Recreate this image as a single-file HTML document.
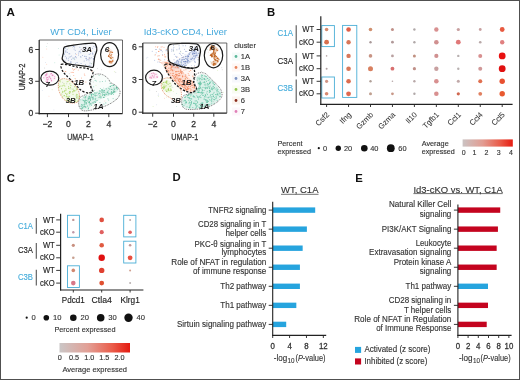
<!DOCTYPE html>
<html><head><meta charset="utf-8"><style>
html,body{margin:0;padding:0;background:#fff;}
svg{display:block;font-family:"Liberation Sans", sans-serif;will-change:transform;}
</style></head><body>
<svg width="520" height="380" viewBox="0 0 520 380">
<rect width="520" height="380" fill="#fff"/>
<text x="6.6" y="16" font-size="11.3" fill="#111" font-weight="bold" textLength="8.4" lengthAdjust="spacingAndGlyphs">A</text>
<text x="266.9" y="16.3" font-size="11.3" fill="#111" font-weight="bold">B</text>
<text x="6.8" y="181.8" font-size="11.3" fill="#111" font-weight="bold">C</text>
<text x="172.4" y="181.3" font-size="11.3" fill="#111" font-weight="bold">D</text>
<text x="355.3" y="181.9" font-size="11.3" fill="#111" font-weight="bold">E</text>
<text x="50.2" y="34.5" font-size="9.3" fill="#45a9dc" stroke="#45a9dc" stroke-width="0" textLength="61.5" lengthAdjust="spacingAndGlyphs">WT CD4, Liver</text>
<text x="143.7" y="34.7" font-size="9.3" fill="#45a9dc" stroke="#45a9dc" stroke-width="0" textLength="83.3" lengthAdjust="spacingAndGlyphs">Id3-cKO CD4, Liver</text>
<path d="M92.3,77.0 C93.2,75.5 94.4,74.6 96.1,74.2 C97.8,73.8 100.4,73.9 102.4,74.6 C104.4,75.3 106.8,77.3 108.1,78.6 C109.4,79.9 109.3,81.3 110.5,82.4 C111.7,83.5 113.6,84.0 115.0,85.0 C116.4,86.0 118.0,87.5 118.8,88.7 C119.6,90.0 120.2,91.0 120.1,92.5 C120.0,94.0 119.2,96.1 118.2,97.6 C117.2,99.1 115.6,100.2 113.8,101.4 C112.0,102.7 109.6,104.1 107.5,105.1 C105.4,106.1 103.6,106.7 101.0,107.5 C98.4,108.3 95.0,109.5 92.0,110.0 C89.0,110.5 85.2,111.3 83.0,110.6 C80.8,109.9 79.6,108.1 79.0,106.0 C78.4,103.9 78.5,99.9 79.6,98.0 C80.7,96.1 83.7,95.8 85.7,94.5 C87.7,93.2 91.0,92.4 91.8,90.5 C92.6,88.6 90.4,85.2 90.5,83.0 C90.6,80.8 91.4,78.5 92.3,77.0 Z" fill="#66c2a5" fill-opacity="0.04"/>
<circle cx="84.52" cy="105.05" r="0.55" fill="#66c2a5" fill-opacity="0.7"/>
<circle cx="110.39" cy="83.48" r="0.55" fill="#66c2a5" fill-opacity="0.7"/>
<circle cx="99.36" cy="90.56" r="0.55" fill="#66c2a5" fill-opacity="0.7"/>
<circle cx="105.78" cy="102.91" r="0.55" fill="#66c2a5" fill-opacity="0.7"/>
<circle cx="113.35" cy="89.95" r="0.55" fill="#66c2a5" fill-opacity="0.7"/>
<circle cx="97.31" cy="100.46" r="0.55" fill="#66c2a5" fill-opacity="0.7"/>
<circle cx="88.40" cy="108.61" r="0.55" fill="#66c2a5" fill-opacity="0.7"/>
<circle cx="117.60" cy="88.08" r="0.55" fill="#66c2a5" fill-opacity="0.7"/>
<circle cx="97.00" cy="92.25" r="0.55" fill="#66c2a5" fill-opacity="0.7"/>
<circle cx="113.42" cy="94.45" r="0.55" fill="#66c2a5" fill-opacity="0.7"/>
<circle cx="105.40" cy="80.97" r="0.55" fill="#66c2a5" fill-opacity="0.7"/>
<circle cx="108.65" cy="100.09" r="0.55" fill="#66c2a5" fill-opacity="0.7"/>
<circle cx="117.49" cy="89.56" r="0.55" fill="#66c2a5" fill-opacity="0.7"/>
<circle cx="113.11" cy="98.60" r="0.55" fill="#66c2a5" fill-opacity="0.7"/>
<circle cx="91.47" cy="95.59" r="0.55" fill="#66c2a5" fill-opacity="0.7"/>
<circle cx="99.77" cy="95.64" r="0.55" fill="#66c2a5" fill-opacity="0.7"/>
<circle cx="111.77" cy="89.28" r="0.55" fill="#66c2a5" fill-opacity="0.7"/>
<circle cx="107.89" cy="98.75" r="0.55" fill="#66c2a5" fill-opacity="0.7"/>
<circle cx="94.40" cy="90.18" r="0.55" fill="#66c2a5" fill-opacity="0.7"/>
<circle cx="99.90" cy="102.54" r="0.55" fill="#66c2a5" fill-opacity="0.7"/>
<circle cx="100.41" cy="88.51" r="0.55" fill="#66c2a5" fill-opacity="0.7"/>
<circle cx="99.13" cy="75.28" r="0.55" fill="#66c2a5" fill-opacity="0.7"/>
<circle cx="80.79" cy="99.80" r="0.55" fill="#66c2a5" fill-opacity="0.7"/>
<circle cx="95.18" cy="80.40" r="0.55" fill="#66c2a5" fill-opacity="0.7"/>
<circle cx="110.67" cy="93.84" r="0.55" fill="#66c2a5" fill-opacity="0.7"/>
<circle cx="102.75" cy="90.91" r="0.55" fill="#66c2a5" fill-opacity="0.7"/>
<circle cx="90.07" cy="94.15" r="0.55" fill="#66c2a5" fill-opacity="0.7"/>
<circle cx="112.26" cy="93.08" r="0.55" fill="#66c2a5" fill-opacity="0.7"/>
<circle cx="102.07" cy="89.71" r="0.55" fill="#66c2a5" fill-opacity="0.7"/>
<circle cx="81.31" cy="105.87" r="0.55" fill="#66c2a5" fill-opacity="0.7"/>
<circle cx="102.43" cy="81.47" r="0.55" fill="#66c2a5" fill-opacity="0.7"/>
<circle cx="99.74" cy="91.85" r="0.55" fill="#66c2a5" fill-opacity="0.7"/>
<circle cx="93.66" cy="86.80" r="0.55" fill="#66c2a5" fill-opacity="0.7"/>
<circle cx="101.13" cy="96.90" r="0.55" fill="#66c2a5" fill-opacity="0.7"/>
<circle cx="104.17" cy="90.88" r="0.55" fill="#66c2a5" fill-opacity="0.7"/>
<circle cx="86.28" cy="95.47" r="0.55" fill="#66c2a5" fill-opacity="0.7"/>
<circle cx="89.49" cy="104.84" r="0.55" fill="#66c2a5" fill-opacity="0.7"/>
<circle cx="110.05" cy="83.28" r="0.55" fill="#66c2a5" fill-opacity="0.7"/>
<circle cx="83.50" cy="96.94" r="0.55" fill="#66c2a5" fill-opacity="0.7"/>
<circle cx="93.16" cy="76.73" r="0.55" fill="#66c2a5" fill-opacity="0.7"/>
<circle cx="108.25" cy="90.75" r="0.55" fill="#66c2a5" fill-opacity="0.7"/>
<circle cx="92.23" cy="91.45" r="0.55" fill="#66c2a5" fill-opacity="0.7"/>
<circle cx="96.30" cy="81.04" r="0.55" fill="#66c2a5" fill-opacity="0.7"/>
<circle cx="83.47" cy="106.95" r="0.55" fill="#66c2a5" fill-opacity="0.7"/>
<circle cx="99.97" cy="81.81" r="0.55" fill="#66c2a5" fill-opacity="0.7"/>
<circle cx="103.89" cy="103.94" r="0.55" fill="#66c2a5" fill-opacity="0.7"/>
<circle cx="85.02" cy="100.37" r="0.55" fill="#66c2a5" fill-opacity="0.7"/>
<circle cx="85.59" cy="99.85" r="0.55" fill="#66c2a5" fill-opacity="0.7"/>
<circle cx="106.87" cy="94.03" r="0.55" fill="#66c2a5" fill-opacity="0.7"/>
<circle cx="88.07" cy="109.71" r="0.55" fill="#66c2a5" fill-opacity="0.7"/>
<circle cx="111.79" cy="93.00" r="0.55" fill="#66c2a5" fill-opacity="0.7"/>
<circle cx="88.17" cy="97.81" r="0.55" fill="#66c2a5" fill-opacity="0.7"/>
<circle cx="95.23" cy="95.16" r="0.55" fill="#66c2a5" fill-opacity="0.7"/>
<circle cx="92.20" cy="97.17" r="0.55" fill="#66c2a5" fill-opacity="0.7"/>
<circle cx="91.59" cy="105.45" r="0.55" fill="#66c2a5" fill-opacity="0.7"/>
<path d="M80.0,109.0 C78.7,107.5 79.0,102.2 80.0,100.0 C81.0,97.8 83.3,97.3 86.0,96.0 C88.7,94.7 92.7,93.3 96.0,92.0 C99.3,90.7 103.2,89.2 106.0,88.0 C108.8,86.8 111.0,84.7 113.0,84.5 C115.0,84.3 117.3,85.8 118.0,87.0 C118.7,88.2 118.7,90.5 117.0,92.0 C115.3,93.5 111.0,94.7 108.0,96.0 C105.0,97.3 101.7,98.5 99.0,100.0 C96.3,101.5 93.8,103.5 92.0,105.0 C90.2,106.5 90.0,108.3 88.0,109.0 C86.0,109.7 81.3,110.5 80.0,109.0 Z" fill="#66c2a5" fill-opacity="0.16"/>
<circle cx="108.27" cy="94.70" r="0.55" fill="#4fb894" fill-opacity="0.78"/>
<circle cx="113.39" cy="85.43" r="0.55" fill="#4fb894" fill-opacity="0.78"/>
<circle cx="94.36" cy="93.00" r="0.55" fill="#4fb894" fill-opacity="0.78"/>
<circle cx="87.82" cy="101.02" r="0.55" fill="#4fb894" fill-opacity="0.78"/>
<circle cx="83.97" cy="100.82" r="0.55" fill="#4fb894" fill-opacity="0.78"/>
<circle cx="91.25" cy="96.75" r="0.55" fill="#4fb894" fill-opacity="0.78"/>
<circle cx="88.92" cy="102.27" r="0.55" fill="#4fb894" fill-opacity="0.78"/>
<circle cx="114.62" cy="89.72" r="0.55" fill="#4fb894" fill-opacity="0.78"/>
<circle cx="111.96" cy="93.52" r="0.55" fill="#4fb894" fill-opacity="0.78"/>
<circle cx="85.14" cy="98.00" r="0.55" fill="#4fb894" fill-opacity="0.78"/>
<circle cx="82.78" cy="105.72" r="0.55" fill="#4fb894" fill-opacity="0.78"/>
<circle cx="92.95" cy="99.57" r="0.55" fill="#4fb894" fill-opacity="0.78"/>
<circle cx="109.71" cy="93.76" r="0.55" fill="#4fb894" fill-opacity="0.78"/>
<circle cx="101.69" cy="89.98" r="0.55" fill="#4fb894" fill-opacity="0.78"/>
<circle cx="90.53" cy="103.78" r="0.55" fill="#4fb894" fill-opacity="0.78"/>
<circle cx="84.37" cy="106.18" r="0.55" fill="#4fb894" fill-opacity="0.78"/>
<circle cx="89.17" cy="102.73" r="0.55" fill="#4fb894" fill-opacity="0.78"/>
<circle cx="83.91" cy="106.81" r="0.55" fill="#4fb894" fill-opacity="0.78"/>
<circle cx="114.55" cy="91.70" r="0.55" fill="#4fb894" fill-opacity="0.78"/>
<circle cx="89.63" cy="96.19" r="0.55" fill="#4fb894" fill-opacity="0.78"/>
<circle cx="83.80" cy="100.48" r="0.55" fill="#4fb894" fill-opacity="0.78"/>
<circle cx="102.67" cy="95.52" r="0.55" fill="#4fb894" fill-opacity="0.78"/>
<circle cx="116.85" cy="87.23" r="0.55" fill="#4fb894" fill-opacity="0.78"/>
<circle cx="88.18" cy="99.64" r="0.55" fill="#4fb894" fill-opacity="0.78"/>
<circle cx="89.85" cy="97.77" r="0.55" fill="#4fb894" fill-opacity="0.78"/>
<circle cx="113.95" cy="91.92" r="0.55" fill="#4fb894" fill-opacity="0.78"/>
<circle cx="92.70" cy="97.83" r="0.55" fill="#4fb894" fill-opacity="0.78"/>
<circle cx="82.85" cy="100.07" r="0.55" fill="#4fb894" fill-opacity="0.78"/>
<circle cx="91.05" cy="103.91" r="0.55" fill="#4fb894" fill-opacity="0.78"/>
<circle cx="85.86" cy="96.79" r="0.55" fill="#4fb894" fill-opacity="0.78"/>
<circle cx="110.21" cy="86.39" r="0.55" fill="#4fb894" fill-opacity="0.78"/>
<circle cx="116.07" cy="88.74" r="0.55" fill="#4fb894" fill-opacity="0.78"/>
<circle cx="111.22" cy="92.33" r="0.55" fill="#4fb894" fill-opacity="0.78"/>
<circle cx="114.94" cy="91.69" r="0.55" fill="#4fb894" fill-opacity="0.78"/>
<circle cx="113.96" cy="87.97" r="0.55" fill="#4fb894" fill-opacity="0.78"/>
<circle cx="106.20" cy="88.86" r="0.55" fill="#4fb894" fill-opacity="0.78"/>
<circle cx="100.87" cy="97.76" r="0.55" fill="#4fb894" fill-opacity="0.78"/>
<circle cx="95.04" cy="92.80" r="0.55" fill="#4fb894" fill-opacity="0.78"/>
<circle cx="104.56" cy="94.71" r="0.55" fill="#4fb894" fill-opacity="0.78"/>
<circle cx="111.50" cy="94.25" r="0.55" fill="#4fb894" fill-opacity="0.78"/>
<circle cx="95.24" cy="99.50" r="0.55" fill="#4fb894" fill-opacity="0.78"/>
<circle cx="100.09" cy="96.77" r="0.55" fill="#4fb894" fill-opacity="0.78"/>
<circle cx="104.66" cy="95.24" r="0.55" fill="#4fb894" fill-opacity="0.78"/>
<circle cx="89.06" cy="96.63" r="0.55" fill="#4fb894" fill-opacity="0.78"/>
<circle cx="95.67" cy="98.23" r="0.55" fill="#4fb894" fill-opacity="0.78"/>
<circle cx="90.46" cy="100.34" r="0.55" fill="#4fb894" fill-opacity="0.78"/>
<circle cx="86.06" cy="103.27" r="0.55" fill="#4fb894" fill-opacity="0.78"/>
<circle cx="113.55" cy="92.14" r="0.55" fill="#4fb894" fill-opacity="0.78"/>
<circle cx="94.12" cy="101.68" r="0.55" fill="#4fb894" fill-opacity="0.78"/>
<circle cx="88.27" cy="98.45" r="0.55" fill="#4fb894" fill-opacity="0.78"/>
<circle cx="93.22" cy="97.12" r="0.55" fill="#4fb894" fill-opacity="0.78"/>
<circle cx="86.26" cy="102.38" r="0.55" fill="#4fb894" fill-opacity="0.78"/>
<circle cx="81.55" cy="108.54" r="0.55" fill="#4fb894" fill-opacity="0.78"/>
<circle cx="116.46" cy="87.91" r="0.55" fill="#4fb894" fill-opacity="0.78"/>
<circle cx="84.80" cy="106.77" r="0.55" fill="#4fb894" fill-opacity="0.78"/>
<circle cx="116.46" cy="87.42" r="0.55" fill="#4fb894" fill-opacity="0.78"/>
<circle cx="102.83" cy="94.50" r="0.55" fill="#4fb894" fill-opacity="0.78"/>
<circle cx="89.43" cy="102.86" r="0.55" fill="#4fb894" fill-opacity="0.78"/>
<circle cx="111.74" cy="89.56" r="0.55" fill="#4fb894" fill-opacity="0.78"/>
<circle cx="90.82" cy="97.79" r="0.55" fill="#4fb894" fill-opacity="0.78"/>
<circle cx="90.38" cy="98.85" r="0.55" fill="#4fb894" fill-opacity="0.78"/>
<circle cx="89.53" cy="101.25" r="0.55" fill="#4fb894" fill-opacity="0.78"/>
<circle cx="84.11" cy="104.28" r="0.55" fill="#4fb894" fill-opacity="0.78"/>
<circle cx="84.49" cy="102.81" r="0.55" fill="#4fb894" fill-opacity="0.78"/>
<circle cx="85.19" cy="96.76" r="0.55" fill="#4fb894" fill-opacity="0.78"/>
<circle cx="101.76" cy="92.13" r="0.55" fill="#4fb894" fill-opacity="0.78"/>
<circle cx="99.12" cy="93.24" r="0.55" fill="#4fb894" fill-opacity="0.78"/>
<circle cx="96.81" cy="95.51" r="0.55" fill="#4fb894" fill-opacity="0.78"/>
<circle cx="91.58" cy="94.29" r="0.55" fill="#4fb894" fill-opacity="0.78"/>
<circle cx="103.56" cy="97.51" r="0.55" fill="#4fb894" fill-opacity="0.78"/>
<circle cx="94.79" cy="94.93" r="0.55" fill="#4fb894" fill-opacity="0.78"/>
<circle cx="103.93" cy="94.47" r="0.55" fill="#4fb894" fill-opacity="0.78"/>
<circle cx="96.06" cy="93.20" r="0.55" fill="#4fb894" fill-opacity="0.78"/>
<circle cx="106.24" cy="94.35" r="0.55" fill="#4fb894" fill-opacity="0.78"/>
<circle cx="113.67" cy="91.09" r="0.55" fill="#4fb894" fill-opacity="0.78"/>
<circle cx="82.85" cy="104.85" r="0.55" fill="#4fb894" fill-opacity="0.78"/>
<circle cx="99.88" cy="93.52" r="0.55" fill="#4fb894" fill-opacity="0.78"/>
<circle cx="86.41" cy="100.50" r="0.55" fill="#4fb894" fill-opacity="0.78"/>
<circle cx="90.25" cy="99.44" r="0.55" fill="#4fb894" fill-opacity="0.78"/>
<circle cx="88.82" cy="98.25" r="0.55" fill="#4fb894" fill-opacity="0.78"/>
<circle cx="86.55" cy="103.85" r="0.55" fill="#4fb894" fill-opacity="0.78"/>
<circle cx="112.94" cy="92.58" r="0.55" fill="#4fb894" fill-opacity="0.78"/>
<circle cx="88.45" cy="108.11" r="0.55" fill="#4fb894" fill-opacity="0.78"/>
<circle cx="81.16" cy="106.54" r="0.55" fill="#4fb894" fill-opacity="0.78"/>
<circle cx="103.65" cy="92.25" r="0.55" fill="#4fb894" fill-opacity="0.78"/>
<circle cx="109.85" cy="89.15" r="0.55" fill="#4fb894" fill-opacity="0.78"/>
<circle cx="103.04" cy="90.92" r="0.55" fill="#4fb894" fill-opacity="0.78"/>
<circle cx="85.25" cy="102.04" r="0.55" fill="#4fb894" fill-opacity="0.78"/>
<circle cx="93.72" cy="102.91" r="0.55" fill="#4fb894" fill-opacity="0.78"/>
<circle cx="89.14" cy="102.09" r="0.55" fill="#4fb894" fill-opacity="0.78"/>
<circle cx="107.30" cy="91.98" r="0.55" fill="#4fb894" fill-opacity="0.78"/>
<circle cx="84.49" cy="101.47" r="0.55" fill="#4fb894" fill-opacity="0.78"/>
<circle cx="98.81" cy="93.76" r="0.55" fill="#4fb894" fill-opacity="0.78"/>
<circle cx="102.04" cy="89.69" r="0.55" fill="#4fb894" fill-opacity="0.78"/>
<circle cx="107.17" cy="92.59" r="0.55" fill="#4fb894" fill-opacity="0.78"/>
<circle cx="92.14" cy="93.89" r="0.55" fill="#4fb894" fill-opacity="0.78"/>
<circle cx="108.83" cy="88.23" r="0.55" fill="#4fb894" fill-opacity="0.78"/>
<circle cx="85.52" cy="100.79" r="0.55" fill="#4fb894" fill-opacity="0.78"/>
<circle cx="111.94" cy="85.55" r="0.55" fill="#4fb894" fill-opacity="0.78"/>
<circle cx="105.19" cy="94.05" r="0.55" fill="#4fb894" fill-opacity="0.78"/>
<circle cx="104.38" cy="90.46" r="0.55" fill="#4fb894" fill-opacity="0.78"/>
<circle cx="82.29" cy="107.41" r="0.55" fill="#4fb894" fill-opacity="0.78"/>
<circle cx="102.44" cy="93.07" r="0.55" fill="#4fb894" fill-opacity="0.78"/>
<circle cx="93.42" cy="94.61" r="0.55" fill="#4fb894" fill-opacity="0.78"/>
<circle cx="87.58" cy="106.06" r="0.55" fill="#4fb894" fill-opacity="0.78"/>
<circle cx="96.12" cy="100.73" r="0.55" fill="#4fb894" fill-opacity="0.78"/>
<circle cx="85.74" cy="107.01" r="0.55" fill="#4fb894" fill-opacity="0.78"/>
<circle cx="95.02" cy="101.84" r="0.55" fill="#4fb894" fill-opacity="0.78"/>
<circle cx="113.53" cy="85.10" r="0.55" fill="#4fb894" fill-opacity="0.78"/>
<circle cx="110.41" cy="86.60" r="0.55" fill="#4fb894" fill-opacity="0.78"/>
<circle cx="107.84" cy="92.17" r="0.55" fill="#4fb894" fill-opacity="0.78"/>
<circle cx="84.94" cy="103.97" r="0.55" fill="#4fb894" fill-opacity="0.78"/>
<circle cx="91.54" cy="94.91" r="0.55" fill="#4fb894" fill-opacity="0.78"/>
<circle cx="89.32" cy="98.15" r="0.55" fill="#4fb894" fill-opacity="0.78"/>
<circle cx="104.80" cy="95.49" r="0.55" fill="#4fb894" fill-opacity="0.78"/>
<circle cx="111.60" cy="91.64" r="0.55" fill="#4fb894" fill-opacity="0.78"/>
<circle cx="93.12" cy="98.59" r="0.55" fill="#4fb894" fill-opacity="0.78"/>
<circle cx="81.66" cy="104.47" r="0.55" fill="#4fb894" fill-opacity="0.78"/>
<circle cx="104.74" cy="92.18" r="0.55" fill="#4fb894" fill-opacity="0.78"/>
<circle cx="92.36" cy="102.84" r="0.55" fill="#4fb894" fill-opacity="0.78"/>
<circle cx="99.04" cy="97.39" r="0.55" fill="#4fb894" fill-opacity="0.78"/>
<circle cx="85.65" cy="106.90" r="0.55" fill="#4fb894" fill-opacity="0.78"/>
<circle cx="82.62" cy="108.50" r="0.55" fill="#4fb894" fill-opacity="0.78"/>
<circle cx="85.11" cy="97.33" r="0.55" fill="#4fb894" fill-opacity="0.78"/>
<circle cx="108.37" cy="93.36" r="0.55" fill="#4fb894" fill-opacity="0.78"/>
<circle cx="95.30" cy="95.88" r="0.55" fill="#4fb894" fill-opacity="0.78"/>
<circle cx="114.46" cy="89.02" r="0.55" fill="#4fb894" fill-opacity="0.78"/>
<circle cx="95.62" cy="102.34" r="0.55" fill="#4fb894" fill-opacity="0.78"/>
<circle cx="100.74" cy="91.01" r="0.55" fill="#4fb894" fill-opacity="0.78"/>
<circle cx="104.02" cy="97.40" r="0.55" fill="#4fb894" fill-opacity="0.78"/>
<path d="M59.3,80.6 C60.3,79.4 62.4,78.4 64.4,78.6 C66.4,78.8 69.3,79.9 71.5,81.6 C73.7,83.3 76.2,86.2 77.6,88.7 C78.9,91.2 79.6,94.6 79.6,96.8 C79.6,99.0 79.1,100.9 77.6,101.9 C76.1,102.9 72.9,103.4 70.5,102.9 C68.1,102.4 65.3,100.8 63.4,98.9 C61.5,97.1 60.1,94.0 59.3,91.8 C58.4,89.6 58.3,87.6 58.3,85.7 C58.3,83.8 58.3,81.8 59.3,80.6 Z" fill="#a6d854" fill-opacity="0.12"/>
<circle cx="59.97" cy="80.37" r="0.55" fill="#98cc44" fill-opacity="0.75"/>
<circle cx="76.42" cy="94.23" r="0.55" fill="#98cc44" fill-opacity="0.75"/>
<circle cx="58.77" cy="87.54" r="0.55" fill="#98cc44" fill-opacity="0.75"/>
<circle cx="76.35" cy="95.86" r="0.55" fill="#98cc44" fill-opacity="0.75"/>
<circle cx="71.04" cy="99.63" r="0.55" fill="#98cc44" fill-opacity="0.75"/>
<circle cx="77.32" cy="88.94" r="0.55" fill="#98cc44" fill-opacity="0.75"/>
<circle cx="72.69" cy="91.83" r="0.55" fill="#98cc44" fill-opacity="0.75"/>
<circle cx="78.42" cy="98.00" r="0.55" fill="#98cc44" fill-opacity="0.75"/>
<circle cx="73.76" cy="98.38" r="0.55" fill="#98cc44" fill-opacity="0.75"/>
<circle cx="62.59" cy="96.75" r="0.55" fill="#98cc44" fill-opacity="0.75"/>
<circle cx="74.71" cy="91.10" r="0.55" fill="#98cc44" fill-opacity="0.75"/>
<circle cx="68.67" cy="88.41" r="0.55" fill="#98cc44" fill-opacity="0.75"/>
<circle cx="77.10" cy="97.95" r="0.55" fill="#98cc44" fill-opacity="0.75"/>
<circle cx="76.43" cy="89.74" r="0.55" fill="#98cc44" fill-opacity="0.75"/>
<circle cx="62.34" cy="85.87" r="0.55" fill="#98cc44" fill-opacity="0.75"/>
<circle cx="60.86" cy="85.95" r="0.55" fill="#98cc44" fill-opacity="0.75"/>
<circle cx="77.20" cy="96.75" r="0.55" fill="#98cc44" fill-opacity="0.75"/>
<circle cx="70.48" cy="92.00" r="0.55" fill="#98cc44" fill-opacity="0.75"/>
<circle cx="69.50" cy="91.77" r="0.55" fill="#98cc44" fill-opacity="0.75"/>
<circle cx="75.74" cy="101.77" r="0.55" fill="#98cc44" fill-opacity="0.75"/>
<circle cx="67.00" cy="93.91" r="0.55" fill="#98cc44" fill-opacity="0.75"/>
<circle cx="64.86" cy="85.94" r="0.55" fill="#98cc44" fill-opacity="0.75"/>
<circle cx="69.08" cy="92.85" r="0.55" fill="#98cc44" fill-opacity="0.75"/>
<circle cx="70.01" cy="102.33" r="0.55" fill="#98cc44" fill-opacity="0.75"/>
<circle cx="61.77" cy="94.07" r="0.55" fill="#98cc44" fill-opacity="0.75"/>
<circle cx="79.48" cy="96.49" r="0.55" fill="#98cc44" fill-opacity="0.75"/>
<circle cx="70.35" cy="87.55" r="0.55" fill="#98cc44" fill-opacity="0.75"/>
<circle cx="77.37" cy="94.87" r="0.55" fill="#98cc44" fill-opacity="0.75"/>
<circle cx="77.44" cy="101.08" r="0.55" fill="#98cc44" fill-opacity="0.75"/>
<circle cx="76.33" cy="87.92" r="0.55" fill="#98cc44" fill-opacity="0.75"/>
<circle cx="68.19" cy="97.94" r="0.55" fill="#98cc44" fill-opacity="0.75"/>
<circle cx="66.24" cy="96.81" r="0.55" fill="#98cc44" fill-opacity="0.75"/>
<circle cx="68.55" cy="86.78" r="0.55" fill="#98cc44" fill-opacity="0.75"/>
<circle cx="68.02" cy="81.43" r="0.55" fill="#98cc44" fill-opacity="0.75"/>
<circle cx="65.85" cy="88.69" r="0.55" fill="#98cc44" fill-opacity="0.75"/>
<circle cx="70.86" cy="85.58" r="0.55" fill="#98cc44" fill-opacity="0.75"/>
<circle cx="69.24" cy="96.57" r="0.55" fill="#98cc44" fill-opacity="0.75"/>
<circle cx="73.03" cy="89.13" r="0.55" fill="#98cc44" fill-opacity="0.75"/>
<circle cx="74.85" cy="90.40" r="0.55" fill="#98cc44" fill-opacity="0.75"/>
<circle cx="73.54" cy="90.54" r="0.55" fill="#98cc44" fill-opacity="0.75"/>
<circle cx="78.99" cy="96.00" r="0.55" fill="#98cc44" fill-opacity="0.75"/>
<circle cx="60.25" cy="81.75" r="0.55" fill="#98cc44" fill-opacity="0.75"/>
<circle cx="58.86" cy="84.75" r="0.55" fill="#98cc44" fill-opacity="0.75"/>
<circle cx="68.52" cy="101.74" r="0.55" fill="#98cc44" fill-opacity="0.75"/>
<circle cx="66.80" cy="96.18" r="0.55" fill="#98cc44" fill-opacity="0.75"/>
<circle cx="70.01" cy="91.59" r="0.55" fill="#98cc44" fill-opacity="0.75"/>
<circle cx="70.08" cy="88.80" r="0.55" fill="#98cc44" fill-opacity="0.75"/>
<circle cx="63.95" cy="85.37" r="0.55" fill="#98cc44" fill-opacity="0.75"/>
<circle cx="68.52" cy="97.88" r="0.55" fill="#98cc44" fill-opacity="0.75"/>
<circle cx="76.57" cy="97.71" r="0.55" fill="#98cc44" fill-opacity="0.75"/>
<circle cx="66.60" cy="94.85" r="0.55" fill="#98cc44" fill-opacity="0.75"/>
<circle cx="64.57" cy="90.94" r="0.55" fill="#98cc44" fill-opacity="0.75"/>
<circle cx="66.53" cy="100.60" r="0.55" fill="#98cc44" fill-opacity="0.75"/>
<circle cx="62.59" cy="91.25" r="0.55" fill="#98cc44" fill-opacity="0.75"/>
<circle cx="67.17" cy="100.18" r="0.55" fill="#98cc44" fill-opacity="0.75"/>
<circle cx="68.79" cy="100.35" r="0.55" fill="#98cc44" fill-opacity="0.75"/>
<circle cx="69.90" cy="83.82" r="0.55" fill="#98cc44" fill-opacity="0.75"/>
<circle cx="74.48" cy="86.79" r="0.55" fill="#98cc44" fill-opacity="0.75"/>
<circle cx="64.00" cy="91.74" r="0.55" fill="#98cc44" fill-opacity="0.75"/>
<circle cx="67.68" cy="97.06" r="0.55" fill="#98cc44" fill-opacity="0.75"/>
<circle cx="64.15" cy="95.76" r="0.55" fill="#98cc44" fill-opacity="0.75"/>
<circle cx="67.07" cy="81.76" r="0.55" fill="#98cc44" fill-opacity="0.75"/>
<circle cx="62.46" cy="92.23" r="0.55" fill="#98cc44" fill-opacity="0.75"/>
<circle cx="71.05" cy="101.93" r="0.55" fill="#98cc44" fill-opacity="0.75"/>
<circle cx="69.65" cy="93.40" r="0.55" fill="#98cc44" fill-opacity="0.75"/>
<circle cx="61.47" cy="88.66" r="0.55" fill="#98cc44" fill-opacity="0.75"/>
<circle cx="64.26" cy="95.50" r="0.55" fill="#98cc44" fill-opacity="0.75"/>
<circle cx="63.99" cy="83.81" r="0.55" fill="#98cc44" fill-opacity="0.75"/>
<circle cx="66.13" cy="90.03" r="0.55" fill="#98cc44" fill-opacity="0.75"/>
<circle cx="65.51" cy="93.32" r="0.55" fill="#98cc44" fill-opacity="0.75"/>
<circle cx="73.09" cy="91.59" r="0.55" fill="#98cc44" fill-opacity="0.75"/>
<circle cx="59.54" cy="86.52" r="0.55" fill="#98cc44" fill-opacity="0.75"/>
<circle cx="73.00" cy="94.28" r="0.55" fill="#98cc44" fill-opacity="0.75"/>
<circle cx="75.59" cy="100.26" r="0.55" fill="#98cc44" fill-opacity="0.75"/>
<circle cx="65.02" cy="90.60" r="0.55" fill="#98cc44" fill-opacity="0.75"/>
<path d="M64.4,47.1 C66.1,45.8 68.8,45.8 73.5,45.1 C78.2,44.4 89.1,43.1 92.8,43.1 C96.5,43.1 95.1,43.9 95.8,45.1 C96.5,46.3 97.0,48.3 96.8,50.2 C96.6,52.1 95.3,54.1 94.8,56.3 C94.3,58.5 94.1,61.5 93.8,63.4 C93.5,65.2 94.0,66.9 92.8,67.4 C91.6,67.9 89.1,66.7 86.7,66.4 C84.3,66.1 81.1,65.7 78.6,65.4 C76.1,65.1 73.5,64.7 71.5,64.4 C69.5,64.1 67.9,64.2 66.4,63.4 C64.9,62.5 62.8,61.0 62.3,59.3 C61.8,57.6 63.0,55.2 63.4,53.2 C63.8,51.2 62.7,48.5 64.4,47.1 Z" fill="#8da0cb" fill-opacity="0.07"/>
<circle cx="73.69" cy="46.21" r="0.5" fill="#7d92c4" fill-opacity="0.7"/>
<circle cx="67.13" cy="49.33" r="0.5" fill="#7d92c4" fill-opacity="0.7"/>
<circle cx="65.34" cy="56.19" r="0.5" fill="#7d92c4" fill-opacity="0.7"/>
<circle cx="86.55" cy="56.78" r="0.5" fill="#7d92c4" fill-opacity="0.7"/>
<circle cx="85.92" cy="48.60" r="0.5" fill="#7d92c4" fill-opacity="0.7"/>
<circle cx="69.18" cy="56.89" r="0.5" fill="#7d92c4" fill-opacity="0.7"/>
<circle cx="92.81" cy="53.36" r="0.5" fill="#7d92c4" fill-opacity="0.7"/>
<circle cx="72.83" cy="58.05" r="0.5" fill="#7d92c4" fill-opacity="0.7"/>
<circle cx="65.22" cy="48.56" r="0.5" fill="#7d92c4" fill-opacity="0.7"/>
<circle cx="74.07" cy="57.71" r="0.5" fill="#7d92c4" fill-opacity="0.7"/>
<circle cx="73.68" cy="46.49" r="0.5" fill="#7d92c4" fill-opacity="0.7"/>
<circle cx="70.95" cy="61.81" r="0.5" fill="#7d92c4" fill-opacity="0.7"/>
<circle cx="85.80" cy="44.10" r="0.5" fill="#7d92c4" fill-opacity="0.7"/>
<circle cx="64.97" cy="60.72" r="0.5" fill="#7d92c4" fill-opacity="0.7"/>
<circle cx="65.86" cy="50.80" r="0.5" fill="#7d92c4" fill-opacity="0.7"/>
<circle cx="84.32" cy="48.98" r="0.5" fill="#7d92c4" fill-opacity="0.7"/>
<circle cx="85.75" cy="49.75" r="0.5" fill="#7d92c4" fill-opacity="0.7"/>
<circle cx="80.08" cy="50.92" r="0.5" fill="#7d92c4" fill-opacity="0.7"/>
<circle cx="95.03" cy="51.66" r="0.5" fill="#7d92c4" fill-opacity="0.7"/>
<circle cx="90.02" cy="58.68" r="0.5" fill="#7d92c4" fill-opacity="0.7"/>
<circle cx="91.39" cy="57.83" r="0.5" fill="#7d92c4" fill-opacity="0.7"/>
<circle cx="92.33" cy="52.95" r="0.5" fill="#7d92c4" fill-opacity="0.7"/>
<circle cx="85.73" cy="58.18" r="0.5" fill="#7d92c4" fill-opacity="0.7"/>
<circle cx="80.51" cy="56.82" r="0.5" fill="#7d92c4" fill-opacity="0.7"/>
<circle cx="80.78" cy="52.67" r="0.5" fill="#7d92c4" fill-opacity="0.7"/>
<circle cx="93.29" cy="58.48" r="0.5" fill="#7d92c4" fill-opacity="0.7"/>
<circle cx="81.24" cy="44.41" r="0.5" fill="#7d92c4" fill-opacity="0.7"/>
<circle cx="79.84" cy="47.36" r="0.5" fill="#7d92c4" fill-opacity="0.7"/>
<circle cx="69.72" cy="53.66" r="0.5" fill="#7d92c4" fill-opacity="0.7"/>
<circle cx="81.14" cy="49.19" r="0.5" fill="#7d92c4" fill-opacity="0.7"/>
<circle cx="71.65" cy="55.98" r="0.5" fill="#7d92c4" fill-opacity="0.7"/>
<circle cx="78.63" cy="52.90" r="0.5" fill="#7d92c4" fill-opacity="0.7"/>
<circle cx="65.88" cy="52.18" r="0.5" fill="#7d92c4" fill-opacity="0.7"/>
<circle cx="84.88" cy="56.32" r="0.5" fill="#7d92c4" fill-opacity="0.7"/>
<circle cx="81.09" cy="63.60" r="0.5" fill="#7d92c4" fill-opacity="0.7"/>
<circle cx="87.25" cy="59.74" r="0.5" fill="#7d92c4" fill-opacity="0.7"/>
<circle cx="85.84" cy="46.89" r="0.5" fill="#7d92c4" fill-opacity="0.7"/>
<circle cx="93.81" cy="46.55" r="0.5" fill="#7d92c4" fill-opacity="0.7"/>
<circle cx="92.63" cy="48.36" r="0.5" fill="#7d92c4" fill-opacity="0.7"/>
<circle cx="91.33" cy="63.71" r="0.5" fill="#7d92c4" fill-opacity="0.7"/>
<circle cx="73.87" cy="64.69" r="0.5" fill="#7d92c4" fill-opacity="0.7"/>
<circle cx="75.47" cy="53.79" r="0.5" fill="#7d92c4" fill-opacity="0.7"/>
<circle cx="66.37" cy="57.70" r="0.5" fill="#7d92c4" fill-opacity="0.7"/>
<circle cx="71.61" cy="59.31" r="0.5" fill="#7d92c4" fill-opacity="0.7"/>
<circle cx="89.88" cy="57.77" r="0.5" fill="#7d92c4" fill-opacity="0.7"/>
<circle cx="94.03" cy="58.72" r="0.5" fill="#7d92c4" fill-opacity="0.7"/>
<circle cx="75.39" cy="56.75" r="0.5" fill="#7d92c4" fill-opacity="0.7"/>
<circle cx="92.76" cy="54.27" r="0.5" fill="#7d92c4" fill-opacity="0.7"/>
<circle cx="89.18" cy="57.64" r="0.5" fill="#7d92c4" fill-opacity="0.7"/>
<circle cx="76.39" cy="57.82" r="0.5" fill="#7d92c4" fill-opacity="0.7"/>
<circle cx="64.14" cy="54.54" r="0.5" fill="#7d92c4" fill-opacity="0.7"/>
<circle cx="63.59" cy="60.21" r="0.5" fill="#7d92c4" fill-opacity="0.7"/>
<circle cx="79.83" cy="51.76" r="0.5" fill="#7d92c4" fill-opacity="0.7"/>
<circle cx="93.66" cy="59.01" r="0.5" fill="#7d92c4" fill-opacity="0.7"/>
<circle cx="89.97" cy="63.02" r="0.5" fill="#7d92c4" fill-opacity="0.7"/>
<circle cx="70.76" cy="62.74" r="0.5" fill="#7d92c4" fill-opacity="0.7"/>
<circle cx="70.57" cy="56.77" r="0.5" fill="#7d92c4" fill-opacity="0.7"/>
<circle cx="74.64" cy="46.96" r="0.5" fill="#7d92c4" fill-opacity="0.7"/>
<circle cx="89.10" cy="65.37" r="0.5" fill="#7d92c4" fill-opacity="0.7"/>
<circle cx="73.12" cy="64.48" r="0.5" fill="#7d92c4" fill-opacity="0.7"/>
<circle cx="74.25" cy="59.08" r="0.5" fill="#7d92c4" fill-opacity="0.7"/>
<circle cx="64.22" cy="53.67" r="0.5" fill="#7d92c4" fill-opacity="0.7"/>
<circle cx="75.28" cy="50.24" r="0.5" fill="#7d92c4" fill-opacity="0.7"/>
<circle cx="90.46" cy="53.82" r="0.5" fill="#7d92c4" fill-opacity="0.7"/>
<circle cx="86.42" cy="58.53" r="0.5" fill="#7d92c4" fill-opacity="0.7"/>
<circle cx="80.21" cy="44.46" r="0.5" fill="#7d92c4" fill-opacity="0.7"/>
<circle cx="85.52" cy="64.76" r="0.5" fill="#7d92c4" fill-opacity="0.7"/>
<circle cx="68.24" cy="58.72" r="0.5" fill="#7d92c4" fill-opacity="0.7"/>
<circle cx="79.12" cy="51.39" r="0.5" fill="#7d92c4" fill-opacity="0.7"/>
<circle cx="75.52" cy="63.36" r="0.5" fill="#7d92c4" fill-opacity="0.7"/>
<circle cx="68.33" cy="60.51" r="0.5" fill="#7d92c4" fill-opacity="0.7"/>
<circle cx="65.74" cy="51.26" r="0.5" fill="#7d92c4" fill-opacity="0.7"/>
<circle cx="89.37" cy="54.31" r="0.5" fill="#7d92c4" fill-opacity="0.7"/>
<circle cx="78.56" cy="55.07" r="0.5" fill="#7d92c4" fill-opacity="0.7"/>
<circle cx="88.97" cy="60.67" r="0.5" fill="#7d92c4" fill-opacity="0.7"/>
<circle cx="68.98" cy="53.81" r="0.5" fill="#7d92c4" fill-opacity="0.7"/>
<circle cx="81.00" cy="56.99" r="0.5" fill="#7d92c4" fill-opacity="0.7"/>
<circle cx="67.47" cy="52.24" r="0.5" fill="#7d92c4" fill-opacity="0.7"/>
<circle cx="64.87" cy="47.55" r="0.5" fill="#7d92c4" fill-opacity="0.7"/>
<circle cx="88.73" cy="59.31" r="0.5" fill="#7d92c4" fill-opacity="0.7"/>
<circle cx="89.83" cy="50.11" r="0.5" fill="#7d92c4" fill-opacity="0.7"/>
<circle cx="90.80" cy="66.11" r="0.5" fill="#7d92c4" fill-opacity="0.7"/>
<circle cx="84.17" cy="60.99" r="0.5" fill="#7d92c4" fill-opacity="0.7"/>
<circle cx="93.79" cy="56.17" r="0.5" fill="#7d92c4" fill-opacity="0.7"/>
<circle cx="93.60" cy="59.19" r="0.5" fill="#7d92c4" fill-opacity="0.7"/>
<circle cx="74.12" cy="48.91" r="0.5" fill="#7d92c4" fill-opacity="0.7"/>
<circle cx="89.04" cy="65.83" r="0.5" fill="#7d92c4" fill-opacity="0.7"/>
<circle cx="95.43" cy="47.37" r="0.5" fill="#7d92c4" fill-opacity="0.7"/>
<circle cx="82.49" cy="55.57" r="0.5" fill="#7d92c4" fill-opacity="0.7"/>
<circle cx="77.05" cy="62.40" r="0.5" fill="#7d92c4" fill-opacity="0.7"/>
<circle cx="86.46" cy="59.88" r="0.5" fill="#7d92c4" fill-opacity="0.7"/>
<circle cx="84.85" cy="56.14" r="0.5" fill="#7d92c4" fill-opacity="0.7"/>
<circle cx="70.85" cy="62.04" r="0.5" fill="#7d92c4" fill-opacity="0.7"/>
<circle cx="66.41" cy="58.75" r="0.5" fill="#7d92c4" fill-opacity="0.7"/>
<circle cx="75.65" cy="56.71" r="0.5" fill="#7d92c4" fill-opacity="0.7"/>
<circle cx="81.51" cy="78.00" r="0.5" fill="#fc8d62" fill-opacity="0.7"/>
<circle cx="92.11" cy="71.19" r="0.5" fill="#fc8d62" fill-opacity="0.7"/>
<circle cx="71.13" cy="72.30" r="0.5" fill="#fc8d62" fill-opacity="0.7"/>
<circle cx="74.39" cy="81.30" r="0.5" fill="#fc8d62" fill-opacity="0.7"/>
<circle cx="71.33" cy="79.59" r="0.5" fill="#fc8d62" fill-opacity="0.7"/>
<circle cx="75.43" cy="78.65" r="0.5" fill="#fc8d62" fill-opacity="0.7"/>
<circle cx="74.45" cy="69.16" r="0.5" fill="#fc8d62" fill-opacity="0.7"/>
<circle cx="73.76" cy="75.45" r="0.5" fill="#fc8d62" fill-opacity="0.7"/>
<circle cx="72.64" cy="68.70" r="0.5" fill="#fc8d62" fill-opacity="0.7"/>
<circle cx="85.89" cy="82.07" r="0.5" fill="#fc8d62" fill-opacity="0.7"/>
<circle cx="84.33" cy="73.95" r="0.5" fill="#fc8d62" fill-opacity="0.7"/>
<circle cx="65.80" cy="71.64" r="0.5" fill="#fc8d62" fill-opacity="0.7"/>
<circle cx="72.30" cy="72.33" r="0.5" fill="#fc8d62" fill-opacity="0.7"/>
<circle cx="76.03" cy="68.63" r="0.5" fill="#fc8d62" fill-opacity="0.7"/>
<circle cx="65.40" cy="71.58" r="0.5" fill="#fc8d62" fill-opacity="0.7"/>
<circle cx="78.23" cy="70.03" r="0.5" fill="#fc8d62" fill-opacity="0.7"/>
<circle cx="79.49" cy="80.13" r="0.5" fill="#fc8d62" fill-opacity="0.7"/>
<circle cx="73.63" cy="69.96" r="0.5" fill="#fc8d62" fill-opacity="0.7"/>
<circle cx="84.81" cy="75.27" r="0.5" fill="#fc8d62" fill-opacity="0.7"/>
<circle cx="82.80" cy="81.18" r="0.5" fill="#fc8d62" fill-opacity="0.7"/>
<circle cx="63.64" cy="71.25" r="0.5" fill="#fc8d62" fill-opacity="0.7"/>
<circle cx="73.32" cy="72.51" r="0.5" fill="#fc8d62" fill-opacity="0.7"/>
<path d="M107.1,51.6 C107.3,52.2 109.7,51.7 109.8,52.4 C109.9,53.2 107.6,55.1 107.7,56.3 C107.9,57.4 110.6,58.2 110.7,59.1 C110.8,60.1 108.3,61.2 108.5,62.0 C108.6,62.9 110.6,64.5 111.5,64.0 C112.5,63.4 114.3,60.2 114.3,58.9 C114.3,57.5 111.5,57.0 111.3,55.7 C111.1,54.5 113.6,52.8 113.2,51.6 C112.8,50.3 109.9,48.4 108.9,48.4 C107.9,48.4 107.0,50.9 107.1,51.6 Z" fill="#c8661e" fill-opacity="0.12"/>
<circle cx="109.67" cy="61.45" r="0.6" fill="#cc6a28" fill-opacity="0.85"/>
<circle cx="109.61" cy="56.74" r="0.6" fill="#cc6a28" fill-opacity="0.85"/>
<circle cx="108.61" cy="55.63" r="0.6" fill="#cc6a28" fill-opacity="0.85"/>
<circle cx="111.37" cy="57.98" r="0.6" fill="#cc6a28" fill-opacity="0.85"/>
<circle cx="112.53" cy="52.39" r="0.6" fill="#cc6a28" fill-opacity="0.85"/>
<circle cx="109.38" cy="61.04" r="0.6" fill="#cc6a28" fill-opacity="0.85"/>
<circle cx="111.66" cy="52.25" r="0.6" fill="#cc6a28" fill-opacity="0.85"/>
<circle cx="108.60" cy="56.32" r="0.6" fill="#cc6a28" fill-opacity="0.85"/>
<circle cx="112.20" cy="61.15" r="0.6" fill="#cc6a28" fill-opacity="0.85"/>
<circle cx="109.87" cy="62.76" r="0.6" fill="#cc6a28" fill-opacity="0.85"/>
<circle cx="108.94" cy="48.49" r="0.6" fill="#cc6a28" fill-opacity="0.85"/>
<circle cx="107.98" cy="51.56" r="0.6" fill="#cc6a28" fill-opacity="0.85"/>
<circle cx="110.57" cy="57.96" r="0.6" fill="#cc6a28" fill-opacity="0.85"/>
<circle cx="111.93" cy="62.73" r="0.6" fill="#cc6a28" fill-opacity="0.85"/>
<circle cx="110.72" cy="61.71" r="0.6" fill="#cc6a28" fill-opacity="0.85"/>
<circle cx="110.13" cy="52.66" r="0.6" fill="#cc6a28" fill-opacity="0.85"/>
<circle cx="110.98" cy="62.78" r="0.6" fill="#cc6a28" fill-opacity="0.85"/>
<circle cx="110.15" cy="55.29" r="0.6" fill="#cc6a28" fill-opacity="0.85"/>
<circle cx="108.47" cy="56.35" r="0.6" fill="#cc6a28" fill-opacity="0.85"/>
<circle cx="110.86" cy="51.50" r="0.6" fill="#cc6a28" fill-opacity="0.85"/>
<circle cx="109.69" cy="62.05" r="0.6" fill="#cc6a28" fill-opacity="0.85"/>
<circle cx="110.40" cy="61.38" r="0.6" fill="#cc6a28" fill-opacity="0.85"/>
<circle cx="108.38" cy="50.73" r="0.6" fill="#cc6a28" fill-opacity="0.85"/>
<circle cx="112.83" cy="61.50" r="0.6" fill="#cc6a28" fill-opacity="0.85"/>
<circle cx="111.75" cy="54.56" r="0.6" fill="#cc6a28" fill-opacity="0.85"/>
<circle cx="110.18" cy="57.57" r="0.6" fill="#cc6a28" fill-opacity="0.85"/>
<circle cx="109.39" cy="50.76" r="0.6" fill="#cc6a28" fill-opacity="0.85"/>
<circle cx="111.34" cy="61.64" r="0.6" fill="#cc6a28" fill-opacity="0.85"/>
<circle cx="109.10" cy="61.86" r="0.6" fill="#cc6a28" fill-opacity="0.85"/>
<circle cx="112.77" cy="60.47" r="0.6" fill="#cc6a28" fill-opacity="0.85"/>
<circle cx="112.79" cy="57.37" r="0.6" fill="#cc6a28" fill-opacity="0.85"/>
<circle cx="109.53" cy="54.15" r="0.6" fill="#cc6a28" fill-opacity="0.85"/>
<circle cx="111.07" cy="58.33" r="0.6" fill="#cc6a28" fill-opacity="0.85"/>
<circle cx="111.30" cy="55.96" r="0.6" fill="#cc6a28" fill-opacity="0.85"/>
<path d="M56.3,77.5 C56.3,77.8 56.3,78.0 56.2,78.3 C56.2,78.5 56.1,78.7 56.0,79.0 C55.9,79.2 55.7,79.5 55.6,79.7 C55.4,79.9 55.3,80.1 55.1,80.3 C54.9,80.5 54.6,80.7 54.4,80.9 C54.2,81.1 53.9,81.2 53.6,81.4 C53.3,81.5 53.1,81.7 52.8,81.8 C52.4,81.9 52.1,82.0 51.8,82.1 C51.5,82.1 51.2,82.2 50.8,82.2 C50.5,82.3 50.1,82.3 49.8,82.3 C49.5,82.3 49.1,82.3 48.8,82.2 C48.4,82.2 48.1,82.1 47.8,82.1 C47.5,82.0 47.2,81.9 46.8,81.8 C46.5,81.7 46.3,81.5 46.0,81.4 C45.7,81.2 45.4,81.1 45.2,80.9 C45.0,80.7 44.7,80.5 44.5,80.3 C44.3,80.1 44.2,79.9 44.0,79.7 C43.9,79.5 43.7,79.2 43.6,79.0 C43.5,78.7 43.4,78.5 43.4,78.3 C43.3,78.0 43.3,77.8 43.3,77.5 C43.3,77.2 43.3,77.0 43.4,76.7 C43.4,76.5 43.5,76.3 43.6,76.0 C43.7,75.8 43.9,75.5 44.0,75.3 C44.2,75.1 44.3,74.9 44.5,74.7 C44.7,74.5 45.0,74.3 45.2,74.1 C45.4,73.9 45.7,73.8 46.0,73.6 C46.3,73.5 46.5,73.3 46.8,73.2 C47.2,73.1 47.5,73.0 47.8,72.9 C48.1,72.9 48.4,72.8 48.8,72.8 C49.1,72.7 49.5,72.7 49.8,72.7 C50.1,72.7 50.5,72.7 50.8,72.8 C51.2,72.8 51.5,72.9 51.8,72.9 C52.1,73.0 52.4,73.1 52.8,73.2 C53.1,73.3 53.3,73.5 53.6,73.6 C53.9,73.8 54.2,73.9 54.4,74.1 C54.6,74.3 54.9,74.5 55.1,74.7 C55.3,74.9 55.4,75.1 55.6,75.3 C55.7,75.5 55.9,75.8 56.0,76.0 C56.1,76.3 56.2,76.5 56.2,76.7 C56.3,77.0 56.3,77.2 56.3,77.5 Z" fill="#e78ac3" fill-opacity="0.12"/>
<circle cx="51.55" cy="80.83" r="0.55" fill="#e478b8" fill-opacity="0.8"/>
<circle cx="49.10" cy="77.50" r="0.55" fill="#e478b8" fill-opacity="0.8"/>
<circle cx="45.39" cy="75.82" r="0.55" fill="#e478b8" fill-opacity="0.8"/>
<circle cx="46.08" cy="81.30" r="0.55" fill="#e478b8" fill-opacity="0.8"/>
<circle cx="47.42" cy="77.58" r="0.55" fill="#e478b8" fill-opacity="0.8"/>
<circle cx="54.37" cy="78.54" r="0.55" fill="#e478b8" fill-opacity="0.8"/>
<circle cx="51.50" cy="80.57" r="0.55" fill="#e478b8" fill-opacity="0.8"/>
<circle cx="50.46" cy="78.21" r="0.55" fill="#e478b8" fill-opacity="0.8"/>
<circle cx="51.34" cy="73.42" r="0.55" fill="#e478b8" fill-opacity="0.8"/>
<circle cx="46.77" cy="73.50" r="0.55" fill="#e478b8" fill-opacity="0.8"/>
<circle cx="46.97" cy="79.67" r="0.55" fill="#e478b8" fill-opacity="0.8"/>
<circle cx="46.72" cy="74.72" r="0.55" fill="#e478b8" fill-opacity="0.8"/>
<circle cx="46.90" cy="77.31" r="0.55" fill="#e478b8" fill-opacity="0.8"/>
<circle cx="52.89" cy="75.59" r="0.55" fill="#e478b8" fill-opacity="0.8"/>
<circle cx="47.40" cy="81.59" r="0.55" fill="#e478b8" fill-opacity="0.8"/>
<circle cx="49.05" cy="76.19" r="0.55" fill="#e478b8" fill-opacity="0.8"/>
<circle cx="47.40" cy="79.90" r="0.55" fill="#e478b8" fill-opacity="0.8"/>
<circle cx="50.95" cy="79.07" r="0.55" fill="#e478b8" fill-opacity="0.8"/>
<circle cx="54.65" cy="76.78" r="0.55" fill="#e478b8" fill-opacity="0.8"/>
<circle cx="50.93" cy="73.88" r="0.55" fill="#e478b8" fill-opacity="0.8"/>
<circle cx="46.77" cy="74.58" r="0.55" fill="#e478b8" fill-opacity="0.8"/>
<circle cx="47.65" cy="81.95" r="0.55" fill="#e478b8" fill-opacity="0.8"/>
<circle cx="52.70" cy="74.81" r="0.55" fill="#e478b8" fill-opacity="0.8"/>
<circle cx="46.59" cy="78.00" r="0.55" fill="#e478b8" fill-opacity="0.8"/>
<circle cx="43.76" cy="77.77" r="0.55" fill="#e478b8" fill-opacity="0.8"/>
<circle cx="46.02" cy="75.47" r="0.55" fill="#e478b8" fill-opacity="0.8"/>
<circle cx="49.68" cy="76.27" r="0.55" fill="#e478b8" fill-opacity="0.8"/>
<circle cx="48.40" cy="78.97" r="0.55" fill="#e478b8" fill-opacity="0.8"/>
<circle cx="45.84" cy="74.44" r="0.55" fill="#e478b8" fill-opacity="0.8"/>
<circle cx="52.20" cy="75.55" r="0.55" fill="#e478b8" fill-opacity="0.8"/>
<circle cx="114.32" cy="71.81" r="0.45" fill="#a6d854" fill-opacity="0.55"/>
<circle cx="70.30" cy="75.94" r="0.45" fill="#66c2a5" fill-opacity="0.55"/>
<circle cx="93.15" cy="82.07" r="0.45" fill="#888" fill-opacity="0.55"/>
<circle cx="115.80" cy="72.23" r="0.45" fill="#888" fill-opacity="0.55"/>
<circle cx="68.76" cy="48.01" r="0.45" fill="#a6d854" fill-opacity="0.55"/>
<circle cx="57.30" cy="77.76" r="0.45" fill="#a6d854" fill-opacity="0.55"/>
<circle cx="115.79" cy="99.25" r="0.45" fill="#888" fill-opacity="0.55"/>
<circle cx="93.25" cy="106.53" r="0.45" fill="#a6d854" fill-opacity="0.55"/>
<circle cx="88.58" cy="92.91" r="0.45" fill="#a6d854" fill-opacity="0.55"/>
<circle cx="88.87" cy="54.18" r="0.45" fill="#8da0cb" fill-opacity="0.55"/>
<circle cx="94.43" cy="78.45" r="0.45" fill="#888" fill-opacity="0.55"/>
<circle cx="101.33" cy="69.80" r="0.45" fill="#888" fill-opacity="0.55"/>
<circle cx="62.23" cy="63.97" r="0.45" fill="#888" fill-opacity="0.55"/>
<circle cx="100.74" cy="95.86" r="0.45" fill="#a6d854" fill-opacity="0.55"/>
<circle cx="111.14" cy="58.69" r="0.45" fill="#a6d854" fill-opacity="0.55"/>
<circle cx="58.37" cy="75.18" r="0.45" fill="#8da0cb" fill-opacity="0.55"/>
<circle cx="96.02" cy="85.31" r="0.45" fill="#a6d854" fill-opacity="0.55"/>
<circle cx="108.86" cy="46.67" r="0.45" fill="#66c2a5" fill-opacity="0.55"/>
<circle cx="69.74" cy="96.06" r="0.45" fill="#66c2a5" fill-opacity="0.55"/>
<circle cx="61.97" cy="79.58" r="0.45" fill="#66c2a5" fill-opacity="0.55"/>
<circle cx="65.89" cy="44.01" r="0.45" fill="#8da0cb" fill-opacity="0.55"/>
<circle cx="66.07" cy="102.35" r="0.45" fill="#66c2a5" fill-opacity="0.55"/>
<circle cx="58.32" cy="48.53" r="0.45" fill="#66c2a5" fill-opacity="0.55"/>
<circle cx="94.11" cy="98.50" r="0.45" fill="#66c2a5" fill-opacity="0.55"/>
<circle cx="52.12" cy="89.70" r="0.45" fill="#a6d854" fill-opacity="0.55"/>
<circle cx="89.15" cy="58.72" r="0.45" fill="#fc8d62" fill-opacity="0.55"/>
<circle cx="100.60" cy="94.16" r="0.45" fill="#888" fill-opacity="0.55"/>
<circle cx="91.73" cy="63.45" r="0.45" fill="#a6d854" fill-opacity="0.55"/>
<circle cx="74.70" cy="78.58" r="0.45" fill="#a6d854" fill-opacity="0.55"/>
<circle cx="104.87" cy="101.00" r="0.45" fill="#fc8d62" fill-opacity="0.55"/>
<circle cx="73.72" cy="58.66" r="0.45" fill="#66c2a5" fill-opacity="0.55"/>
<circle cx="89.94" cy="85.57" r="0.45" fill="#fc8d62" fill-opacity="0.55"/>
<circle cx="97.33" cy="68.64" r="0.45" fill="#888" fill-opacity="0.55"/>
<circle cx="53.95" cy="109.89" r="0.45" fill="#8da0cb" fill-opacity="0.55"/>
<circle cx="42.31" cy="90.62" r="0.45" fill="#8da0cb" fill-opacity="0.55"/>
<circle cx="76.54" cy="54.55" r="0.45" fill="#fc8d62" fill-opacity="0.55"/>
<circle cx="44.61" cy="68.06" r="0.45" fill="#888" fill-opacity="0.55"/>
<circle cx="68.63" cy="97.16" r="0.45" fill="#a6d854" fill-opacity="0.55"/>
<circle cx="66.75" cy="83.81" r="0.45" fill="#888" fill-opacity="0.55"/>
<circle cx="92.12" cy="97.78" r="0.45" fill="#8da0cb" fill-opacity="0.55"/>
<circle cx="75.40" cy="99.92" r="0.45" fill="#66c2a5" fill-opacity="0.55"/>
<circle cx="91.57" cy="50.77" r="0.45" fill="#fc8d62" fill-opacity="0.55"/>
<circle cx="109.47" cy="93.56" r="0.45" fill="#8da0cb" fill-opacity="0.55"/>
<circle cx="75.96" cy="96.03" r="0.45" fill="#66c2a5" fill-opacity="0.55"/>
<circle cx="50.12" cy="77.83" r="0.45" fill="#888" fill-opacity="0.55"/>
<circle cx="54.80" cy="62.74" r="0.45" fill="#66c2a5" fill-opacity="0.55"/>
<circle cx="117.84" cy="47.62" r="0.45" fill="#66c2a5" fill-opacity="0.55"/>
<circle cx="94.18" cy="71.59" r="0.45" fill="#66c2a5" fill-opacity="0.55"/>
<circle cx="47.31" cy="43.61" r="0.45" fill="#888" fill-opacity="0.55"/>
<circle cx="68.41" cy="96.08" r="0.45" fill="#888" fill-opacity="0.55"/>
<circle cx="42.88" cy="57.29" r="0.45" fill="#fc8d62" fill-opacity="0.55"/>
<circle cx="62.78" cy="82.32" r="0.45" fill="#888" fill-opacity="0.55"/>
<circle cx="61.63" cy="58.79" r="0.45" fill="#fc8d62" fill-opacity="0.55"/>
<circle cx="72.46" cy="47.04" r="0.45" fill="#888" fill-opacity="0.55"/>
<circle cx="96.35" cy="45.39" r="0.45" fill="#8da0cb" fill-opacity="0.55"/>
<circle cx="73.64" cy="44.08" r="0.45" fill="#fc8d62" fill-opacity="0.55"/>
<circle cx="81.28" cy="49.33" r="0.45" fill="#fc8d62" fill-opacity="0.55"/>
<circle cx="59.08" cy="54.93" r="0.45" fill="#66c2a5" fill-opacity="0.55"/>
<circle cx="46.74" cy="64.22" r="0.45" fill="#fc8d62" fill-opacity="0.55"/>
<circle cx="47.06" cy="72.96" r="0.45" fill="#fc8d62" fill-opacity="0.55"/>
<circle cx="45.53" cy="62.35" r="0.45" fill="#8da0cb" fill-opacity="0.55"/>
<circle cx="46.71" cy="49.03" r="0.45" fill="#fc8d62" fill-opacity="0.55"/>
<circle cx="103.53" cy="87.94" r="0.45" fill="#66c2a5" fill-opacity="0.55"/>
<circle cx="46.64" cy="46.65" r="0.45" fill="#66c2a5" fill-opacity="0.55"/>
<circle cx="48.96" cy="96.15" r="0.45" fill="#fc8d62" fill-opacity="0.55"/>
<circle cx="114.74" cy="91.27" r="0.45" fill="#888" fill-opacity="0.55"/>
<circle cx="74.89" cy="59.81" r="0.45" fill="#66c2a5" fill-opacity="0.55"/>
<circle cx="98.16" cy="94.71" r="0.45" fill="#8da0cb" fill-opacity="0.55"/>
<circle cx="69.25" cy="73.71" r="0.45" fill="#888" fill-opacity="0.55"/>
<circle cx="71.76" cy="88.89" r="0.45" fill="#66c2a5" fill-opacity="0.55"/>
<path d="M64.4,47.1 C66.1,45.8 68.8,45.8 73.5,45.1 C78.2,44.4 89.1,43.1 92.8,43.1 C96.5,43.1 95.1,43.9 95.8,45.1 C96.5,46.3 97.0,48.3 96.8,50.2 C96.6,52.1 95.3,54.1 94.8,56.3 C94.3,58.5 94.1,61.5 93.8,63.4 C93.5,65.2 94.0,66.9 92.8,67.4 C91.6,67.9 89.1,66.7 86.7,66.4 C84.3,66.1 81.1,65.7 78.6,65.4 C76.1,65.1 73.5,64.7 71.5,64.4 C69.5,64.1 67.9,64.2 66.4,63.4 C64.9,62.5 62.8,61.0 62.3,59.3 C61.8,57.6 63.0,55.2 63.4,53.2 C63.8,51.2 62.7,48.5 64.4,47.1 Z" fill="none" stroke="#1a1a1a" stroke-width="1.25"/>
<path d="M61.3,64.4 C62.7,63.6 67.6,64.9 70.5,65.4 C73.4,65.9 75.9,66.9 78.6,67.4 C81.3,67.9 84.3,67.7 86.7,68.4 C89.1,69.1 92.0,70.2 92.8,71.5 C93.6,72.8 92.3,74.8 91.8,76.5 C91.3,78.2 89.9,79.9 89.7,81.6 C89.5,83.3 90.2,85.0 90.7,86.7 C91.2,88.4 93.3,90.8 92.8,91.8 C92.3,92.8 89.6,93.0 87.7,92.8 C85.8,92.6 83.5,91.9 81.6,90.7 C79.7,89.5 78.3,87.6 76.5,85.7 C74.7,83.8 72.3,81.5 70.5,79.6 C68.7,77.7 66.8,76.0 65.4,74.5 C64.0,73.0 63.0,72.2 62.3,70.5 C61.6,68.8 59.9,65.2 61.3,64.4 Z" fill="none" stroke="#1a1a1a" stroke-width="1.25" stroke-dasharray="2.2,1.5"/>
<path d="M59.3,80.6 C60.3,79.4 62.4,78.4 64.4,78.6 C66.4,78.8 69.3,79.9 71.5,81.6 C73.7,83.3 76.2,86.2 77.6,88.7 C78.9,91.2 79.6,94.6 79.6,96.8 C79.6,99.0 79.1,100.9 77.6,101.9 C76.1,102.9 72.9,103.4 70.5,102.9 C68.1,102.4 65.3,100.8 63.4,98.9 C61.5,97.1 60.1,94.0 59.3,91.8 C58.4,89.6 58.3,87.6 58.3,85.7 C58.3,83.8 58.3,81.8 59.3,80.6 Z" fill="none" stroke="#e07a4c" stroke-width="0.8" stroke-dasharray="0.9,0.9"/>
<path d="M92.3,77.0 C93.2,75.5 94.4,74.6 96.1,74.2 C97.8,73.8 100.4,73.9 102.4,74.6 C104.4,75.3 106.8,77.3 108.1,78.6 C109.4,79.9 109.3,81.3 110.5,82.4 C111.7,83.5 113.6,84.0 115.0,85.0 C116.4,86.0 118.0,87.5 118.8,88.7 C119.6,90.0 120.2,91.0 120.1,92.5 C120.0,94.0 119.2,96.1 118.2,97.6 C117.2,99.1 115.6,100.2 113.8,101.4 C112.0,102.7 109.6,104.1 107.5,105.1 C105.4,106.1 103.6,106.7 101.0,107.5 C98.4,108.3 95.0,109.5 92.0,110.0 C89.0,110.5 85.2,111.3 83.0,110.6 C80.8,109.9 79.6,108.1 79.0,106.0 C78.4,103.9 78.5,99.9 79.6,98.0 C80.7,96.1 83.7,95.8 85.7,94.5 C87.7,93.2 91.0,92.4 91.8,90.5 C92.6,88.6 90.4,85.2 90.5,83.0 C90.6,80.8 91.4,78.5 92.3,77.0 Z" fill="none" stroke="#333" stroke-width="0.7" stroke-dasharray="0.9,0.9"/>
<ellipse cx="109.6" cy="54.6" rx="9.0" ry="12.0" fill="none" stroke="#1a1a1a" stroke-width="1.2"/>
<ellipse cx="49.8" cy="78.2" rx="9.0" ry="7.0" fill="none" stroke="#1a1a1a" stroke-width="1.2"/>
<text x="87.0" y="51.6" font-size="7.8" fill="#1a1a1a" text-anchor="middle" font-weight="bold" font-style="italic">3A</text>
<text x="106.8" y="51.6" font-size="7.8" fill="#1a1a1a" text-anchor="middle" font-weight="bold" font-style="italic">6</text>
<text x="47.6" y="87.2" font-size="7.8" fill="#1a1a1a" text-anchor="middle" font-weight="bold" font-style="italic">7</text>
<text x="79.2" y="85.4" font-size="7.8" fill="#1a1a1a" text-anchor="middle" font-weight="bold" font-style="italic">1B</text>
<text x="70.7" y="103.2" font-size="7.8" fill="#1a1a1a" text-anchor="middle" font-weight="bold" font-style="italic">3B</text>
<text x="98.6" y="109.0" font-size="7.8" fill="#1a1a1a" text-anchor="middle" font-weight="bold" font-style="italic">1A</text>
<line x1="39.2" y1="40.0" x2="122.5" y2="40.0" stroke="#444" stroke-width="0.8"/>
<line x1="122.5" y1="40.0" x2="122.5" y2="113.6" stroke="#444" stroke-width="0.8"/>
<line x1="39.2" y1="40.0" x2="39.2" y2="114.19999999999999" stroke="#222" stroke-width="1.2"/>
<line x1="38.6" y1="113.6" x2="122.5" y2="113.6" stroke="#222" stroke-width="1.2"/>
<line x1="35.2" y1="49.5" x2="39.2" y2="49.5" stroke="#222" stroke-width="0.9"/>
<text x="33.300000000000004" y="52.5" font-size="8.6" fill="#333" stroke="#333" stroke-width="0.28" text-anchor="end">6</text>
<line x1="35.2" y1="81.3" x2="39.2" y2="81.3" stroke="#222" stroke-width="0.9"/>
<text x="33.300000000000004" y="84.3" font-size="8.6" fill="#333" stroke="#333" stroke-width="0.28" text-anchor="end">3</text>
<line x1="35.2" y1="113.2" x2="39.2" y2="113.2" stroke="#222" stroke-width="0.9"/>
<text x="33.300000000000004" y="116.2" font-size="8.6" fill="#333" stroke="#333" stroke-width="0.28" text-anchor="end">0</text>
<line x1="47.4" y1="113.6" x2="47.4" y2="117.1" stroke="#222" stroke-width="0.9"/>
<text x="47.4" y="127.1" font-size="8.6" fill="#333" stroke="#333" stroke-width="0.28" text-anchor="middle">−2</text>
<line x1="68.5" y1="113.6" x2="68.5" y2="117.1" stroke="#222" stroke-width="0.9"/>
<text x="68.5" y="127.1" font-size="8.6" fill="#333" stroke="#333" stroke-width="0.28" text-anchor="middle">0</text>
<line x1="88.3" y1="113.6" x2="88.3" y2="117.1" stroke="#222" stroke-width="0.9"/>
<text x="88.3" y="127.1" font-size="8.6" fill="#333" stroke="#333" stroke-width="0.28" text-anchor="middle">2</text>
<line x1="108.8" y1="113.6" x2="108.8" y2="117.1" stroke="#222" stroke-width="0.9"/>
<text x="108.8" y="127.1" font-size="8.6" fill="#333" stroke="#333" stroke-width="0.28" text-anchor="middle">4</text>
<path d="M182.0,106.0 C180.5,104.0 182.3,99.3 184.0,97.0 C185.7,94.7 189.7,93.5 192.0,92.0 C194.3,90.5 197.3,90.3 198.0,88.0 C198.7,85.7 195.2,80.3 196.0,78.0 C196.8,75.7 200.3,73.7 203.0,74.0 C205.7,74.3 209.2,77.3 212.0,80.0 C214.8,82.7 218.5,87.3 220.0,90.0 C221.5,92.7 221.8,93.8 221.0,96.0 C220.2,98.2 217.7,101.2 215.0,103.0 C212.3,104.8 208.7,106.0 205.0,107.0 C201.3,108.0 196.8,109.2 193.0,109.0 C189.2,108.8 183.5,108.0 182.0,106.0 Z" fill="#66c2a5" fill-opacity="0.22"/>
<circle cx="214.58" cy="99.76" r="0.55" fill="#58bf9e" fill-opacity="0.78"/>
<circle cx="208.12" cy="84.78" r="0.55" fill="#58bf9e" fill-opacity="0.78"/>
<circle cx="205.63" cy="95.24" r="0.55" fill="#58bf9e" fill-opacity="0.78"/>
<circle cx="204.67" cy="79.54" r="0.55" fill="#58bf9e" fill-opacity="0.78"/>
<circle cx="198.80" cy="87.77" r="0.55" fill="#58bf9e" fill-opacity="0.78"/>
<circle cx="219.03" cy="93.05" r="0.55" fill="#58bf9e" fill-opacity="0.78"/>
<circle cx="199.35" cy="83.39" r="0.55" fill="#58bf9e" fill-opacity="0.78"/>
<circle cx="200.13" cy="85.15" r="0.55" fill="#58bf9e" fill-opacity="0.78"/>
<circle cx="196.82" cy="105.21" r="0.55" fill="#58bf9e" fill-opacity="0.78"/>
<circle cx="202.50" cy="93.62" r="0.55" fill="#58bf9e" fill-opacity="0.78"/>
<circle cx="208.30" cy="80.36" r="0.55" fill="#58bf9e" fill-opacity="0.78"/>
<circle cx="211.75" cy="101.64" r="0.55" fill="#58bf9e" fill-opacity="0.78"/>
<circle cx="195.80" cy="108.33" r="0.55" fill="#58bf9e" fill-opacity="0.78"/>
<circle cx="211.41" cy="99.03" r="0.55" fill="#58bf9e" fill-opacity="0.78"/>
<circle cx="199.99" cy="92.56" r="0.55" fill="#58bf9e" fill-opacity="0.78"/>
<circle cx="201.11" cy="106.37" r="0.55" fill="#58bf9e" fill-opacity="0.78"/>
<circle cx="201.53" cy="103.10" r="0.55" fill="#58bf9e" fill-opacity="0.78"/>
<circle cx="195.80" cy="104.90" r="0.55" fill="#58bf9e" fill-opacity="0.78"/>
<circle cx="217.09" cy="90.14" r="0.55" fill="#58bf9e" fill-opacity="0.78"/>
<circle cx="204.14" cy="106.21" r="0.55" fill="#58bf9e" fill-opacity="0.78"/>
<circle cx="210.23" cy="91.03" r="0.55" fill="#58bf9e" fill-opacity="0.78"/>
<circle cx="209.28" cy="79.81" r="0.55" fill="#58bf9e" fill-opacity="0.78"/>
<circle cx="201.67" cy="92.12" r="0.55" fill="#58bf9e" fill-opacity="0.78"/>
<circle cx="207.41" cy="94.58" r="0.55" fill="#58bf9e" fill-opacity="0.78"/>
<circle cx="201.96" cy="106.70" r="0.55" fill="#58bf9e" fill-opacity="0.78"/>
<circle cx="206.31" cy="76.64" r="0.55" fill="#58bf9e" fill-opacity="0.78"/>
<circle cx="214.00" cy="99.41" r="0.55" fill="#58bf9e" fill-opacity="0.78"/>
<circle cx="207.46" cy="83.56" r="0.55" fill="#58bf9e" fill-opacity="0.78"/>
<circle cx="190.84" cy="104.64" r="0.55" fill="#58bf9e" fill-opacity="0.78"/>
<circle cx="190.21" cy="104.82" r="0.55" fill="#58bf9e" fill-opacity="0.78"/>
<circle cx="198.49" cy="99.09" r="0.55" fill="#58bf9e" fill-opacity="0.78"/>
<circle cx="188.70" cy="97.55" r="0.55" fill="#58bf9e" fill-opacity="0.78"/>
<circle cx="189.17" cy="98.20" r="0.55" fill="#58bf9e" fill-opacity="0.78"/>
<circle cx="205.99" cy="99.99" r="0.55" fill="#58bf9e" fill-opacity="0.78"/>
<circle cx="211.87" cy="99.90" r="0.55" fill="#58bf9e" fill-opacity="0.78"/>
<circle cx="217.18" cy="100.45" r="0.55" fill="#58bf9e" fill-opacity="0.78"/>
<circle cx="215.64" cy="98.69" r="0.55" fill="#58bf9e" fill-opacity="0.78"/>
<circle cx="200.44" cy="81.89" r="0.55" fill="#58bf9e" fill-opacity="0.78"/>
<circle cx="207.77" cy="85.07" r="0.55" fill="#58bf9e" fill-opacity="0.78"/>
<circle cx="204.81" cy="87.75" r="0.55" fill="#58bf9e" fill-opacity="0.78"/>
<circle cx="202.08" cy="79.03" r="0.55" fill="#58bf9e" fill-opacity="0.78"/>
<circle cx="205.64" cy="88.69" r="0.55" fill="#58bf9e" fill-opacity="0.78"/>
<circle cx="185.74" cy="96.23" r="0.55" fill="#58bf9e" fill-opacity="0.78"/>
<circle cx="191.78" cy="94.69" r="0.55" fill="#58bf9e" fill-opacity="0.78"/>
<circle cx="206.34" cy="102.01" r="0.55" fill="#58bf9e" fill-opacity="0.78"/>
<circle cx="209.67" cy="82.98" r="0.55" fill="#58bf9e" fill-opacity="0.78"/>
<circle cx="198.50" cy="92.42" r="0.55" fill="#58bf9e" fill-opacity="0.78"/>
<circle cx="197.94" cy="77.89" r="0.55" fill="#58bf9e" fill-opacity="0.78"/>
<circle cx="210.23" cy="82.43" r="0.55" fill="#58bf9e" fill-opacity="0.78"/>
<circle cx="202.31" cy="90.25" r="0.55" fill="#58bf9e" fill-opacity="0.78"/>
<circle cx="194.08" cy="96.46" r="0.55" fill="#58bf9e" fill-opacity="0.78"/>
<circle cx="190.29" cy="105.73" r="0.55" fill="#58bf9e" fill-opacity="0.78"/>
<circle cx="198.92" cy="91.90" r="0.55" fill="#58bf9e" fill-opacity="0.78"/>
<circle cx="204.66" cy="75.79" r="0.55" fill="#58bf9e" fill-opacity="0.78"/>
<circle cx="198.30" cy="92.38" r="0.55" fill="#58bf9e" fill-opacity="0.78"/>
<circle cx="213.30" cy="86.82" r="0.55" fill="#58bf9e" fill-opacity="0.78"/>
<circle cx="202.25" cy="106.25" r="0.55" fill="#58bf9e" fill-opacity="0.78"/>
<circle cx="205.81" cy="84.14" r="0.55" fill="#58bf9e" fill-opacity="0.78"/>
<circle cx="214.78" cy="97.54" r="0.55" fill="#58bf9e" fill-opacity="0.78"/>
<circle cx="198.02" cy="91.01" r="0.55" fill="#58bf9e" fill-opacity="0.78"/>
<circle cx="190.12" cy="94.61" r="0.55" fill="#58bf9e" fill-opacity="0.78"/>
<circle cx="196.54" cy="106.73" r="0.55" fill="#58bf9e" fill-opacity="0.78"/>
<circle cx="184.99" cy="100.42" r="0.55" fill="#58bf9e" fill-opacity="0.78"/>
<circle cx="189.50" cy="94.00" r="0.55" fill="#58bf9e" fill-opacity="0.78"/>
<circle cx="197.28" cy="90.21" r="0.55" fill="#58bf9e" fill-opacity="0.78"/>
<circle cx="211.39" cy="87.83" r="0.55" fill="#58bf9e" fill-opacity="0.78"/>
<circle cx="185.14" cy="103.75" r="0.55" fill="#58bf9e" fill-opacity="0.78"/>
<circle cx="207.71" cy="101.20" r="0.55" fill="#58bf9e" fill-opacity="0.78"/>
<circle cx="210.22" cy="91.43" r="0.55" fill="#58bf9e" fill-opacity="0.78"/>
<circle cx="195.95" cy="90.00" r="0.55" fill="#58bf9e" fill-opacity="0.78"/>
<circle cx="213.15" cy="83.41" r="0.55" fill="#58bf9e" fill-opacity="0.78"/>
<circle cx="202.53" cy="90.71" r="0.55" fill="#58bf9e" fill-opacity="0.78"/>
<circle cx="201.06" cy="83.08" r="0.55" fill="#58bf9e" fill-opacity="0.78"/>
<circle cx="198.68" cy="97.77" r="0.55" fill="#58bf9e" fill-opacity="0.78"/>
<circle cx="217.82" cy="94.51" r="0.55" fill="#58bf9e" fill-opacity="0.78"/>
<circle cx="207.28" cy="78.50" r="0.55" fill="#58bf9e" fill-opacity="0.78"/>
<circle cx="208.16" cy="97.84" r="0.55" fill="#58bf9e" fill-opacity="0.78"/>
<circle cx="199.11" cy="92.34" r="0.55" fill="#58bf9e" fill-opacity="0.78"/>
<circle cx="209.90" cy="83.00" r="0.55" fill="#58bf9e" fill-opacity="0.78"/>
<circle cx="216.90" cy="90.13" r="0.55" fill="#58bf9e" fill-opacity="0.78"/>
<circle cx="209.43" cy="88.15" r="0.55" fill="#58bf9e" fill-opacity="0.78"/>
<circle cx="204.36" cy="79.07" r="0.55" fill="#58bf9e" fill-opacity="0.78"/>
<circle cx="205.21" cy="104.86" r="0.55" fill="#58bf9e" fill-opacity="0.78"/>
<circle cx="200.82" cy="88.17" r="0.55" fill="#58bf9e" fill-opacity="0.78"/>
<circle cx="209.51" cy="90.54" r="0.55" fill="#58bf9e" fill-opacity="0.78"/>
<circle cx="211.08" cy="97.05" r="0.55" fill="#58bf9e" fill-opacity="0.78"/>
<circle cx="211.70" cy="103.82" r="0.55" fill="#58bf9e" fill-opacity="0.78"/>
<circle cx="190.77" cy="95.74" r="0.55" fill="#58bf9e" fill-opacity="0.78"/>
<circle cx="197.71" cy="97.34" r="0.55" fill="#58bf9e" fill-opacity="0.78"/>
<circle cx="220.11" cy="96.22" r="0.55" fill="#58bf9e" fill-opacity="0.78"/>
<circle cx="209.75" cy="104.91" r="0.55" fill="#58bf9e" fill-opacity="0.78"/>
<circle cx="207.35" cy="102.56" r="0.55" fill="#58bf9e" fill-opacity="0.78"/>
<circle cx="210.45" cy="95.23" r="0.55" fill="#58bf9e" fill-opacity="0.78"/>
<circle cx="185.92" cy="102.55" r="0.55" fill="#58bf9e" fill-opacity="0.78"/>
<circle cx="211.91" cy="80.98" r="0.55" fill="#58bf9e" fill-opacity="0.78"/>
<circle cx="211.03" cy="94.52" r="0.55" fill="#58bf9e" fill-opacity="0.78"/>
<circle cx="189.47" cy="102.15" r="0.55" fill="#58bf9e" fill-opacity="0.78"/>
<circle cx="187.38" cy="95.43" r="0.55" fill="#58bf9e" fill-opacity="0.78"/>
<circle cx="198.94" cy="82.88" r="0.55" fill="#58bf9e" fill-opacity="0.78"/>
<circle cx="204.08" cy="90.35" r="0.55" fill="#58bf9e" fill-opacity="0.78"/>
<circle cx="189.99" cy="107.84" r="0.55" fill="#58bf9e" fill-opacity="0.78"/>
<circle cx="200.93" cy="103.30" r="0.55" fill="#58bf9e" fill-opacity="0.78"/>
<circle cx="207.68" cy="100.41" r="0.55" fill="#58bf9e" fill-opacity="0.78"/>
<circle cx="200.92" cy="97.62" r="0.55" fill="#58bf9e" fill-opacity="0.78"/>
<circle cx="201.61" cy="74.96" r="0.55" fill="#58bf9e" fill-opacity="0.78"/>
<circle cx="185.11" cy="100.39" r="0.55" fill="#58bf9e" fill-opacity="0.78"/>
<circle cx="188.77" cy="100.26" r="0.55" fill="#58bf9e" fill-opacity="0.78"/>
<circle cx="212.59" cy="88.16" r="0.55" fill="#58bf9e" fill-opacity="0.78"/>
<circle cx="208.32" cy="101.56" r="0.55" fill="#58bf9e" fill-opacity="0.78"/>
<circle cx="200.12" cy="84.32" r="0.55" fill="#58bf9e" fill-opacity="0.78"/>
<circle cx="202.98" cy="87.38" r="0.55" fill="#58bf9e" fill-opacity="0.78"/>
<circle cx="199.27" cy="104.47" r="0.55" fill="#58bf9e" fill-opacity="0.78"/>
<circle cx="194.03" cy="96.72" r="0.55" fill="#58bf9e" fill-opacity="0.78"/>
<circle cx="200.87" cy="92.85" r="0.55" fill="#58bf9e" fill-opacity="0.78"/>
<circle cx="214.15" cy="84.65" r="0.55" fill="#58bf9e" fill-opacity="0.78"/>
<circle cx="207.21" cy="101.85" r="0.55" fill="#58bf9e" fill-opacity="0.78"/>
<circle cx="207.48" cy="87.75" r="0.55" fill="#58bf9e" fill-opacity="0.78"/>
<circle cx="206.70" cy="87.69" r="0.55" fill="#58bf9e" fill-opacity="0.78"/>
<circle cx="202.69" cy="103.78" r="0.55" fill="#58bf9e" fill-opacity="0.78"/>
<circle cx="213.12" cy="96.01" r="0.55" fill="#58bf9e" fill-opacity="0.78"/>
<circle cx="199.84" cy="82.12" r="0.55" fill="#58bf9e" fill-opacity="0.78"/>
<circle cx="192.82" cy="107.52" r="0.55" fill="#58bf9e" fill-opacity="0.78"/>
<circle cx="186.37" cy="102.65" r="0.55" fill="#58bf9e" fill-opacity="0.78"/>
<circle cx="199.84" cy="79.83" r="0.55" fill="#58bf9e" fill-opacity="0.78"/>
<circle cx="199.24" cy="84.22" r="0.55" fill="#58bf9e" fill-opacity="0.78"/>
<circle cx="199.24" cy="96.39" r="0.55" fill="#58bf9e" fill-opacity="0.78"/>
<circle cx="189.39" cy="97.75" r="0.55" fill="#58bf9e" fill-opacity="0.78"/>
<circle cx="213.01" cy="82.16" r="0.55" fill="#58bf9e" fill-opacity="0.78"/>
<circle cx="213.53" cy="96.15" r="0.55" fill="#58bf9e" fill-opacity="0.78"/>
<circle cx="197.61" cy="102.82" r="0.55" fill="#58bf9e" fill-opacity="0.78"/>
<circle cx="195.35" cy="104.75" r="0.55" fill="#58bf9e" fill-opacity="0.78"/>
<circle cx="218.11" cy="91.59" r="0.55" fill="#58bf9e" fill-opacity="0.78"/>
<circle cx="210.96" cy="100.29" r="0.55" fill="#58bf9e" fill-opacity="0.78"/>
<circle cx="193.37" cy="95.79" r="0.55" fill="#58bf9e" fill-opacity="0.78"/>
<circle cx="208.16" cy="86.86" r="0.55" fill="#58bf9e" fill-opacity="0.78"/>
<circle cx="197.41" cy="80.12" r="0.55" fill="#58bf9e" fill-opacity="0.78"/>
<circle cx="200.59" cy="105.27" r="0.55" fill="#58bf9e" fill-opacity="0.78"/>
<circle cx="189.27" cy="107.62" r="0.55" fill="#58bf9e" fill-opacity="0.78"/>
<circle cx="211.70" cy="89.27" r="0.55" fill="#58bf9e" fill-opacity="0.78"/>
<circle cx="203.16" cy="82.29" r="0.55" fill="#58bf9e" fill-opacity="0.78"/>
<circle cx="214.51" cy="87.65" r="0.55" fill="#58bf9e" fill-opacity="0.78"/>
<circle cx="193.10" cy="96.32" r="0.55" fill="#58bf9e" fill-opacity="0.78"/>
<circle cx="205.81" cy="85.78" r="0.55" fill="#58bf9e" fill-opacity="0.78"/>
<circle cx="196.54" cy="100.87" r="0.55" fill="#58bf9e" fill-opacity="0.78"/>
<circle cx="215.18" cy="89.04" r="0.55" fill="#58bf9e" fill-opacity="0.78"/>
<circle cx="202.40" cy="103.59" r="0.55" fill="#58bf9e" fill-opacity="0.78"/>
<circle cx="195.18" cy="100.89" r="0.55" fill="#58bf9e" fill-opacity="0.78"/>
<circle cx="205.80" cy="87.81" r="0.55" fill="#58bf9e" fill-opacity="0.78"/>
<circle cx="200.48" cy="95.68" r="0.55" fill="#58bf9e" fill-opacity="0.78"/>
<circle cx="194.36" cy="103.32" r="0.55" fill="#58bf9e" fill-opacity="0.78"/>
<circle cx="205.30" cy="94.58" r="0.55" fill="#58bf9e" fill-opacity="0.78"/>
<circle cx="199.73" cy="88.41" r="0.55" fill="#58bf9e" fill-opacity="0.78"/>
<circle cx="202.47" cy="75.62" r="0.55" fill="#58bf9e" fill-opacity="0.78"/>
<circle cx="187.00" cy="106.81" r="0.55" fill="#58bf9e" fill-opacity="0.78"/>
<circle cx="219.89" cy="96.73" r="0.55" fill="#58bf9e" fill-opacity="0.78"/>
<circle cx="183.94" cy="105.46" r="0.55" fill="#58bf9e" fill-opacity="0.78"/>
<circle cx="203.79" cy="78.85" r="0.55" fill="#58bf9e" fill-opacity="0.78"/>
<circle cx="201.58" cy="76.11" r="0.55" fill="#58bf9e" fill-opacity="0.78"/>
<circle cx="189.78" cy="106.15" r="0.55" fill="#58bf9e" fill-opacity="0.78"/>
<circle cx="214.06" cy="92.30" r="0.55" fill="#58bf9e" fill-opacity="0.78"/>
<circle cx="208.59" cy="104.64" r="0.55" fill="#58bf9e" fill-opacity="0.78"/>
<circle cx="196.79" cy="95.79" r="0.55" fill="#58bf9e" fill-opacity="0.78"/>
<circle cx="209.99" cy="91.75" r="0.55" fill="#58bf9e" fill-opacity="0.78"/>
<circle cx="186.11" cy="102.62" r="0.55" fill="#58bf9e" fill-opacity="0.78"/>
<circle cx="206.46" cy="81.36" r="0.55" fill="#58bf9e" fill-opacity="0.78"/>
<circle cx="198.80" cy="88.97" r="0.55" fill="#58bf9e" fill-opacity="0.78"/>
<circle cx="197.53" cy="101.92" r="0.55" fill="#58bf9e" fill-opacity="0.78"/>
<circle cx="213.65" cy="93.69" r="0.55" fill="#58bf9e" fill-opacity="0.78"/>
<circle cx="200.44" cy="83.96" r="0.55" fill="#58bf9e" fill-opacity="0.78"/>
<circle cx="190.94" cy="98.61" r="0.55" fill="#58bf9e" fill-opacity="0.78"/>
<circle cx="209.26" cy="97.04" r="0.55" fill="#58bf9e" fill-opacity="0.78"/>
<circle cx="204.61" cy="96.58" r="0.55" fill="#58bf9e" fill-opacity="0.78"/>
<circle cx="206.39" cy="99.98" r="0.55" fill="#58bf9e" fill-opacity="0.78"/>
<circle cx="209.40" cy="90.63" r="0.55" fill="#58bf9e" fill-opacity="0.78"/>
<circle cx="183.86" cy="101.03" r="0.55" fill="#58bf9e" fill-opacity="0.78"/>
<circle cx="214.10" cy="103.24" r="0.55" fill="#58bf9e" fill-opacity="0.78"/>
<circle cx="206.80" cy="93.05" r="0.55" fill="#58bf9e" fill-opacity="0.78"/>
<circle cx="189.27" cy="107.45" r="0.55" fill="#58bf9e" fill-opacity="0.78"/>
<circle cx="200.09" cy="84.21" r="0.55" fill="#58bf9e" fill-opacity="0.78"/>
<circle cx="190.15" cy="102.84" r="0.55" fill="#58bf9e" fill-opacity="0.78"/>
<circle cx="209.34" cy="83.71" r="0.55" fill="#58bf9e" fill-opacity="0.78"/>
<circle cx="217.20" cy="93.91" r="0.55" fill="#58bf9e" fill-opacity="0.78"/>
<circle cx="198.09" cy="88.54" r="0.55" fill="#58bf9e" fill-opacity="0.78"/>
<circle cx="210.10" cy="89.94" r="0.55" fill="#58bf9e" fill-opacity="0.78"/>
<circle cx="207.71" cy="78.27" r="0.55" fill="#58bf9e" fill-opacity="0.78"/>
<circle cx="209.39" cy="83.53" r="0.55" fill="#58bf9e" fill-opacity="0.78"/>
<circle cx="195.00" cy="92.83" r="0.55" fill="#58bf9e" fill-opacity="0.78"/>
<circle cx="197.30" cy="92.39" r="0.55" fill="#58bf9e" fill-opacity="0.78"/>
<circle cx="212.12" cy="98.27" r="0.55" fill="#58bf9e" fill-opacity="0.78"/>
<circle cx="212.66" cy="89.67" r="0.55" fill="#58bf9e" fill-opacity="0.78"/>
<circle cx="199.73" cy="86.10" r="0.55" fill="#58bf9e" fill-opacity="0.78"/>
<circle cx="200.46" cy="82.91" r="0.55" fill="#58bf9e" fill-opacity="0.78"/>
<circle cx="204.36" cy="84.83" r="0.55" fill="#58bf9e" fill-opacity="0.78"/>
<circle cx="188.65" cy="95.18" r="0.55" fill="#58bf9e" fill-opacity="0.78"/>
<circle cx="206.01" cy="97.05" r="0.55" fill="#58bf9e" fill-opacity="0.78"/>
<circle cx="216.51" cy="97.88" r="0.55" fill="#58bf9e" fill-opacity="0.78"/>
<circle cx="214.64" cy="84.47" r="0.55" fill="#58bf9e" fill-opacity="0.78"/>
<circle cx="182.49" cy="104.47" r="0.55" fill="#58bf9e" fill-opacity="0.78"/>
<circle cx="210.24" cy="86.00" r="0.55" fill="#58bf9e" fill-opacity="0.78"/>
<circle cx="199.18" cy="88.68" r="0.55" fill="#58bf9e" fill-opacity="0.78"/>
<circle cx="204.61" cy="78.61" r="0.55" fill="#58bf9e" fill-opacity="0.78"/>
<circle cx="187.87" cy="95.24" r="0.55" fill="#58bf9e" fill-opacity="0.78"/>
<circle cx="204.94" cy="106.00" r="0.55" fill="#58bf9e" fill-opacity="0.78"/>
<circle cx="207.16" cy="91.34" r="0.55" fill="#58bf9e" fill-opacity="0.78"/>
<circle cx="189.91" cy="98.63" r="0.55" fill="#58bf9e" fill-opacity="0.78"/>
<circle cx="216.10" cy="94.70" r="0.55" fill="#58bf9e" fill-opacity="0.78"/>
<circle cx="209.39" cy="92.34" r="0.55" fill="#58bf9e" fill-opacity="0.78"/>
<circle cx="184.41" cy="97.30" r="0.55" fill="#58bf9e" fill-opacity="0.78"/>
<circle cx="187.40" cy="95.75" r="0.55" fill="#58bf9e" fill-opacity="0.78"/>
<circle cx="197.26" cy="89.26" r="0.55" fill="#58bf9e" fill-opacity="0.78"/>
<circle cx="200.52" cy="87.30" r="0.55" fill="#58bf9e" fill-opacity="0.78"/>
<circle cx="202.77" cy="102.61" r="0.55" fill="#58bf9e" fill-opacity="0.78"/>
<circle cx="209.58" cy="88.05" r="0.55" fill="#58bf9e" fill-opacity="0.78"/>
<circle cx="202.07" cy="77.53" r="0.55" fill="#58bf9e" fill-opacity="0.78"/>
<circle cx="201.90" cy="92.20" r="0.55" fill="#58bf9e" fill-opacity="0.78"/>
<circle cx="212.52" cy="94.33" r="0.55" fill="#58bf9e" fill-opacity="0.78"/>
<circle cx="209.49" cy="99.71" r="0.55" fill="#58bf9e" fill-opacity="0.78"/>
<circle cx="200.66" cy="78.53" r="0.55" fill="#58bf9e" fill-opacity="0.78"/>
<circle cx="202.97" cy="95.55" r="0.55" fill="#58bf9e" fill-opacity="0.78"/>
<circle cx="185.38" cy="97.45" r="0.55" fill="#58bf9e" fill-opacity="0.78"/>
<circle cx="199.06" cy="78.91" r="0.55" fill="#58bf9e" fill-opacity="0.78"/>
<circle cx="194.11" cy="97.12" r="0.55" fill="#58bf9e" fill-opacity="0.78"/>
<circle cx="200.46" cy="107.05" r="0.55" fill="#58bf9e" fill-opacity="0.78"/>
<circle cx="217.98" cy="95.21" r="0.55" fill="#58bf9e" fill-opacity="0.78"/>
<circle cx="186.17" cy="101.45" r="0.55" fill="#58bf9e" fill-opacity="0.78"/>
<circle cx="196.17" cy="107.16" r="0.55" fill="#58bf9e" fill-opacity="0.78"/>
<circle cx="206.80" cy="102.17" r="0.55" fill="#58bf9e" fill-opacity="0.78"/>
<circle cx="216.94" cy="91.83" r="0.55" fill="#58bf9e" fill-opacity="0.78"/>
<circle cx="195.28" cy="103.32" r="0.55" fill="#58bf9e" fill-opacity="0.78"/>
<circle cx="203.07" cy="95.34" r="0.55" fill="#58bf9e" fill-opacity="0.78"/>
<circle cx="198.99" cy="88.68" r="0.55" fill="#58bf9e" fill-opacity="0.78"/>
<circle cx="208.25" cy="84.32" r="0.55" fill="#58bf9e" fill-opacity="0.78"/>
<circle cx="191.62" cy="101.58" r="0.55" fill="#58bf9e" fill-opacity="0.78"/>
<circle cx="216.89" cy="88.10" r="0.55" fill="#58bf9e" fill-opacity="0.78"/>
<circle cx="205.28" cy="76.37" r="0.55" fill="#58bf9e" fill-opacity="0.78"/>
<circle cx="201.51" cy="83.84" r="0.55" fill="#58bf9e" fill-opacity="0.78"/>
<circle cx="202.18" cy="92.47" r="0.55" fill="#58bf9e" fill-opacity="0.78"/>
<circle cx="197.72" cy="106.02" r="0.55" fill="#58bf9e" fill-opacity="0.78"/>
<circle cx="199.93" cy="87.05" r="0.55" fill="#58bf9e" fill-opacity="0.78"/>
<circle cx="219.97" cy="94.01" r="0.55" fill="#58bf9e" fill-opacity="0.78"/>
<circle cx="202.14" cy="89.40" r="0.55" fill="#58bf9e" fill-opacity="0.78"/>
<circle cx="199.06" cy="107.28" r="0.55" fill="#58bf9e" fill-opacity="0.78"/>
<circle cx="213.17" cy="96.66" r="0.55" fill="#58bf9e" fill-opacity="0.78"/>
<circle cx="188.33" cy="94.81" r="0.55" fill="#58bf9e" fill-opacity="0.78"/>
<circle cx="220.12" cy="96.32" r="0.55" fill="#58bf9e" fill-opacity="0.78"/>
<circle cx="204.22" cy="82.76" r="0.55" fill="#58bf9e" fill-opacity="0.78"/>
<circle cx="199.25" cy="90.25" r="0.55" fill="#58bf9e" fill-opacity="0.78"/>
<circle cx="198.50" cy="83.43" r="0.55" fill="#58bf9e" fill-opacity="0.78"/>
<circle cx="190.56" cy="100.27" r="0.55" fill="#58bf9e" fill-opacity="0.78"/>
<circle cx="193.79" cy="103.40" r="0.55" fill="#58bf9e" fill-opacity="0.78"/>
<circle cx="219.94" cy="93.17" r="0.55" fill="#58bf9e" fill-opacity="0.78"/>
<circle cx="204.19" cy="98.02" r="0.55" fill="#58bf9e" fill-opacity="0.78"/>
<circle cx="191.64" cy="98.92" r="0.55" fill="#58bf9e" fill-opacity="0.78"/>
<circle cx="196.24" cy="103.65" r="0.55" fill="#58bf9e" fill-opacity="0.78"/>
<circle cx="200.01" cy="97.22" r="0.55" fill="#58bf9e" fill-opacity="0.78"/>
<circle cx="203.69" cy="92.71" r="0.55" fill="#58bf9e" fill-opacity="0.78"/>
<circle cx="199.97" cy="107.33" r="0.55" fill="#58bf9e" fill-opacity="0.78"/>
<circle cx="211.44" cy="88.69" r="0.55" fill="#58bf9e" fill-opacity="0.78"/>
<circle cx="201.71" cy="105.42" r="0.55" fill="#58bf9e" fill-opacity="0.78"/>
<circle cx="211.13" cy="96.86" r="0.55" fill="#58bf9e" fill-opacity="0.78"/>
<circle cx="205.32" cy="95.85" r="0.55" fill="#58bf9e" fill-opacity="0.78"/>
<circle cx="199.73" cy="107.71" r="0.55" fill="#58bf9e" fill-opacity="0.78"/>
<circle cx="206.04" cy="100.80" r="0.55" fill="#58bf9e" fill-opacity="0.78"/>
<circle cx="209.15" cy="86.70" r="0.55" fill="#58bf9e" fill-opacity="0.78"/>
<circle cx="213.13" cy="86.21" r="0.55" fill="#58bf9e" fill-opacity="0.78"/>
<circle cx="187.73" cy="97.26" r="0.55" fill="#58bf9e" fill-opacity="0.78"/>
<circle cx="207.32" cy="88.30" r="0.55" fill="#58bf9e" fill-opacity="0.78"/>
<circle cx="213.51" cy="88.24" r="0.55" fill="#58bf9e" fill-opacity="0.78"/>
<circle cx="217.56" cy="93.96" r="0.55" fill="#58bf9e" fill-opacity="0.78"/>
<circle cx="197.79" cy="96.64" r="0.55" fill="#58bf9e" fill-opacity="0.78"/>
<circle cx="208.14" cy="97.36" r="0.55" fill="#58bf9e" fill-opacity="0.78"/>
<circle cx="199.73" cy="78.00" r="0.55" fill="#58bf9e" fill-opacity="0.78"/>
<circle cx="205.60" cy="99.66" r="0.55" fill="#58bf9e" fill-opacity="0.78"/>
<circle cx="188.97" cy="103.17" r="0.55" fill="#58bf9e" fill-opacity="0.78"/>
<circle cx="205.39" cy="88.08" r="0.55" fill="#58bf9e" fill-opacity="0.78"/>
<circle cx="217.85" cy="89.56" r="0.55" fill="#58bf9e" fill-opacity="0.78"/>
<circle cx="194.86" cy="90.74" r="0.55" fill="#58bf9e" fill-opacity="0.78"/>
<circle cx="216.13" cy="96.36" r="0.55" fill="#58bf9e" fill-opacity="0.78"/>
<circle cx="204.43" cy="81.80" r="0.55" fill="#58bf9e" fill-opacity="0.78"/>
<circle cx="205.88" cy="79.81" r="0.55" fill="#58bf9e" fill-opacity="0.78"/>
<circle cx="193.82" cy="103.06" r="0.55" fill="#58bf9e" fill-opacity="0.78"/>
<circle cx="204.16" cy="99.42" r="0.55" fill="#58bf9e" fill-opacity="0.78"/>
<circle cx="200.15" cy="83.78" r="0.55" fill="#58bf9e" fill-opacity="0.78"/>
<circle cx="201.64" cy="94.06" r="0.55" fill="#58bf9e" fill-opacity="0.78"/>
<circle cx="191.43" cy="103.59" r="0.55" fill="#58bf9e" fill-opacity="0.78"/>
<circle cx="191.44" cy="102.40" r="0.55" fill="#58bf9e" fill-opacity="0.78"/>
<circle cx="210.15" cy="81.87" r="0.55" fill="#58bf9e" fill-opacity="0.78"/>
<circle cx="204.85" cy="82.34" r="0.55" fill="#58bf9e" fill-opacity="0.78"/>
<circle cx="215.65" cy="94.56" r="0.55" fill="#58bf9e" fill-opacity="0.78"/>
<circle cx="201.92" cy="79.66" r="0.55" fill="#58bf9e" fill-opacity="0.78"/>
<path d="M162.4,79.9 C163.7,78.3 166.9,77.6 169.2,77.9 C171.5,78.2 174.1,79.7 176.0,81.8 C177.9,83.9 180.1,87.8 180.9,90.6 C181.7,93.4 181.6,96.5 180.9,98.4 C180.2,100.4 178.6,102.3 177.0,102.3 C175.4,102.3 173.1,99.7 171.2,98.4 C169.2,97.1 166.9,96.3 165.3,94.5 C163.7,92.7 162.0,90.1 161.5,87.7 C161.0,85.3 161.1,81.5 162.4,79.9 Z" fill="#a6d854" fill-opacity="0.04"/>
<path d="M162.0,83.0 C163.0,81.7 166.3,79.7 168.0,80.0 C169.7,80.3 171.5,83.0 172.0,85.0 C172.5,87.0 172.0,90.8 171.0,92.0 C170.0,93.2 167.5,92.7 166.0,92.0 C164.5,91.3 162.7,89.5 162.0,88.0 C161.3,86.5 161.0,84.3 162.0,83.0 Z" fill="#a6d854" fill-opacity="0.15"/>
<circle cx="166.06" cy="85.68" r="0.55" fill="#98cc44" fill-opacity="0.8"/>
<circle cx="165.62" cy="82.16" r="0.55" fill="#98cc44" fill-opacity="0.8"/>
<circle cx="163.98" cy="88.40" r="0.55" fill="#98cc44" fill-opacity="0.8"/>
<circle cx="171.25" cy="90.13" r="0.55" fill="#98cc44" fill-opacity="0.8"/>
<circle cx="168.15" cy="89.49" r="0.55" fill="#98cc44" fill-opacity="0.8"/>
<circle cx="163.34" cy="82.52" r="0.55" fill="#98cc44" fill-opacity="0.8"/>
<circle cx="163.97" cy="82.22" r="0.55" fill="#98cc44" fill-opacity="0.8"/>
<circle cx="165.95" cy="90.04" r="0.55" fill="#98cc44" fill-opacity="0.8"/>
<circle cx="165.05" cy="86.85" r="0.55" fill="#98cc44" fill-opacity="0.8"/>
<circle cx="166.73" cy="81.46" r="0.55" fill="#98cc44" fill-opacity="0.8"/>
<circle cx="170.05" cy="90.55" r="0.55" fill="#98cc44" fill-opacity="0.8"/>
<circle cx="166.54" cy="91.52" r="0.55" fill="#98cc44" fill-opacity="0.8"/>
<circle cx="166.84" cy="80.90" r="0.55" fill="#98cc44" fill-opacity="0.8"/>
<circle cx="170.08" cy="86.32" r="0.55" fill="#98cc44" fill-opacity="0.8"/>
<circle cx="169.99" cy="83.44" r="0.55" fill="#98cc44" fill-opacity="0.8"/>
<circle cx="164.08" cy="85.00" r="0.55" fill="#98cc44" fill-opacity="0.8"/>
<circle cx="163.26" cy="87.04" r="0.55" fill="#98cc44" fill-opacity="0.8"/>
<circle cx="166.64" cy="82.38" r="0.55" fill="#98cc44" fill-opacity="0.8"/>
<circle cx="162.39" cy="84.05" r="0.55" fill="#98cc44" fill-opacity="0.8"/>
<circle cx="164.28" cy="87.42" r="0.55" fill="#98cc44" fill-opacity="0.8"/>
<circle cx="168.35" cy="89.65" r="0.55" fill="#98cc44" fill-opacity="0.8"/>
<circle cx="168.45" cy="90.20" r="0.55" fill="#98cc44" fill-opacity="0.8"/>
<circle cx="167.05" cy="91.06" r="0.55" fill="#98cc44" fill-opacity="0.8"/>
<circle cx="168.14" cy="84.22" r="0.55" fill="#98cc44" fill-opacity="0.8"/>
<circle cx="163.96" cy="86.64" r="0.55" fill="#98cc44" fill-opacity="0.8"/>
<circle cx="168.39" cy="88.63" r="0.55" fill="#98cc44" fill-opacity="0.8"/>
<circle cx="170.61" cy="89.04" r="0.55" fill="#98cc44" fill-opacity="0.8"/>
<circle cx="163.37" cy="88.86" r="0.55" fill="#98cc44" fill-opacity="0.8"/>
<circle cx="166.81" cy="83.54" r="0.55" fill="#98cc44" fill-opacity="0.8"/>
<circle cx="162.64" cy="87.50" r="0.55" fill="#98cc44" fill-opacity="0.8"/>
<circle cx="194.65" cy="65.67" r="0.5" fill="#7d92c4" fill-opacity="0.7"/>
<circle cx="179.61" cy="64.39" r="0.5" fill="#7d92c4" fill-opacity="0.7"/>
<circle cx="173.30" cy="50.93" r="0.5" fill="#7d92c4" fill-opacity="0.7"/>
<circle cx="186.48" cy="65.22" r="0.5" fill="#7d92c4" fill-opacity="0.7"/>
<circle cx="185.50" cy="45.71" r="0.5" fill="#7d92c4" fill-opacity="0.7"/>
<circle cx="198.15" cy="57.62" r="0.5" fill="#7d92c4" fill-opacity="0.7"/>
<circle cx="193.30" cy="49.18" r="0.5" fill="#7d92c4" fill-opacity="0.7"/>
<circle cx="179.05" cy="45.73" r="0.5" fill="#7d92c4" fill-opacity="0.7"/>
<circle cx="174.29" cy="54.30" r="0.5" fill="#7d92c4" fill-opacity="0.7"/>
<circle cx="181.49" cy="59.72" r="0.5" fill="#7d92c4" fill-opacity="0.7"/>
<circle cx="195.06" cy="51.75" r="0.5" fill="#7d92c4" fill-opacity="0.7"/>
<circle cx="198.01" cy="59.63" r="0.5" fill="#7d92c4" fill-opacity="0.7"/>
<circle cx="179.37" cy="48.06" r="0.5" fill="#7d92c4" fill-opacity="0.7"/>
<circle cx="198.99" cy="59.72" r="0.5" fill="#7d92c4" fill-opacity="0.7"/>
<circle cx="169.68" cy="60.41" r="0.5" fill="#7d92c4" fill-opacity="0.7"/>
<circle cx="180.43" cy="53.90" r="0.5" fill="#7d92c4" fill-opacity="0.7"/>
<circle cx="192.87" cy="49.01" r="0.5" fill="#7d92c4" fill-opacity="0.7"/>
<circle cx="176.91" cy="56.84" r="0.5" fill="#7d92c4" fill-opacity="0.7"/>
<circle cx="197.34" cy="45.63" r="0.5" fill="#7d92c4" fill-opacity="0.7"/>
<circle cx="195.07" cy="61.30" r="0.5" fill="#7d92c4" fill-opacity="0.7"/>
<circle cx="173.99" cy="59.84" r="0.5" fill="#7d92c4" fill-opacity="0.7"/>
<circle cx="188.24" cy="61.03" r="0.5" fill="#7d92c4" fill-opacity="0.7"/>
<circle cx="185.54" cy="51.25" r="0.5" fill="#7d92c4" fill-opacity="0.7"/>
<circle cx="184.43" cy="49.37" r="0.5" fill="#7d92c4" fill-opacity="0.7"/>
<circle cx="182.92" cy="53.53" r="0.5" fill="#7d92c4" fill-opacity="0.7"/>
<circle cx="171.72" cy="49.23" r="0.5" fill="#7d92c4" fill-opacity="0.7"/>
<circle cx="179.35" cy="53.22" r="0.5" fill="#7d92c4" fill-opacity="0.7"/>
<circle cx="186.38" cy="61.94" r="0.5" fill="#7d92c4" fill-opacity="0.7"/>
<circle cx="176.62" cy="57.20" r="0.5" fill="#7d92c4" fill-opacity="0.7"/>
<circle cx="179.14" cy="49.10" r="0.5" fill="#7d92c4" fill-opacity="0.7"/>
<circle cx="198.23" cy="64.02" r="0.5" fill="#7d92c4" fill-opacity="0.7"/>
<circle cx="173.81" cy="47.23" r="0.5" fill="#7d92c4" fill-opacity="0.7"/>
<circle cx="171.65" cy="50.92" r="0.5" fill="#7d92c4" fill-opacity="0.7"/>
<circle cx="181.98" cy="43.68" r="0.5" fill="#7d92c4" fill-opacity="0.7"/>
<circle cx="181.85" cy="60.52" r="0.5" fill="#7d92c4" fill-opacity="0.7"/>
<circle cx="195.07" cy="48.19" r="0.5" fill="#7d92c4" fill-opacity="0.7"/>
<circle cx="180.50" cy="51.25" r="0.5" fill="#7d92c4" fill-opacity="0.7"/>
<circle cx="173.26" cy="50.13" r="0.5" fill="#7d92c4" fill-opacity="0.7"/>
<circle cx="176.85" cy="49.85" r="0.5" fill="#7d92c4" fill-opacity="0.7"/>
<circle cx="175.77" cy="56.28" r="0.5" fill="#7d92c4" fill-opacity="0.7"/>
<circle cx="194.40" cy="51.13" r="0.5" fill="#7d92c4" fill-opacity="0.7"/>
<circle cx="181.66" cy="55.44" r="0.5" fill="#7d92c4" fill-opacity="0.7"/>
<circle cx="195.34" cy="62.43" r="0.5" fill="#7d92c4" fill-opacity="0.7"/>
<circle cx="194.16" cy="50.78" r="0.5" fill="#7d92c4" fill-opacity="0.7"/>
<circle cx="186.81" cy="56.52" r="0.5" fill="#7d92c4" fill-opacity="0.7"/>
<circle cx="186.75" cy="51.45" r="0.5" fill="#7d92c4" fill-opacity="0.7"/>
<circle cx="198.07" cy="65.40" r="0.5" fill="#7d92c4" fill-opacity="0.7"/>
<circle cx="183.07" cy="45.72" r="0.5" fill="#7d92c4" fill-opacity="0.7"/>
<circle cx="195.20" cy="55.89" r="0.5" fill="#7d92c4" fill-opacity="0.7"/>
<circle cx="183.40" cy="59.28" r="0.5" fill="#7d92c4" fill-opacity="0.7"/>
<circle cx="173.36" cy="48.90" r="0.5" fill="#7d92c4" fill-opacity="0.7"/>
<circle cx="194.45" cy="61.64" r="0.5" fill="#7d92c4" fill-opacity="0.7"/>
<circle cx="184.59" cy="65.54" r="0.5" fill="#7d92c4" fill-opacity="0.7"/>
<circle cx="173.52" cy="45.24" r="0.5" fill="#7d92c4" fill-opacity="0.7"/>
<circle cx="194.43" cy="46.99" r="0.5" fill="#7d92c4" fill-opacity="0.7"/>
<path d="M170.0,66.0 C170.3,64.5 173.8,62.2 177.0,60.0 C180.2,57.8 185.5,55.0 189.0,53.0 C192.5,51.0 196.2,47.7 198.0,48.0 C199.8,48.3 200.3,52.8 199.5,55.0 C198.7,57.2 195.8,59.0 193.0,61.0 C190.2,63.0 186.0,65.7 183.0,67.0 C180.0,68.3 177.2,69.2 175.0,69.0 C172.8,68.8 169.7,67.5 170.0,66.0 Z" fill="#8da0cb" fill-opacity="0.2"/>
<circle cx="185.20" cy="63.48" r="0.55" fill="#6d84c0" fill-opacity="0.8"/>
<circle cx="190.04" cy="52.62" r="0.55" fill="#6d84c0" fill-opacity="0.8"/>
<circle cx="194.32" cy="58.54" r="0.55" fill="#6d84c0" fill-opacity="0.8"/>
<circle cx="188.29" cy="56.41" r="0.55" fill="#6d84c0" fill-opacity="0.8"/>
<circle cx="196.85" cy="49.07" r="0.55" fill="#6d84c0" fill-opacity="0.8"/>
<circle cx="193.10" cy="52.09" r="0.55" fill="#6d84c0" fill-opacity="0.8"/>
<circle cx="181.30" cy="62.31" r="0.55" fill="#6d84c0" fill-opacity="0.8"/>
<circle cx="178.75" cy="61.80" r="0.55" fill="#6d84c0" fill-opacity="0.8"/>
<circle cx="175.12" cy="64.58" r="0.55" fill="#6d84c0" fill-opacity="0.8"/>
<circle cx="182.37" cy="65.48" r="0.55" fill="#6d84c0" fill-opacity="0.8"/>
<circle cx="192.38" cy="58.00" r="0.55" fill="#6d84c0" fill-opacity="0.8"/>
<circle cx="188.07" cy="60.38" r="0.55" fill="#6d84c0" fill-opacity="0.8"/>
<circle cx="176.06" cy="63.14" r="0.55" fill="#6d84c0" fill-opacity="0.8"/>
<circle cx="189.80" cy="61.81" r="0.55" fill="#6d84c0" fill-opacity="0.8"/>
<circle cx="191.14" cy="59.42" r="0.55" fill="#6d84c0" fill-opacity="0.8"/>
<circle cx="176.37" cy="62.03" r="0.55" fill="#6d84c0" fill-opacity="0.8"/>
<circle cx="189.04" cy="53.91" r="0.55" fill="#6d84c0" fill-opacity="0.8"/>
<circle cx="193.24" cy="53.23" r="0.55" fill="#6d84c0" fill-opacity="0.8"/>
<circle cx="194.16" cy="59.87" r="0.55" fill="#6d84c0" fill-opacity="0.8"/>
<circle cx="189.27" cy="54.13" r="0.55" fill="#6d84c0" fill-opacity="0.8"/>
<circle cx="184.01" cy="61.81" r="0.55" fill="#6d84c0" fill-opacity="0.8"/>
<circle cx="187.94" cy="55.44" r="0.55" fill="#6d84c0" fill-opacity="0.8"/>
<circle cx="185.81" cy="61.58" r="0.55" fill="#6d84c0" fill-opacity="0.8"/>
<circle cx="176.87" cy="61.11" r="0.55" fill="#6d84c0" fill-opacity="0.8"/>
<circle cx="187.91" cy="58.08" r="0.55" fill="#6d84c0" fill-opacity="0.8"/>
<circle cx="181.06" cy="61.69" r="0.55" fill="#6d84c0" fill-opacity="0.8"/>
<circle cx="178.67" cy="64.58" r="0.55" fill="#6d84c0" fill-opacity="0.8"/>
<circle cx="176.09" cy="65.62" r="0.55" fill="#6d84c0" fill-opacity="0.8"/>
<circle cx="187.51" cy="61.16" r="0.55" fill="#6d84c0" fill-opacity="0.8"/>
<circle cx="191.94" cy="51.63" r="0.55" fill="#6d84c0" fill-opacity="0.8"/>
<circle cx="191.06" cy="58.91" r="0.55" fill="#6d84c0" fill-opacity="0.8"/>
<circle cx="192.71" cy="54.34" r="0.55" fill="#6d84c0" fill-opacity="0.8"/>
<circle cx="183.79" cy="61.53" r="0.55" fill="#6d84c0" fill-opacity="0.8"/>
<circle cx="196.35" cy="53.86" r="0.55" fill="#6d84c0" fill-opacity="0.8"/>
<circle cx="182.47" cy="65.73" r="0.55" fill="#6d84c0" fill-opacity="0.8"/>
<circle cx="178.06" cy="61.08" r="0.55" fill="#6d84c0" fill-opacity="0.8"/>
<circle cx="195.75" cy="55.91" r="0.55" fill="#6d84c0" fill-opacity="0.8"/>
<circle cx="195.27" cy="57.30" r="0.55" fill="#6d84c0" fill-opacity="0.8"/>
<circle cx="184.34" cy="61.77" r="0.55" fill="#6d84c0" fill-opacity="0.8"/>
<circle cx="179.41" cy="65.07" r="0.55" fill="#6d84c0" fill-opacity="0.8"/>
<circle cx="183.55" cy="57.02" r="0.55" fill="#6d84c0" fill-opacity="0.8"/>
<circle cx="193.87" cy="56.56" r="0.55" fill="#6d84c0" fill-opacity="0.8"/>
<circle cx="185.56" cy="56.47" r="0.55" fill="#6d84c0" fill-opacity="0.8"/>
<circle cx="174.86" cy="62.50" r="0.55" fill="#6d84c0" fill-opacity="0.8"/>
<circle cx="178.16" cy="62.70" r="0.55" fill="#6d84c0" fill-opacity="0.8"/>
<circle cx="177.50" cy="64.05" r="0.55" fill="#6d84c0" fill-opacity="0.8"/>
<circle cx="182.78" cy="59.59" r="0.55" fill="#6d84c0" fill-opacity="0.8"/>
<circle cx="195.11" cy="50.16" r="0.55" fill="#6d84c0" fill-opacity="0.8"/>
<circle cx="185.45" cy="58.31" r="0.55" fill="#6d84c0" fill-opacity="0.8"/>
<circle cx="185.58" cy="61.65" r="0.55" fill="#6d84c0" fill-opacity="0.8"/>
<circle cx="185.64" cy="65.22" r="0.55" fill="#6d84c0" fill-opacity="0.8"/>
<circle cx="194.50" cy="51.58" r="0.55" fill="#6d84c0" fill-opacity="0.8"/>
<circle cx="179.86" cy="64.45" r="0.55" fill="#6d84c0" fill-opacity="0.8"/>
<circle cx="188.03" cy="60.77" r="0.55" fill="#6d84c0" fill-opacity="0.8"/>
<circle cx="188.52" cy="56.33" r="0.55" fill="#6d84c0" fill-opacity="0.8"/>
<circle cx="177.37" cy="60.30" r="0.55" fill="#6d84c0" fill-opacity="0.8"/>
<circle cx="171.60" cy="64.96" r="0.55" fill="#6d84c0" fill-opacity="0.8"/>
<circle cx="192.79" cy="58.20" r="0.55" fill="#6d84c0" fill-opacity="0.8"/>
<circle cx="187.84" cy="62.80" r="0.55" fill="#6d84c0" fill-opacity="0.8"/>
<circle cx="187.52" cy="56.75" r="0.55" fill="#6d84c0" fill-opacity="0.8"/>
<circle cx="179.49" cy="59.13" r="0.55" fill="#6d84c0" fill-opacity="0.8"/>
<circle cx="193.92" cy="55.19" r="0.55" fill="#6d84c0" fill-opacity="0.8"/>
<circle cx="183.73" cy="64.50" r="0.55" fill="#6d84c0" fill-opacity="0.8"/>
<circle cx="178.29" cy="63.93" r="0.55" fill="#6d84c0" fill-opacity="0.8"/>
<circle cx="198.24" cy="53.34" r="0.55" fill="#6d84c0" fill-opacity="0.8"/>
<circle cx="197.97" cy="49.94" r="0.55" fill="#6d84c0" fill-opacity="0.8"/>
<circle cx="196.40" cy="55.43" r="0.55" fill="#6d84c0" fill-opacity="0.8"/>
<circle cx="197.14" cy="55.12" r="0.55" fill="#6d84c0" fill-opacity="0.8"/>
<circle cx="178.83" cy="67.74" r="0.55" fill="#6d84c0" fill-opacity="0.8"/>
<circle cx="194.27" cy="53.38" r="0.55" fill="#6d84c0" fill-opacity="0.8"/>
<circle cx="184.46" cy="59.56" r="0.55" fill="#6d84c0" fill-opacity="0.8"/>
<circle cx="192.80" cy="53.54" r="0.55" fill="#6d84c0" fill-opacity="0.8"/>
<circle cx="186.70" cy="58.89" r="0.55" fill="#6d84c0" fill-opacity="0.8"/>
<circle cx="187.35" cy="59.67" r="0.55" fill="#6d84c0" fill-opacity="0.8"/>
<circle cx="181.61" cy="64.09" r="0.55" fill="#6d84c0" fill-opacity="0.8"/>
<circle cx="182.19" cy="57.49" r="0.55" fill="#6d84c0" fill-opacity="0.8"/>
<circle cx="194.94" cy="53.62" r="0.55" fill="#6d84c0" fill-opacity="0.8"/>
<circle cx="185.72" cy="61.25" r="0.55" fill="#6d84c0" fill-opacity="0.8"/>
<circle cx="196.18" cy="52.24" r="0.55" fill="#6d84c0" fill-opacity="0.8"/>
<circle cx="194.58" cy="53.50" r="0.55" fill="#6d84c0" fill-opacity="0.8"/>
<path d="M165.0,64.0 C166.3,62.5 172.5,64.3 176.0,65.0 C179.5,65.7 183.2,67.2 186.0,68.0 C188.8,68.8 191.7,68.3 193.0,70.0 C194.3,71.7 194.0,75.7 194.0,78.0 C194.0,80.3 192.8,82.2 193.0,84.0 C193.2,85.8 195.5,87.7 195.0,89.0 C194.5,90.3 192.2,92.0 190.0,92.0 C187.8,92.0 184.7,90.7 182.0,89.0 C179.3,87.3 176.3,84.5 174.0,82.0 C171.7,79.5 169.5,77.0 168.0,74.0 C166.5,71.0 163.7,65.5 165.0,64.0 Z" fill="#fc8d62" fill-opacity="0.07"/>
<circle cx="188.34" cy="75.12" r="0.55" fill="#f28a5e" fill-opacity="0.65"/>
<circle cx="189.26" cy="71.52" r="0.55" fill="#f28a5e" fill-opacity="0.65"/>
<circle cx="176.27" cy="71.58" r="0.55" fill="#f28a5e" fill-opacity="0.65"/>
<circle cx="165.21" cy="64.61" r="0.55" fill="#f28a5e" fill-opacity="0.65"/>
<circle cx="182.10" cy="85.21" r="0.55" fill="#f28a5e" fill-opacity="0.65"/>
<circle cx="185.87" cy="88.87" r="0.55" fill="#f28a5e" fill-opacity="0.65"/>
<circle cx="168.55" cy="72.68" r="0.55" fill="#f28a5e" fill-opacity="0.65"/>
<circle cx="177.64" cy="75.56" r="0.55" fill="#f28a5e" fill-opacity="0.65"/>
<circle cx="189.49" cy="75.22" r="0.55" fill="#f28a5e" fill-opacity="0.65"/>
<circle cx="186.19" cy="86.81" r="0.55" fill="#f28a5e" fill-opacity="0.65"/>
<circle cx="192.44" cy="75.96" r="0.55" fill="#f28a5e" fill-opacity="0.65"/>
<circle cx="179.97" cy="71.64" r="0.55" fill="#f28a5e" fill-opacity="0.65"/>
<circle cx="185.50" cy="88.17" r="0.55" fill="#f28a5e" fill-opacity="0.65"/>
<circle cx="172.95" cy="71.01" r="0.55" fill="#f28a5e" fill-opacity="0.65"/>
<circle cx="173.95" cy="70.09" r="0.55" fill="#f28a5e" fill-opacity="0.65"/>
<circle cx="192.59" cy="81.76" r="0.55" fill="#f28a5e" fill-opacity="0.65"/>
<circle cx="166.51" cy="66.63" r="0.55" fill="#f28a5e" fill-opacity="0.65"/>
<circle cx="171.74" cy="69.48" r="0.55" fill="#f28a5e" fill-opacity="0.65"/>
<circle cx="180.02" cy="78.82" r="0.55" fill="#f28a5e" fill-opacity="0.65"/>
<circle cx="190.63" cy="70.42" r="0.55" fill="#f28a5e" fill-opacity="0.65"/>
<circle cx="174.05" cy="77.62" r="0.55" fill="#f28a5e" fill-opacity="0.65"/>
<circle cx="179.39" cy="81.71" r="0.55" fill="#f28a5e" fill-opacity="0.65"/>
<circle cx="188.23" cy="73.50" r="0.55" fill="#f28a5e" fill-opacity="0.65"/>
<circle cx="193.22" cy="76.78" r="0.55" fill="#f28a5e" fill-opacity="0.65"/>
<circle cx="180.89" cy="69.12" r="0.55" fill="#f28a5e" fill-opacity="0.65"/>
<circle cx="191.39" cy="80.70" r="0.55" fill="#f28a5e" fill-opacity="0.65"/>
<circle cx="180.60" cy="71.97" r="0.55" fill="#f28a5e" fill-opacity="0.65"/>
<circle cx="168.99" cy="71.72" r="0.55" fill="#f28a5e" fill-opacity="0.65"/>
<circle cx="184.24" cy="83.12" r="0.55" fill="#f28a5e" fill-opacity="0.65"/>
<circle cx="188.34" cy="83.46" r="0.55" fill="#f28a5e" fill-opacity="0.65"/>
<circle cx="185.46" cy="78.64" r="0.55" fill="#f28a5e" fill-opacity="0.65"/>
<circle cx="190.61" cy="90.95" r="0.55" fill="#f28a5e" fill-opacity="0.65"/>
<circle cx="182.50" cy="76.10" r="0.55" fill="#f28a5e" fill-opacity="0.65"/>
<circle cx="181.24" cy="86.43" r="0.55" fill="#f28a5e" fill-opacity="0.65"/>
<circle cx="185.31" cy="85.73" r="0.55" fill="#f28a5e" fill-opacity="0.65"/>
<circle cx="174.27" cy="80.86" r="0.55" fill="#f28a5e" fill-opacity="0.65"/>
<circle cx="186.82" cy="89.50" r="0.55" fill="#f28a5e" fill-opacity="0.65"/>
<circle cx="181.59" cy="73.62" r="0.55" fill="#f28a5e" fill-opacity="0.65"/>
<circle cx="176.86" cy="80.77" r="0.55" fill="#f28a5e" fill-opacity="0.65"/>
<circle cx="187.67" cy="88.14" r="0.55" fill="#f28a5e" fill-opacity="0.65"/>
<circle cx="174.71" cy="80.31" r="0.55" fill="#f28a5e" fill-opacity="0.65"/>
<circle cx="183.90" cy="83.19" r="0.55" fill="#f28a5e" fill-opacity="0.65"/>
<circle cx="182.52" cy="77.03" r="0.55" fill="#f28a5e" fill-opacity="0.65"/>
<circle cx="178.64" cy="73.59" r="0.55" fill="#f28a5e" fill-opacity="0.65"/>
<circle cx="167.35" cy="65.44" r="0.55" fill="#f28a5e" fill-opacity="0.65"/>
<circle cx="173.03" cy="66.70" r="0.55" fill="#f28a5e" fill-opacity="0.65"/>
<circle cx="185.90" cy="69.63" r="0.55" fill="#f28a5e" fill-opacity="0.65"/>
<circle cx="176.42" cy="75.79" r="0.55" fill="#f28a5e" fill-opacity="0.65"/>
<circle cx="186.14" cy="86.86" r="0.55" fill="#f28a5e" fill-opacity="0.65"/>
<circle cx="183.95" cy="70.08" r="0.55" fill="#f28a5e" fill-opacity="0.65"/>
<circle cx="175.75" cy="71.84" r="0.55" fill="#f28a5e" fill-opacity="0.65"/>
<circle cx="180.12" cy="79.23" r="0.55" fill="#f28a5e" fill-opacity="0.65"/>
<circle cx="181.36" cy="73.20" r="0.55" fill="#f28a5e" fill-opacity="0.65"/>
<circle cx="172.29" cy="75.46" r="0.55" fill="#f28a5e" fill-opacity="0.65"/>
<circle cx="178.02" cy="67.87" r="0.55" fill="#f28a5e" fill-opacity="0.65"/>
<path d="M162.0,62.0 C162.7,60.6 167.3,61.7 170.0,62.5 C172.7,63.3 175.3,64.9 178.0,67.0 C180.7,69.1 183.3,72.3 186.0,75.0 C188.7,77.7 192.4,80.5 194.0,83.0 C195.6,85.5 196.3,88.4 195.5,90.0 C194.7,91.6 191.4,93.0 189.0,92.5 C186.6,92.0 183.7,89.2 181.0,87.0 C178.3,84.8 175.5,81.7 173.0,79.0 C170.5,76.3 167.8,73.8 166.0,71.0 C164.2,68.2 161.3,63.4 162.0,62.0 Z" fill="#fc8d62" fill-opacity="0.22"/>
<circle cx="178.76" cy="81.15" r="0.55" fill="#f07e50" fill-opacity="0.8"/>
<circle cx="165.49" cy="66.54" r="0.55" fill="#f07e50" fill-opacity="0.8"/>
<circle cx="179.75" cy="82.82" r="0.55" fill="#f07e50" fill-opacity="0.8"/>
<circle cx="175.66" cy="77.02" r="0.55" fill="#f07e50" fill-opacity="0.8"/>
<circle cx="177.59" cy="83.25" r="0.55" fill="#f07e50" fill-opacity="0.8"/>
<circle cx="188.41" cy="82.22" r="0.55" fill="#f07e50" fill-opacity="0.8"/>
<circle cx="182.51" cy="80.22" r="0.55" fill="#f07e50" fill-opacity="0.8"/>
<circle cx="181.89" cy="84.96" r="0.55" fill="#f07e50" fill-opacity="0.8"/>
<circle cx="185.74" cy="75.98" r="0.55" fill="#f07e50" fill-opacity="0.8"/>
<circle cx="186.82" cy="89.89" r="0.55" fill="#f07e50" fill-opacity="0.8"/>
<circle cx="169.07" cy="63.39" r="0.55" fill="#f07e50" fill-opacity="0.8"/>
<circle cx="176.05" cy="74.23" r="0.55" fill="#f07e50" fill-opacity="0.8"/>
<circle cx="172.02" cy="66.30" r="0.55" fill="#f07e50" fill-opacity="0.8"/>
<circle cx="165.76" cy="68.37" r="0.55" fill="#f07e50" fill-opacity="0.8"/>
<circle cx="187.40" cy="78.24" r="0.55" fill="#f07e50" fill-opacity="0.8"/>
<circle cx="176.67" cy="78.28" r="0.55" fill="#f07e50" fill-opacity="0.8"/>
<circle cx="173.75" cy="76.62" r="0.55" fill="#f07e50" fill-opacity="0.8"/>
<circle cx="181.90" cy="85.10" r="0.55" fill="#f07e50" fill-opacity="0.8"/>
<circle cx="182.80" cy="76.36" r="0.55" fill="#f07e50" fill-opacity="0.8"/>
<circle cx="172.58" cy="75.34" r="0.55" fill="#f07e50" fill-opacity="0.8"/>
<circle cx="177.00" cy="71.43" r="0.55" fill="#f07e50" fill-opacity="0.8"/>
<circle cx="192.88" cy="87.57" r="0.55" fill="#f07e50" fill-opacity="0.8"/>
<circle cx="172.31" cy="64.03" r="0.55" fill="#f07e50" fill-opacity="0.8"/>
<circle cx="166.72" cy="70.15" r="0.55" fill="#f07e50" fill-opacity="0.8"/>
<circle cx="166.10" cy="63.93" r="0.55" fill="#f07e50" fill-opacity="0.8"/>
<circle cx="171.62" cy="66.88" r="0.55" fill="#f07e50" fill-opacity="0.8"/>
<circle cx="177.36" cy="67.10" r="0.55" fill="#f07e50" fill-opacity="0.8"/>
<circle cx="186.18" cy="83.20" r="0.55" fill="#f07e50" fill-opacity="0.8"/>
<circle cx="168.96" cy="64.21" r="0.55" fill="#f07e50" fill-opacity="0.8"/>
<circle cx="179.20" cy="78.73" r="0.55" fill="#f07e50" fill-opacity="0.8"/>
<circle cx="184.58" cy="81.55" r="0.55" fill="#f07e50" fill-opacity="0.8"/>
<circle cx="181.57" cy="72.74" r="0.55" fill="#f07e50" fill-opacity="0.8"/>
<circle cx="170.46" cy="70.07" r="0.55" fill="#f07e50" fill-opacity="0.8"/>
<circle cx="175.95" cy="74.25" r="0.55" fill="#f07e50" fill-opacity="0.8"/>
<circle cx="172.23" cy="70.59" r="0.55" fill="#f07e50" fill-opacity="0.8"/>
<circle cx="183.91" cy="87.51" r="0.55" fill="#f07e50" fill-opacity="0.8"/>
<circle cx="177.97" cy="67.56" r="0.55" fill="#f07e50" fill-opacity="0.8"/>
<circle cx="180.66" cy="70.02" r="0.55" fill="#f07e50" fill-opacity="0.8"/>
<circle cx="189.45" cy="81.12" r="0.55" fill="#f07e50" fill-opacity="0.8"/>
<circle cx="166.60" cy="62.34" r="0.55" fill="#f07e50" fill-opacity="0.8"/>
<circle cx="177.09" cy="76.93" r="0.55" fill="#f07e50" fill-opacity="0.8"/>
<circle cx="180.33" cy="84.31" r="0.55" fill="#f07e50" fill-opacity="0.8"/>
<circle cx="194.36" cy="85.31" r="0.55" fill="#f07e50" fill-opacity="0.8"/>
<circle cx="187.02" cy="81.47" r="0.55" fill="#f07e50" fill-opacity="0.8"/>
<circle cx="179.59" cy="85.42" r="0.55" fill="#f07e50" fill-opacity="0.8"/>
<circle cx="167.07" cy="63.56" r="0.55" fill="#f07e50" fill-opacity="0.8"/>
<circle cx="179.49" cy="73.58" r="0.55" fill="#f07e50" fill-opacity="0.8"/>
<circle cx="178.78" cy="83.77" r="0.55" fill="#f07e50" fill-opacity="0.8"/>
<circle cx="170.48" cy="63.68" r="0.55" fill="#f07e50" fill-opacity="0.8"/>
<circle cx="175.56" cy="80.58" r="0.55" fill="#f07e50" fill-opacity="0.8"/>
<circle cx="179.06" cy="75.67" r="0.55" fill="#f07e50" fill-opacity="0.8"/>
<circle cx="185.15" cy="78.95" r="0.55" fill="#f07e50" fill-opacity="0.8"/>
<circle cx="172.86" cy="66.69" r="0.55" fill="#f07e50" fill-opacity="0.8"/>
<circle cx="180.29" cy="79.10" r="0.55" fill="#f07e50" fill-opacity="0.8"/>
<circle cx="172.23" cy="70.33" r="0.55" fill="#f07e50" fill-opacity="0.8"/>
<circle cx="185.79" cy="74.81" r="0.55" fill="#f07e50" fill-opacity="0.8"/>
<circle cx="180.43" cy="70.72" r="0.55" fill="#f07e50" fill-opacity="0.8"/>
<circle cx="175.61" cy="79.08" r="0.55" fill="#f07e50" fill-opacity="0.8"/>
<circle cx="180.05" cy="79.74" r="0.55" fill="#f07e50" fill-opacity="0.8"/>
<circle cx="185.37" cy="88.92" r="0.55" fill="#f07e50" fill-opacity="0.8"/>
<circle cx="171.02" cy="65.20" r="0.55" fill="#f07e50" fill-opacity="0.8"/>
<circle cx="186.32" cy="81.34" r="0.55" fill="#f07e50" fill-opacity="0.8"/>
<circle cx="193.92" cy="84.91" r="0.55" fill="#f07e50" fill-opacity="0.8"/>
<circle cx="168.91" cy="68.14" r="0.55" fill="#f07e50" fill-opacity="0.8"/>
<circle cx="177.29" cy="78.97" r="0.55" fill="#f07e50" fill-opacity="0.8"/>
<circle cx="185.09" cy="76.18" r="0.55" fill="#f07e50" fill-opacity="0.8"/>
<circle cx="190.97" cy="89.80" r="0.55" fill="#f07e50" fill-opacity="0.8"/>
<circle cx="173.05" cy="73.35" r="0.55" fill="#f07e50" fill-opacity="0.8"/>
<circle cx="192.36" cy="83.05" r="0.55" fill="#f07e50" fill-opacity="0.8"/>
<circle cx="191.55" cy="85.04" r="0.55" fill="#f07e50" fill-opacity="0.8"/>
<circle cx="185.47" cy="85.28" r="0.55" fill="#f07e50" fill-opacity="0.8"/>
<circle cx="181.46" cy="81.65" r="0.55" fill="#f07e50" fill-opacity="0.8"/>
<circle cx="178.61" cy="75.65" r="0.55" fill="#f07e50" fill-opacity="0.8"/>
<circle cx="190.27" cy="86.39" r="0.55" fill="#f07e50" fill-opacity="0.8"/>
<circle cx="188.46" cy="88.84" r="0.55" fill="#f07e50" fill-opacity="0.8"/>
<circle cx="176.54" cy="75.10" r="0.55" fill="#f07e50" fill-opacity="0.8"/>
<circle cx="171.06" cy="67.92" r="0.55" fill="#f07e50" fill-opacity="0.8"/>
<circle cx="179.91" cy="75.34" r="0.55" fill="#f07e50" fill-opacity="0.8"/>
<circle cx="183.89" cy="82.07" r="0.55" fill="#f07e50" fill-opacity="0.8"/>
<circle cx="177.11" cy="74.42" r="0.55" fill="#f07e50" fill-opacity="0.8"/>
<circle cx="184.77" cy="85.86" r="0.55" fill="#f07e50" fill-opacity="0.8"/>
<circle cx="180.30" cy="80.74" r="0.55" fill="#f07e50" fill-opacity="0.8"/>
<circle cx="186.42" cy="89.43" r="0.55" fill="#f07e50" fill-opacity="0.8"/>
<circle cx="168.79" cy="70.75" r="0.55" fill="#f07e50" fill-opacity="0.8"/>
<circle cx="175.80" cy="74.74" r="0.55" fill="#f07e50" fill-opacity="0.8"/>
<circle cx="179.21" cy="79.11" r="0.55" fill="#f07e50" fill-opacity="0.8"/>
<circle cx="187.49" cy="83.44" r="0.55" fill="#f07e50" fill-opacity="0.8"/>
<circle cx="167.31" cy="70.12" r="0.55" fill="#f07e50" fill-opacity="0.8"/>
<circle cx="188.01" cy="88.65" r="0.55" fill="#f07e50" fill-opacity="0.8"/>
<circle cx="181.83" cy="71.76" r="0.55" fill="#f07e50" fill-opacity="0.8"/>
<circle cx="178.27" cy="71.40" r="0.55" fill="#f07e50" fill-opacity="0.8"/>
<circle cx="170.89" cy="68.25" r="0.55" fill="#f07e50" fill-opacity="0.8"/>
<circle cx="193.80" cy="90.44" r="0.55" fill="#f07e50" fill-opacity="0.8"/>
<circle cx="187.08" cy="84.11" r="0.55" fill="#f07e50" fill-opacity="0.8"/>
<circle cx="189.31" cy="83.38" r="0.55" fill="#f07e50" fill-opacity="0.8"/>
<circle cx="173.09" cy="73.30" r="0.55" fill="#f07e50" fill-opacity="0.8"/>
<circle cx="194.43" cy="87.37" r="0.55" fill="#f07e50" fill-opacity="0.8"/>
<circle cx="184.01" cy="85.62" r="0.55" fill="#f07e50" fill-opacity="0.8"/>
<circle cx="184.47" cy="80.52" r="0.55" fill="#f07e50" fill-opacity="0.8"/>
<circle cx="165.08" cy="62.63" r="0.55" fill="#f07e50" fill-opacity="0.8"/>
<circle cx="186.26" cy="77.51" r="0.55" fill="#f07e50" fill-opacity="0.8"/>
<circle cx="169.91" cy="75.19" r="0.55" fill="#f07e50" fill-opacity="0.8"/>
<circle cx="175.33" cy="77.12" r="0.55" fill="#f07e50" fill-opacity="0.8"/>
<circle cx="171.38" cy="67.30" r="0.55" fill="#f07e50" fill-opacity="0.8"/>
<circle cx="165.86" cy="63.05" r="0.55" fill="#f07e50" fill-opacity="0.8"/>
<circle cx="168.65" cy="70.76" r="0.55" fill="#f07e50" fill-opacity="0.8"/>
<circle cx="167.97" cy="62.77" r="0.55" fill="#f07e50" fill-opacity="0.8"/>
<circle cx="177.93" cy="78.03" r="0.55" fill="#f07e50" fill-opacity="0.8"/>
<circle cx="167.35" cy="63.02" r="0.55" fill="#f07e50" fill-opacity="0.8"/>
<circle cx="181.94" cy="71.40" r="0.55" fill="#f07e50" fill-opacity="0.8"/>
<circle cx="179.98" cy="85.33" r="0.55" fill="#f07e50" fill-opacity="0.8"/>
<circle cx="167.05" cy="72.16" r="0.55" fill="#f07e50" fill-opacity="0.8"/>
<circle cx="166.02" cy="70.52" r="0.55" fill="#f07e50" fill-opacity="0.8"/>
<circle cx="175.18" cy="67.50" r="0.55" fill="#f07e50" fill-opacity="0.8"/>
<circle cx="193.23" cy="82.78" r="0.55" fill="#f07e50" fill-opacity="0.8"/>
<circle cx="184.40" cy="83.26" r="0.55" fill="#f07e50" fill-opacity="0.8"/>
<circle cx="182.47" cy="82.78" r="0.55" fill="#f07e50" fill-opacity="0.8"/>
<circle cx="175.82" cy="71.62" r="0.55" fill="#f07e50" fill-opacity="0.8"/>
<circle cx="170.72" cy="73.29" r="0.55" fill="#f07e50" fill-opacity="0.8"/>
<circle cx="170.24" cy="64.78" r="0.55" fill="#f07e50" fill-opacity="0.8"/>
<circle cx="186.11" cy="90.44" r="0.55" fill="#f07e50" fill-opacity="0.8"/>
<circle cx="176.20" cy="66.68" r="0.55" fill="#f07e50" fill-opacity="0.8"/>
<circle cx="187.55" cy="87.88" r="0.55" fill="#f07e50" fill-opacity="0.8"/>
<circle cx="175.64" cy="76.43" r="0.55" fill="#f07e50" fill-opacity="0.8"/>
<circle cx="174.53" cy="78.33" r="0.55" fill="#f07e50" fill-opacity="0.8"/>
<circle cx="182.53" cy="75.98" r="0.55" fill="#f07e50" fill-opacity="0.8"/>
<circle cx="189.95" cy="88.25" r="0.55" fill="#f07e50" fill-opacity="0.8"/>
<circle cx="179.74" cy="81.67" r="0.55" fill="#f07e50" fill-opacity="0.8"/>
<circle cx="194.33" cy="86.41" r="0.55" fill="#f07e50" fill-opacity="0.8"/>
<circle cx="178.35" cy="80.26" r="0.55" fill="#f07e50" fill-opacity="0.8"/>
<circle cx="171.98" cy="69.46" r="0.55" fill="#f07e50" fill-opacity="0.8"/>
<circle cx="189.23" cy="80.27" r="0.55" fill="#f07e50" fill-opacity="0.8"/>
<circle cx="180.69" cy="72.17" r="0.55" fill="#f07e50" fill-opacity="0.8"/>
<circle cx="183.01" cy="72.88" r="0.55" fill="#f07e50" fill-opacity="0.8"/>
<circle cx="178.47" cy="79.89" r="0.55" fill="#f07e50" fill-opacity="0.8"/>
<circle cx="194.28" cy="87.89" r="0.55" fill="#f07e50" fill-opacity="0.8"/>
<circle cx="184.76" cy="85.02" r="0.55" fill="#f07e50" fill-opacity="0.8"/>
<circle cx="187.79" cy="89.55" r="0.55" fill="#f07e50" fill-opacity="0.8"/>
<circle cx="174.11" cy="75.66" r="0.55" fill="#f07e50" fill-opacity="0.8"/>
<circle cx="188.43" cy="86.28" r="0.55" fill="#f07e50" fill-opacity="0.8"/>
<circle cx="168.89" cy="74.22" r="0.55" fill="#f07e50" fill-opacity="0.8"/>
<circle cx="192.27" cy="85.33" r="0.55" fill="#f07e50" fill-opacity="0.8"/>
<circle cx="170.32" cy="65.51" r="0.55" fill="#f07e50" fill-opacity="0.8"/>
<circle cx="188.17" cy="83.86" r="0.55" fill="#f07e50" fill-opacity="0.8"/>
<circle cx="184.57" cy="87.69" r="0.55" fill="#f07e50" fill-opacity="0.8"/>
<circle cx="182.61" cy="86.64" r="0.55" fill="#f07e50" fill-opacity="0.8"/>
<circle cx="181.08" cy="78.95" r="0.55" fill="#f07e50" fill-opacity="0.8"/>
<circle cx="186.78" cy="89.77" r="0.55" fill="#f07e50" fill-opacity="0.8"/>
<circle cx="186.42" cy="82.47" r="0.55" fill="#f07e50" fill-opacity="0.8"/>
<circle cx="187.93" cy="86.94" r="0.55" fill="#f07e50" fill-opacity="0.8"/>
<circle cx="156.17" cy="52.74" r="0.5" fill="#7d92c4" fill-opacity="0.6"/>
<circle cx="159.78" cy="59.22" r="0.5" fill="#7d92c4" fill-opacity="0.6"/>
<circle cx="168.62" cy="59.83" r="0.5" fill="#7d92c4" fill-opacity="0.6"/>
<circle cx="159.35" cy="49.01" r="0.5" fill="#7d92c4" fill-opacity="0.6"/>
<circle cx="166.45" cy="50.08" r="0.5" fill="#7d92c4" fill-opacity="0.6"/>
<circle cx="164.68" cy="59.87" r="0.5" fill="#7d92c4" fill-opacity="0.6"/>
<circle cx="161.33" cy="50.34" r="0.5" fill="#7d92c4" fill-opacity="0.6"/>
<circle cx="160.93" cy="50.41" r="0.5" fill="#7d92c4" fill-opacity="0.6"/>
<circle cx="162.31" cy="51.78" r="0.5" fill="#7d92c4" fill-opacity="0.6"/>
<circle cx="159.83" cy="62.20" r="0.5" fill="#7d92c4" fill-opacity="0.6"/>
<circle cx="167.98" cy="60.93" r="0.5" fill="#7d92c4" fill-opacity="0.6"/>
<circle cx="152.27" cy="51.21" r="0.5" fill="#7d92c4" fill-opacity="0.6"/>
<circle cx="154.61" cy="60.27" r="0.5" fill="#7d92c4" fill-opacity="0.6"/>
<circle cx="155.47" cy="49.62" r="0.5" fill="#7d92c4" fill-opacity="0.6"/>
<circle cx="157.84" cy="62.08" r="0.5" fill="#7d92c4" fill-opacity="0.6"/>
<circle cx="156.49" cy="49.41" r="0.5" fill="#7d92c4" fill-opacity="0.6"/>
<circle cx="166.08" cy="50.66" r="0.5" fill="#7d92c4" fill-opacity="0.6"/>
<circle cx="162.44" cy="54.59" r="0.5" fill="#7d92c4" fill-opacity="0.6"/>
<circle cx="164.60" cy="54.39" r="0.5" fill="#fc8d62" fill-opacity="0.7"/>
<circle cx="157.41" cy="47.46" r="0.5" fill="#fc8d62" fill-opacity="0.7"/>
<circle cx="166.61" cy="49.30" r="0.5" fill="#fc8d62" fill-opacity="0.7"/>
<circle cx="157.81" cy="55.98" r="0.5" fill="#fc8d62" fill-opacity="0.7"/>
<circle cx="168.22" cy="51.88" r="0.5" fill="#fc8d62" fill-opacity="0.7"/>
<circle cx="158.85" cy="51.51" r="0.5" fill="#fc8d62" fill-opacity="0.7"/>
<circle cx="160.85" cy="62.39" r="0.5" fill="#fc8d62" fill-opacity="0.7"/>
<circle cx="162.67" cy="55.45" r="0.5" fill="#fc8d62" fill-opacity="0.7"/>
<circle cx="158.72" cy="51.46" r="0.5" fill="#fc8d62" fill-opacity="0.7"/>
<circle cx="160.78" cy="60.30" r="0.5" fill="#fc8d62" fill-opacity="0.7"/>
<circle cx="167.54" cy="60.48" r="0.5" fill="#fc8d62" fill-opacity="0.7"/>
<circle cx="158.54" cy="51.20" r="0.5" fill="#fc8d62" fill-opacity="0.7"/>
<circle cx="161.09" cy="46.92" r="0.5" fill="#fc8d62" fill-opacity="0.7"/>
<circle cx="161.74" cy="62.99" r="0.5" fill="#fc8d62" fill-opacity="0.7"/>
<circle cx="160.13" cy="49.77" r="0.5" fill="#fc8d62" fill-opacity="0.7"/>
<circle cx="162.12" cy="46.82" r="0.5" fill="#fc8d62" fill-opacity="0.7"/>
<circle cx="159.01" cy="59.48" r="0.5" fill="#fc8d62" fill-opacity="0.7"/>
<circle cx="158.48" cy="59.05" r="0.5" fill="#fc8d62" fill-opacity="0.7"/>
<circle cx="158.24" cy="59.30" r="0.5" fill="#fc8d62" fill-opacity="0.7"/>
<circle cx="164.79" cy="55.96" r="0.5" fill="#fc8d62" fill-opacity="0.7"/>
<circle cx="160.92" cy="49.28" r="0.5" fill="#fc8d62" fill-opacity="0.7"/>
<circle cx="155.56" cy="54.72" r="0.5" fill="#fc8d62" fill-opacity="0.7"/>
<circle cx="159.17" cy="61.03" r="0.5" fill="#fc8d62" fill-opacity="0.7"/>
<circle cx="155.70" cy="46.65" r="0.5" fill="#fc8d62" fill-opacity="0.7"/>
<circle cx="159.02" cy="55.41" r="0.5" fill="#fc8d62" fill-opacity="0.7"/>
<circle cx="165.07" cy="57.01" r="0.5" fill="#fc8d62" fill-opacity="0.7"/>
<circle cx="157.84" cy="46.50" r="0.5" fill="#fc8d62" fill-opacity="0.7"/>
<circle cx="163.98" cy="47.21" r="0.5" fill="#fc8d62" fill-opacity="0.7"/>
<circle cx="165.78" cy="56.86" r="0.5" fill="#fc8d62" fill-opacity="0.7"/>
<circle cx="167.54" cy="53.32" r="0.5" fill="#fc8d62" fill-opacity="0.7"/>
<path d="M209.4,49.9 C209.7,50.8 213.4,49.8 213.5,50.7 C213.6,51.6 209.8,53.8 209.9,55.3 C210.1,56.7 214.3,58.3 214.4,59.5 C214.5,60.7 210.6,61.6 210.6,62.8 C210.6,63.9 212.9,66.8 214.4,66.2 C215.9,65.7 219.5,61.4 219.6,59.5 C219.7,57.6 215.3,56.4 215.1,54.7 C214.9,53.0 219.1,50.9 218.5,49.3 C217.9,47.7 213.1,45.0 211.6,45.1 C210.1,45.2 209.1,48.9 209.4,49.9 Z" fill="#c8661e" fill-opacity="0.3"/>
<circle cx="214.10" cy="58.63" r="0.6" fill="#c0601c" fill-opacity="0.9"/>
<circle cx="215.47" cy="59.70" r="0.6" fill="#c0601c" fill-opacity="0.9"/>
<circle cx="213.32" cy="64.76" r="0.6" fill="#c0601c" fill-opacity="0.9"/>
<circle cx="214.19" cy="57.02" r="0.6" fill="#c0601c" fill-opacity="0.9"/>
<circle cx="213.71" cy="53.82" r="0.6" fill="#c0601c" fill-opacity="0.9"/>
<circle cx="214.37" cy="49.46" r="0.6" fill="#c0601c" fill-opacity="0.9"/>
<circle cx="210.77" cy="55.28" r="0.6" fill="#c0601c" fill-opacity="0.9"/>
<circle cx="211.63" cy="56.74" r="0.6" fill="#c0601c" fill-opacity="0.9"/>
<circle cx="217.61" cy="50.30" r="0.6" fill="#c0601c" fill-opacity="0.9"/>
<circle cx="218.87" cy="59.24" r="0.6" fill="#c0601c" fill-opacity="0.9"/>
<circle cx="214.59" cy="59.37" r="0.6" fill="#c0601c" fill-opacity="0.9"/>
<circle cx="210.61" cy="48.03" r="0.6" fill="#c0601c" fill-opacity="0.9"/>
<circle cx="213.54" cy="52.63" r="0.6" fill="#c0601c" fill-opacity="0.9"/>
<circle cx="214.20" cy="56.73" r="0.6" fill="#c0601c" fill-opacity="0.9"/>
<circle cx="217.72" cy="60.92" r="0.6" fill="#c0601c" fill-opacity="0.9"/>
<circle cx="212.60" cy="47.22" r="0.6" fill="#c0601c" fill-opacity="0.9"/>
<circle cx="213.68" cy="61.78" r="0.6" fill="#c0601c" fill-opacity="0.9"/>
<circle cx="212.92" cy="54.04" r="0.6" fill="#c0601c" fill-opacity="0.9"/>
<circle cx="210.59" cy="48.48" r="0.6" fill="#c0601c" fill-opacity="0.9"/>
<circle cx="215.26" cy="53.39" r="0.6" fill="#c0601c" fill-opacity="0.9"/>
<circle cx="216.43" cy="49.89" r="0.6" fill="#c0601c" fill-opacity="0.9"/>
<circle cx="214.36" cy="63.44" r="0.6" fill="#c0601c" fill-opacity="0.9"/>
<circle cx="211.24" cy="54.45" r="0.6" fill="#c0601c" fill-opacity="0.9"/>
<circle cx="215.09" cy="63.72" r="0.6" fill="#c0601c" fill-opacity="0.9"/>
<circle cx="214.23" cy="64.08" r="0.6" fill="#c0601c" fill-opacity="0.9"/>
<circle cx="213.83" cy="50.36" r="0.6" fill="#c0601c" fill-opacity="0.9"/>
<circle cx="217.02" cy="60.62" r="0.6" fill="#c0601c" fill-opacity="0.9"/>
<circle cx="211.40" cy="45.92" r="0.6" fill="#c0601c" fill-opacity="0.9"/>
<circle cx="217.77" cy="58.30" r="0.6" fill="#c0601c" fill-opacity="0.9"/>
<circle cx="210.17" cy="49.92" r="0.6" fill="#c0601c" fill-opacity="0.9"/>
<circle cx="213.38" cy="64.46" r="0.6" fill="#c0601c" fill-opacity="0.9"/>
<circle cx="211.64" cy="55.50" r="0.6" fill="#c0601c" fill-opacity="0.9"/>
<circle cx="213.76" cy="65.25" r="0.6" fill="#c0601c" fill-opacity="0.9"/>
<circle cx="212.43" cy="48.89" r="0.6" fill="#c0601c" fill-opacity="0.9"/>
<circle cx="215.49" cy="55.67" r="0.6" fill="#c0601c" fill-opacity="0.9"/>
<circle cx="215.35" cy="60.34" r="0.6" fill="#c0601c" fill-opacity="0.9"/>
<circle cx="213.65" cy="49.73" r="0.6" fill="#c0601c" fill-opacity="0.9"/>
<circle cx="213.30" cy="47.13" r="0.6" fill="#c0601c" fill-opacity="0.9"/>
<circle cx="214.51" cy="54.63" r="0.6" fill="#c0601c" fill-opacity="0.9"/>
<circle cx="210.32" cy="55.39" r="0.6" fill="#c0601c" fill-opacity="0.9"/>
<circle cx="214.90" cy="64.57" r="0.6" fill="#c0601c" fill-opacity="0.9"/>
<circle cx="217.76" cy="58.13" r="0.6" fill="#c0601c" fill-opacity="0.9"/>
<circle cx="217.69" cy="58.24" r="0.6" fill="#c0601c" fill-opacity="0.9"/>
<circle cx="214.38" cy="55.78" r="0.6" fill="#c0601c" fill-opacity="0.9"/>
<circle cx="215.08" cy="52.74" r="0.6" fill="#c0601c" fill-opacity="0.9"/>
<circle cx="216.90" cy="60.50" r="0.6" fill="#c0601c" fill-opacity="0.9"/>
<circle cx="215.72" cy="64.04" r="0.6" fill="#c0601c" fill-opacity="0.9"/>
<circle cx="213.60" cy="51.30" r="0.6" fill="#c0601c" fill-opacity="0.9"/>
<circle cx="215.76" cy="56.83" r="0.6" fill="#c0601c" fill-opacity="0.9"/>
<circle cx="212.59" cy="55.11" r="0.6" fill="#c0601c" fill-opacity="0.9"/>
<circle cx="213.68" cy="63.52" r="0.6" fill="#c0601c" fill-opacity="0.9"/>
<circle cx="214.56" cy="56.66" r="0.6" fill="#c0601c" fill-opacity="0.9"/>
<circle cx="210.74" cy="49.20" r="0.6" fill="#c0601c" fill-opacity="0.9"/>
<circle cx="211.53" cy="55.43" r="0.6" fill="#c0601c" fill-opacity="0.9"/>
<circle cx="217.78" cy="61.66" r="0.6" fill="#c0601c" fill-opacity="0.9"/>
<circle cx="214.67" cy="55.91" r="0.6" fill="#c0601c" fill-opacity="0.9"/>
<circle cx="213.13" cy="46.41" r="0.6" fill="#c0601c" fill-opacity="0.9"/>
<circle cx="213.89" cy="46.79" r="0.6" fill="#c0601c" fill-opacity="0.9"/>
<circle cx="214.91" cy="54.52" r="0.6" fill="#c0601c" fill-opacity="0.9"/>
<circle cx="213.95" cy="50.88" r="0.6" fill="#c0601c" fill-opacity="0.9"/>
<circle cx="216.58" cy="56.44" r="0.6" fill="#c0601c" fill-opacity="0.9"/>
<circle cx="211.20" cy="54.33" r="0.6" fill="#c0601c" fill-opacity="0.9"/>
<circle cx="210.48" cy="47.60" r="0.6" fill="#c0601c" fill-opacity="0.9"/>
<circle cx="214.09" cy="53.00" r="0.6" fill="#c0601c" fill-opacity="0.9"/>
<circle cx="211.32" cy="48.41" r="0.6" fill="#c0601c" fill-opacity="0.9"/>
<circle cx="212.17" cy="46.76" r="0.6" fill="#c0601c" fill-opacity="0.9"/>
<circle cx="212.31" cy="56.39" r="0.6" fill="#c0601c" fill-opacity="0.9"/>
<circle cx="212.37" cy="53.24" r="0.6" fill="#c0601c" fill-opacity="0.9"/>
<circle cx="217.04" cy="58.13" r="0.6" fill="#c0601c" fill-opacity="0.9"/>
<circle cx="211.63" cy="56.56" r="0.6" fill="#c0601c" fill-opacity="0.9"/>
<path d="M149.0,73.0 C150.2,72.0 155.5,72.2 157.0,73.0 C158.5,73.8 159.2,77.0 158.0,78.0 C156.8,79.0 151.5,79.8 150.0,79.0 C148.5,78.2 147.8,74.0 149.0,73.0 Z" fill="#e78ac3" fill-opacity="0.15"/>
<circle cx="154.62" cy="73.92" r="0.55" fill="#ec8cbc" fill-opacity="0.85"/>
<circle cx="154.32" cy="75.75" r="0.55" fill="#ec8cbc" fill-opacity="0.85"/>
<circle cx="152.42" cy="75.92" r="0.55" fill="#ec8cbc" fill-opacity="0.85"/>
<circle cx="152.30" cy="75.19" r="0.55" fill="#ec8cbc" fill-opacity="0.85"/>
<circle cx="153.27" cy="73.03" r="0.55" fill="#ec8cbc" fill-opacity="0.85"/>
<circle cx="151.63" cy="77.86" r="0.55" fill="#ec8cbc" fill-opacity="0.85"/>
<circle cx="153.54" cy="77.10" r="0.55" fill="#ec8cbc" fill-opacity="0.85"/>
<circle cx="157.23" cy="77.15" r="0.55" fill="#ec8cbc" fill-opacity="0.85"/>
<circle cx="150.86" cy="76.77" r="0.55" fill="#ec8cbc" fill-opacity="0.85"/>
<circle cx="157.12" cy="77.36" r="0.55" fill="#ec8cbc" fill-opacity="0.85"/>
<circle cx="156.97" cy="76.43" r="0.55" fill="#ec8cbc" fill-opacity="0.85"/>
<circle cx="155.98" cy="74.40" r="0.55" fill="#ec8cbc" fill-opacity="0.85"/>
<circle cx="151.54" cy="73.53" r="0.55" fill="#ec8cbc" fill-opacity="0.85"/>
<circle cx="150.18" cy="77.66" r="0.55" fill="#ec8cbc" fill-opacity="0.85"/>
<circle cx="149.93" cy="77.63" r="0.55" fill="#ec8cbc" fill-opacity="0.85"/>
<circle cx="151.39" cy="78.07" r="0.55" fill="#ec8cbc" fill-opacity="0.85"/>
<circle cx="154.19" cy="76.99" r="0.55" fill="#ec8cbc" fill-opacity="0.85"/>
<circle cx="153.16" cy="73.14" r="0.55" fill="#ec8cbc" fill-opacity="0.85"/>
<circle cx="184.73" cy="91.18" r="0.45" fill="#888" fill-opacity="0.55"/>
<circle cx="182.34" cy="90.06" r="0.45" fill="#fc8d62" fill-opacity="0.55"/>
<circle cx="147.80" cy="57.31" r="0.45" fill="#8da0cb" fill-opacity="0.55"/>
<circle cx="156.59" cy="104.84" r="0.45" fill="#8da0cb" fill-opacity="0.55"/>
<circle cx="187.43" cy="62.42" r="0.45" fill="#888" fill-opacity="0.55"/>
<circle cx="158.35" cy="93.94" r="0.45" fill="#8da0cb" fill-opacity="0.55"/>
<circle cx="213.61" cy="101.13" r="0.45" fill="#888" fill-opacity="0.55"/>
<circle cx="172.86" cy="87.26" r="0.45" fill="#66c2a5" fill-opacity="0.55"/>
<circle cx="204.18" cy="108.40" r="0.45" fill="#8da0cb" fill-opacity="0.55"/>
<circle cx="219.69" cy="63.58" r="0.45" fill="#fc8d62" fill-opacity="0.55"/>
<circle cx="204.66" cy="107.12" r="0.45" fill="#fc8d62" fill-opacity="0.55"/>
<circle cx="146.64" cy="58.06" r="0.45" fill="#8da0cb" fill-opacity="0.55"/>
<circle cx="176.67" cy="106.56" r="0.45" fill="#66c2a5" fill-opacity="0.55"/>
<circle cx="208.42" cy="52.10" r="0.45" fill="#fc8d62" fill-opacity="0.55"/>
<circle cx="164.84" cy="65.98" r="0.45" fill="#66c2a5" fill-opacity="0.55"/>
<circle cx="193.31" cy="78.88" r="0.45" fill="#888" fill-opacity="0.55"/>
<circle cx="221.84" cy="67.81" r="0.45" fill="#888" fill-opacity="0.55"/>
<circle cx="185.03" cy="54.50" r="0.45" fill="#8da0cb" fill-opacity="0.55"/>
<circle cx="217.65" cy="70.34" r="0.45" fill="#a6d854" fill-opacity="0.55"/>
<circle cx="190.19" cy="96.75" r="0.45" fill="#a6d854" fill-opacity="0.55"/>
<circle cx="173.24" cy="91.36" r="0.45" fill="#a6d854" fill-opacity="0.55"/>
<circle cx="189.66" cy="49.76" r="0.45" fill="#888" fill-opacity="0.55"/>
<circle cx="163.56" cy="78.41" r="0.45" fill="#888" fill-opacity="0.55"/>
<circle cx="165.98" cy="49.92" r="0.45" fill="#888" fill-opacity="0.55"/>
<circle cx="207.25" cy="49.43" r="0.45" fill="#66c2a5" fill-opacity="0.55"/>
<circle cx="212.92" cy="109.91" r="0.45" fill="#8da0cb" fill-opacity="0.55"/>
<circle cx="179.31" cy="75.42" r="0.45" fill="#888" fill-opacity="0.55"/>
<circle cx="153.05" cy="106.47" r="0.45" fill="#a6d854" fill-opacity="0.55"/>
<circle cx="175.76" cy="76.36" r="0.45" fill="#fc8d62" fill-opacity="0.55"/>
<circle cx="187.47" cy="91.94" r="0.45" fill="#888" fill-opacity="0.55"/>
<circle cx="201.25" cy="47.06" r="0.45" fill="#a6d854" fill-opacity="0.55"/>
<circle cx="178.83" cy="63.13" r="0.45" fill="#66c2a5" fill-opacity="0.55"/>
<circle cx="168.22" cy="78.47" r="0.45" fill="#a6d854" fill-opacity="0.55"/>
<circle cx="164.49" cy="98.19" r="0.45" fill="#fc8d62" fill-opacity="0.55"/>
<circle cx="191.48" cy="65.55" r="0.45" fill="#8da0cb" fill-opacity="0.55"/>
<circle cx="196.81" cy="67.29" r="0.45" fill="#8da0cb" fill-opacity="0.55"/>
<circle cx="185.54" cy="101.40" r="0.45" fill="#66c2a5" fill-opacity="0.55"/>
<circle cx="181.82" cy="71.15" r="0.45" fill="#8da0cb" fill-opacity="0.55"/>
<circle cx="209.62" cy="50.55" r="0.45" fill="#888" fill-opacity="0.55"/>
<circle cx="210.59" cy="61.71" r="0.45" fill="#66c2a5" fill-opacity="0.55"/>
<circle cx="182.93" cy="57.37" r="0.45" fill="#fc8d62" fill-opacity="0.55"/>
<circle cx="171.67" cy="85.71" r="0.45" fill="#8da0cb" fill-opacity="0.55"/>
<circle cx="154.78" cy="55.02" r="0.45" fill="#888" fill-opacity="0.55"/>
<circle cx="185.41" cy="78.97" r="0.45" fill="#a6d854" fill-opacity="0.55"/>
<circle cx="181.84" cy="65.16" r="0.45" fill="#8da0cb" fill-opacity="0.55"/>
<circle cx="163.88" cy="65.76" r="0.45" fill="#66c2a5" fill-opacity="0.55"/>
<circle cx="201.37" cy="71.43" r="0.45" fill="#888" fill-opacity="0.55"/>
<circle cx="149.79" cy="90.01" r="0.45" fill="#66c2a5" fill-opacity="0.55"/>
<circle cx="158.13" cy="95.46" r="0.45" fill="#8da0cb" fill-opacity="0.55"/>
<circle cx="177.98" cy="57.64" r="0.45" fill="#fc8d62" fill-opacity="0.55"/>
<circle cx="159.10" cy="55.92" r="0.45" fill="#888" fill-opacity="0.55"/>
<circle cx="222.20" cy="69.78" r="0.45" fill="#888" fill-opacity="0.55"/>
<circle cx="174.72" cy="80.12" r="0.45" fill="#888" fill-opacity="0.55"/>
<circle cx="173.50" cy="64.34" r="0.45" fill="#8da0cb" fill-opacity="0.55"/>
<circle cx="200.06" cy="82.89" r="0.45" fill="#66c2a5" fill-opacity="0.55"/>
<circle cx="156.35" cy="91.54" r="0.45" fill="#888" fill-opacity="0.55"/>
<circle cx="166.30" cy="97.11" r="0.45" fill="#a6d854" fill-opacity="0.55"/>
<circle cx="180.96" cy="51.97" r="0.45" fill="#a6d854" fill-opacity="0.55"/>
<circle cx="173.74" cy="50.91" r="0.45" fill="#a6d854" fill-opacity="0.55"/>
<circle cx="184.19" cy="85.27" r="0.45" fill="#888" fill-opacity="0.55"/>
<circle cx="198.50" cy="57.53" r="0.45" fill="#fc8d62" fill-opacity="0.55"/>
<circle cx="196.31" cy="93.78" r="0.45" fill="#fc8d62" fill-opacity="0.55"/>
<circle cx="195.66" cy="97.72" r="0.45" fill="#66c2a5" fill-opacity="0.55"/>
<circle cx="194.65" cy="66.75" r="0.45" fill="#fc8d62" fill-opacity="0.55"/>
<circle cx="180.36" cy="62.71" r="0.45" fill="#a6d854" fill-opacity="0.55"/>
<circle cx="223.17" cy="92.30" r="0.45" fill="#a6d854" fill-opacity="0.55"/>
<circle cx="221.20" cy="92.40" r="0.45" fill="#888" fill-opacity="0.55"/>
<circle cx="158.57" cy="96.63" r="0.45" fill="#a6d854" fill-opacity="0.55"/>
<circle cx="213.79" cy="99.27" r="0.45" fill="#66c2a5" fill-opacity="0.55"/>
<circle cx="176.61" cy="93.59" r="0.45" fill="#66c2a5" fill-opacity="0.55"/>
<path d="M169.2,44.9 C171.3,43.2 176.3,43.7 180.9,43.5 C185.5,43.3 193.2,42.9 196.5,43.9 C199.8,44.9 199.9,47.4 200.4,49.7 C200.9,52.0 199.7,54.7 199.4,57.5 C199.1,60.3 199.9,64.5 198.4,66.3 C196.9,68.1 193.2,68.0 190.6,68.2 C188.0,68.4 185.5,67.9 182.9,67.2 C180.3,66.5 177.4,65.3 175.1,64.3 C172.8,63.3 170.3,63.2 169.2,61.4 C168.1,59.6 168.3,56.4 168.3,53.6 C168.3,50.9 167.1,46.6 169.2,44.9 Z" fill="none" stroke="#1a1a1a" stroke-width="1.25"/>
<path d="M165.3,64.3 C166.8,63.5 171.8,64.8 175.1,65.3 C178.3,65.8 181.7,66.5 184.8,67.2 C187.9,67.9 192.0,67.9 193.6,69.2 C195.2,70.5 194.5,72.7 194.5,75.0 C194.5,77.3 193.3,80.5 193.6,82.8 C193.9,85.1 196.7,87.0 196.5,88.6 C196.3,90.2 194.2,92.0 192.6,92.5 C191.0,93.0 188.6,92.2 186.7,91.6 C184.8,90.9 182.8,89.9 180.9,88.6 C179.0,87.3 176.9,85.7 175.1,83.8 C173.3,81.9 171.7,79.3 170.2,77.0 C168.7,74.7 167.1,72.3 166.3,70.2 C165.5,68.1 163.8,65.1 165.3,64.3 Z" fill="none" stroke="#1a1a1a" stroke-width="1.25" stroke-dasharray="2.2,1.5"/>
<path d="M162.4,79.9 C163.7,78.3 166.9,77.6 169.2,77.9 C171.5,78.2 174.1,79.7 176.0,81.8 C177.9,83.9 180.1,87.8 180.9,90.6 C181.7,93.4 181.6,96.5 180.9,98.4 C180.2,100.4 178.6,102.3 177.0,102.3 C175.4,102.3 173.1,99.7 171.2,98.4 C169.2,97.1 166.9,96.3 165.3,94.5 C163.7,92.7 162.0,90.1 161.5,87.7 C161.0,85.3 161.1,81.5 162.4,79.9 Z" fill="none" stroke="#e07a4c" stroke-width="0.8" stroke-dasharray="0.9,0.9"/>
<path d="M196.5,74.0 C198.1,72.5 202.0,72.4 204.3,73.1 C206.6,73.8 208.2,76.1 210.1,77.9 C212.0,79.7 214.2,81.8 216.0,83.8 C217.8,85.8 219.8,87.5 220.8,89.6 C221.8,91.7 222.5,94.3 221.8,96.4 C221.2,98.5 219.2,100.5 216.9,102.3 C214.6,104.1 211.2,106.0 208.1,107.1 C205.0,108.2 202.1,108.8 198.4,109.1 C194.7,109.4 188.6,109.9 185.8,109.1 C183.1,108.3 182.4,106.3 181.9,104.2 C181.4,102.1 181.6,98.2 182.9,96.4 C184.2,94.6 187.4,94.6 189.7,93.5 C192.0,92.4 195.7,91.5 196.5,89.6 C197.3,87.6 194.5,84.4 194.5,81.8 C194.5,79.2 194.9,75.5 196.5,74.0 Z" fill="none" stroke="#333" stroke-width="0.7" stroke-dasharray="0.9,0.9"/>
<ellipse cx="213.5" cy="55.6" rx="9.2" ry="12.2" fill="none" stroke="#1a1a1a" stroke-width="1.2"/>
<ellipse cx="154.0" cy="77.6" rx="8.4" ry="7.4" fill="none" stroke="#1a1a1a" stroke-width="1.2"/>
<text x="193.8" y="51.2" font-size="7.8" fill="#1a1a1a" text-anchor="middle" font-weight="bold" font-style="italic">3A</text>
<text x="212.6" y="50.2" font-size="7.8" fill="#1a1a1a" text-anchor="middle" font-weight="bold" font-style="italic">6</text>
<text x="154.0" y="86.4" font-size="7.8" fill="#1a1a1a" text-anchor="middle" font-weight="bold" font-style="italic">7</text>
<text x="186.6" y="85.4" font-size="7.8" fill="#1a1a1a" text-anchor="middle" font-weight="bold" font-style="italic">1B</text>
<text x="176.0" y="102.7" font-size="7.8" fill="#1a1a1a" text-anchor="middle" font-weight="bold" font-style="italic">3B</text>
<text x="204.5" y="108.6" font-size="7.8" fill="#1a1a1a" text-anchor="middle" font-weight="bold" font-style="italic">1A</text>
<line x1="142.8" y1="43.0" x2="226.8" y2="43.0" stroke="#444" stroke-width="0.8"/>
<line x1="226.8" y1="43.0" x2="226.8" y2="113.2" stroke="#444" stroke-width="0.8"/>
<line x1="142.8" y1="43.0" x2="142.8" y2="113.8" stroke="#222" stroke-width="1.2"/>
<line x1="142.20000000000002" y1="113.2" x2="226.8" y2="113.2" stroke="#222" stroke-width="1.2"/>
<line x1="138.8" y1="46.8" x2="142.8" y2="46.8" stroke="#222" stroke-width="0.9"/>
<text x="136.9" y="49.8" font-size="8.6" fill="#333" stroke="#333" stroke-width="0.28" text-anchor="end">6</text>
<line x1="138.8" y1="79.5" x2="142.8" y2="79.5" stroke="#222" stroke-width="0.9"/>
<text x="136.9" y="82.5" font-size="8.6" fill="#333" stroke="#333" stroke-width="0.28" text-anchor="end">3</text>
<line x1="138.8" y1="112.2" x2="142.8" y2="112.2" stroke="#222" stroke-width="0.9"/>
<text x="136.9" y="115.2" font-size="8.6" fill="#333" stroke="#333" stroke-width="0.28" text-anchor="end">0</text>
<line x1="152.7" y1="113.2" x2="152.7" y2="116.7" stroke="#222" stroke-width="0.9"/>
<text x="152.7" y="127.1" font-size="8.6" fill="#333" stroke="#333" stroke-width="0.28" text-anchor="middle">−2</text>
<line x1="173.5" y1="113.2" x2="173.5" y2="116.7" stroke="#222" stroke-width="0.9"/>
<text x="173.5" y="127.1" font-size="8.6" fill="#333" stroke="#333" stroke-width="0.28" text-anchor="middle">0</text>
<line x1="193.7" y1="113.2" x2="193.7" y2="116.7" stroke="#222" stroke-width="0.9"/>
<text x="193.7" y="127.1" font-size="8.6" fill="#333" stroke="#333" stroke-width="0.28" text-anchor="middle">2</text>
<line x1="213.8" y1="113.2" x2="213.8" y2="116.7" stroke="#222" stroke-width="0.9"/>
<text x="213.8" y="127.1" font-size="8.6" fill="#333" stroke="#333" stroke-width="0.28" text-anchor="middle">4</text>
<text x="67.3" y="140.0" font-size="9.7" fill="#333" stroke="#333" stroke-width="0.3" textLength="26.2" lengthAdjust="spacingAndGlyphs">UMAP-1</text>
<text x="171.3" y="140.0" font-size="9.7" fill="#333" stroke="#333" stroke-width="0.3" textLength="27" lengthAdjust="spacingAndGlyphs">UMAP-1</text>
<g transform="translate(24.6,77) rotate(-90)">
<text x="0" y="0" font-size="9.7" fill="#333" stroke="#333" stroke-width="0.3" text-anchor="middle" textLength="26.6" lengthAdjust="spacingAndGlyphs">UMAP-2</text>
</g>
<text x="234.3" y="47.7" font-size="7.3" fill="#333" stroke="#333" stroke-width="0.13" textLength="21.6" lengthAdjust="spacingAndGlyphs">cluster</text>
<rect x="232.0" y="52.5" width="8.0" height="8.0" fill="#66c2a5" stroke="none" stroke-width="1" fill-opacity="0.07"/>
<circle cx="236.00" cy="56.50" r="1.4" fill="#5cb89a"/>
<text x="240.8" y="58.5" font-size="7.6" fill="#333" stroke="#333" stroke-width="0.13">1A</text>
<rect x="232.0" y="63.5" width="8.0" height="8.0" fill="#fc8d62" stroke="none" stroke-width="1" fill-opacity="0.07"/>
<circle cx="236.00" cy="67.50" r="1.4" fill="#e8845c"/>
<text x="240.8" y="69.5" font-size="7.6" fill="#333" stroke="#333" stroke-width="0.13">1B</text>
<rect x="232.0" y="74.5" width="8.0" height="8.0" fill="#8da0cb" stroke="none" stroke-width="1" fill-opacity="0.07"/>
<circle cx="236.00" cy="78.50" r="1.4" fill="#7f94c4"/>
<text x="240.8" y="80.5" font-size="7.6" fill="#333" stroke="#333" stroke-width="0.13">3A</text>
<rect x="232.0" y="85.5" width="8.0" height="8.0" fill="#a6d854" stroke="none" stroke-width="1" fill-opacity="0.07"/>
<circle cx="236.00" cy="89.50" r="1.4" fill="#96c650"/>
<text x="240.8" y="91.5" font-size="7.6" fill="#333" stroke="#333" stroke-width="0.13">3B</text>
<rect x="232.0" y="96.5" width="8.0" height="8.0" fill="#c8661e" stroke="none" stroke-width="1" fill-opacity="0.07"/>
<circle cx="236.00" cy="100.50" r="1.4" fill="#8a2a1a"/>
<text x="240.8" y="102.5" font-size="7.6" fill="#333" stroke="#333" stroke-width="0.13">6</text>
<rect x="232.0" y="107.5" width="8.0" height="8.0" fill="#e78ac3" stroke="none" stroke-width="1" fill-opacity="0.07"/>
<circle cx="236.00" cy="111.50" r="1.4" fill="#e080b8"/>
<text x="240.8" y="113.5" font-size="7.6" fill="#333" stroke="#333" stroke-width="0.13">7</text>
<rect x="321.8" y="25.6" width="12.6" height="21.0" fill="none" stroke="#4aaed6" stroke-width="0.9"/>
<rect x="321.8" y="77.0" width="12.6" height="21.0" fill="none" stroke="#4aaed6" stroke-width="0.9"/>
<rect x="342.6" y="25.4" width="14.2" height="72.0" fill="none" stroke="#4aaed6" stroke-width="0.9"/>
<circle cx="326.60" cy="29.50" r="1.8" fill="#d48a6e"/>
<circle cx="326.60" cy="42.20" r="2.4" fill="#d8704e"/>
<circle cx="326.60" cy="55.90" r="0.8" fill="#b8a8a8"/>
<circle cx="326.60" cy="68.70" r="1.0" fill="#b0a0a0"/>
<circle cx="326.60" cy="81.30" r="1.6" fill="#d09484"/>
<circle cx="326.60" cy="93.80" r="1.8" fill="#d88a70"/>
<line x1="326.6" y1="104.4" x2="326.6" y2="107" stroke="#222" stroke-width="0.9"/>
<g transform="translate(329.8,115.2) rotate(-45)">
<text x="0" y="0" font-size="7.7" fill="#333" stroke="#333" stroke-width="0.05" text-anchor="end">Csf2</text>
</g>
<circle cx="348.55" cy="29.50" r="2.3" fill="#e06048"/>
<circle cx="348.55" cy="42.20" r="2.2" fill="#d8785a"/>
<circle cx="348.55" cy="55.90" r="2.2" fill="#d8785a"/>
<circle cx="348.55" cy="68.70" r="2.3" fill="#d87858"/>
<circle cx="348.55" cy="81.30" r="2.3" fill="#dc6e50"/>
<circle cx="348.55" cy="93.80" r="2.4" fill="#e06a50"/>
<line x1="348.55" y1="104.4" x2="348.55" y2="107" stroke="#222" stroke-width="0.9"/>
<g transform="translate(351.8,115.2) rotate(-45)">
<text x="0" y="0" font-size="7.7" fill="#333" stroke="#333" stroke-width="0.05" text-anchor="end">Ifng</text>
</g>
<circle cx="370.50" cy="29.50" r="1.8" fill="#d09070"/>
<circle cx="370.50" cy="42.20" r="1.2" fill="#a89898"/>
<circle cx="370.50" cy="55.90" r="1.8" fill="#c89484"/>
<circle cx="370.50" cy="68.70" r="2.5" fill="#d88060"/>
<circle cx="370.50" cy="81.30" r="1.2" fill="#b0a098"/>
<circle cx="370.50" cy="93.80" r="1.5" fill="#c0a090"/>
<line x1="370.5" y1="104.4" x2="370.5" y2="107" stroke="#222" stroke-width="0.9"/>
<g transform="translate(373.7,115.2) rotate(-45)">
<text x="0" y="0" font-size="7.7" fill="#333" stroke="#333" stroke-width="0.05" text-anchor="end">Gzmb</text>
</g>
<circle cx="392.45" cy="29.50" r="1.5" fill="#c09088"/>
<circle cx="392.45" cy="42.20" r="1.4" fill="#b09898"/>
<circle cx="392.45" cy="55.90" r="1.4" fill="#b8a0a0"/>
<circle cx="392.45" cy="68.70" r="1.9" fill="#d87070"/>
<circle cx="392.45" cy="81.30" r="0.8" fill="#b8a8a8"/>
<circle cx="392.45" cy="93.80" r="1.4" fill="#c89888"/>
<line x1="392.45000000000005" y1="104.4" x2="392.45000000000005" y2="107" stroke="#222" stroke-width="0.9"/>
<g transform="translate(395.7,115.2) rotate(-45)">
<text x="0" y="0" font-size="7.7" fill="#333" stroke="#333" stroke-width="0.05" text-anchor="end">Gzma</text>
</g>
<circle cx="414.40" cy="29.50" r="1.2" fill="#b0a8a8"/>
<circle cx="414.40" cy="42.20" r="1.2" fill="#b0a8a8"/>
<circle cx="414.40" cy="55.90" r="1.5" fill="#c09080"/>
<circle cx="414.40" cy="68.70" r="1.6" fill="#c09088"/>
<circle cx="414.40" cy="81.30" r="1.2" fill="#b8a8a8"/>
<circle cx="414.40" cy="93.80" r="1.2" fill="#b0a8a8"/>
<line x1="414.40000000000003" y1="104.4" x2="414.40000000000003" y2="107" stroke="#222" stroke-width="0.9"/>
<g transform="translate(417.6,115.2) rotate(-45)">
<text x="0" y="0" font-size="7.7" fill="#333" stroke="#333" stroke-width="0.05" text-anchor="end">Il10</text>
</g>
<circle cx="436.35" cy="29.50" r="2.2" fill="#d89090"/>
<circle cx="436.35" cy="42.20" r="2.3" fill="#d09090"/>
<circle cx="436.35" cy="55.90" r="2.1" fill="#d09090"/>
<circle cx="436.35" cy="68.70" r="2.2" fill="#c8a0a0"/>
<circle cx="436.35" cy="81.30" r="2.3" fill="#d89090"/>
<circle cx="436.35" cy="93.80" r="2.3" fill="#d89090"/>
<line x1="436.35" y1="104.4" x2="436.35" y2="107" stroke="#222" stroke-width="0.9"/>
<g transform="translate(439.6,115.2) rotate(-45)">
<text x="0" y="0" font-size="7.7" fill="#333" stroke="#333" stroke-width="0.05" text-anchor="end">Tgfb1</text>
</g>
<circle cx="458.30" cy="29.50" r="1.6" fill="#c8a0a0"/>
<circle cx="458.30" cy="42.20" r="2.4" fill="#e07878"/>
<circle cx="458.30" cy="55.90" r="1.2" fill="#b8b0b0"/>
<circle cx="458.30" cy="68.70" r="1.2" fill="#b8b0b0"/>
<circle cx="458.30" cy="81.30" r="1.5" fill="#c0a8a8"/>
<circle cx="458.30" cy="93.80" r="1.6" fill="#d06850"/>
<line x1="458.3" y1="104.4" x2="458.3" y2="107" stroke="#222" stroke-width="0.9"/>
<g transform="translate(461.5,115.2) rotate(-45)">
<text x="0" y="0" font-size="7.7" fill="#333" stroke="#333" stroke-width="0.05" text-anchor="end">Ccl1</text>
</g>
<circle cx="480.25" cy="29.50" r="1.4" fill="#c8a0a0"/>
<circle cx="480.25" cy="42.20" r="1.3" fill="#b8a8a8"/>
<circle cx="480.25" cy="55.90" r="2.0" fill="#d89090"/>
<circle cx="480.25" cy="68.70" r="2.0" fill="#d09898"/>
<circle cx="480.25" cy="81.30" r="2.0" fill="#e07050"/>
<circle cx="480.25" cy="93.80" r="1.9" fill="#e08060"/>
<line x1="480.25" y1="104.4" x2="480.25" y2="107" stroke="#222" stroke-width="0.9"/>
<g transform="translate(483.4,115.2) rotate(-45)">
<text x="0" y="0" font-size="7.7" fill="#333" stroke="#333" stroke-width="0.05" text-anchor="end">Ccl4</text>
</g>
<circle cx="502.20" cy="29.50" r="2.4" fill="#e85a40"/>
<circle cx="502.20" cy="42.20" r="2.2" fill="#e08080"/>
<circle cx="502.20" cy="55.90" r="3.4" fill="#e81010"/>
<circle cx="502.20" cy="68.70" r="3.4" fill="#e01010"/>
<circle cx="502.20" cy="81.30" r="2.7" fill="#e85030"/>
<circle cx="502.20" cy="93.80" r="2.7" fill="#e85a30"/>
<line x1="502.20000000000005" y1="104.4" x2="502.20000000000005" y2="107" stroke="#222" stroke-width="0.9"/>
<g transform="translate(505.4,115.2) rotate(-45)">
<text x="0" y="0" font-size="7.7" fill="#333" stroke="#333" stroke-width="0.05" text-anchor="end">Ccl5</text>
</g>
<line x1="320.8" y1="16.3" x2="320.8" y2="104.9" stroke="#222" stroke-width="1.2"/>
<line x1="320.2" y1="104.4" x2="512.6" y2="104.4" stroke="#222" stroke-width="1.2"/>
<line x1="316.6" y1="29.5" x2="320.8" y2="29.5" stroke="#222" stroke-width="0.9"/>
<text x="314.2" y="32.1" font-size="8.2" fill="#222" stroke="#222" stroke-width="0.13" text-anchor="end" textLength="11.9" lengthAdjust="spacingAndGlyphs">WT</text>
<line x1="316.6" y1="42.2" x2="320.8" y2="42.2" stroke="#222" stroke-width="0.9"/>
<text x="314.2" y="44.800000000000004" font-size="8.2" fill="#222" stroke="#222" stroke-width="0.13" text-anchor="end" textLength="15.2" lengthAdjust="spacingAndGlyphs">cKO</text>
<line x1="316.6" y1="55.9" x2="320.8" y2="55.9" stroke="#222" stroke-width="0.9"/>
<text x="314.2" y="58.5" font-size="8.2" fill="#222" stroke="#222" stroke-width="0.13" text-anchor="end" textLength="11.9" lengthAdjust="spacingAndGlyphs">WT</text>
<line x1="316.6" y1="68.7" x2="320.8" y2="68.7" stroke="#222" stroke-width="0.9"/>
<text x="314.2" y="71.3" font-size="8.2" fill="#222" stroke="#222" stroke-width="0.13" text-anchor="end" textLength="15.2" lengthAdjust="spacingAndGlyphs">cKO</text>
<line x1="316.6" y1="81.3" x2="320.8" y2="81.3" stroke="#222" stroke-width="0.9"/>
<text x="314.2" y="83.89999999999999" font-size="8.2" fill="#222" stroke="#222" stroke-width="0.13" text-anchor="end" textLength="11.9" lengthAdjust="spacingAndGlyphs">WT</text>
<line x1="316.6" y1="93.8" x2="320.8" y2="93.8" stroke="#222" stroke-width="0.9"/>
<text x="314.2" y="96.39999999999999" font-size="8.2" fill="#222" stroke="#222" stroke-width="0.13" text-anchor="end" textLength="15.2" lengthAdjust="spacingAndGlyphs">cKO</text>
<line x1="296.2" y1="25.3" x2="296.2" y2="48.3" stroke="#555" stroke-width="1.1"/>
<text x="277.6" y="36.1" font-size="8.2" fill="#48aedc" stroke="#48aedc" stroke-width="0.13" textLength="15.5" lengthAdjust="spacingAndGlyphs">C1A</text>
<line x1="296.2" y1="52.9" x2="296.2" y2="76.3" stroke="#555" stroke-width="1.1"/>
<text x="277.6" y="64.2" font-size="8.2" fill="#222" stroke="#222" stroke-width="0.13" textLength="15.5" lengthAdjust="spacingAndGlyphs">C3A</text>
<line x1="296.2" y1="79.6" x2="296.2" y2="103.1" stroke="#555" stroke-width="1.1"/>
<text x="277.6" y="90.8" font-size="8.2" fill="#48aedc" stroke="#48aedc" stroke-width="0.13" textLength="15.5" lengthAdjust="spacingAndGlyphs">C3B</text>
<text x="277.5" y="145.5" font-size="7.3" fill="#333" stroke="#333" stroke-width="0.13" textLength="25" lengthAdjust="spacingAndGlyphs">Percent</text>
<text x="277.5" y="154.3" font-size="7.3" fill="#333" stroke="#333" stroke-width="0.13" textLength="33.5" lengthAdjust="spacingAndGlyphs">expressed</text>
<circle cx="318.80" cy="148.20" r="1.1" fill="#111"/>
<text x="323.0" y="150.8" font-size="7.4" fill="#333" stroke="#333" stroke-width="0.13">0</text>
<circle cx="338.30" cy="148.20" r="2.7" fill="#111"/>
<text x="344.0" y="150.8" font-size="7.4" fill="#333" stroke="#333" stroke-width="0.13">20</text>
<circle cx="364.30" cy="148.20" r="3.3" fill="#111"/>
<text x="370.2" y="150.8" font-size="7.4" fill="#333" stroke="#333" stroke-width="0.13">40</text>
<circle cx="390.80" cy="148.20" r="3.9" fill="#111"/>
<text x="398.3" y="150.8" font-size="7.4" fill="#333" stroke="#333" stroke-width="0.13">60</text>
<text x="421.7" y="145.6" font-size="7.3" fill="#333" stroke="#333" stroke-width="0.13" textLength="27" lengthAdjust="spacingAndGlyphs">Average</text>
<text x="421.7" y="153.9" font-size="7.3" fill="#333" stroke="#333" stroke-width="0.13" textLength="33.1" lengthAdjust="spacingAndGlyphs">expressed</text>
<defs><linearGradient id="gB" x1="0" x2="1" y1="0" y2="0"><stop offset="0" stop-color="#cbc3c3"/><stop offset="0.4" stop-color="#e29c92"/><stop offset="0.75" stop-color="#ea5a48"/><stop offset="1" stop-color="#e61c12"/></linearGradient><linearGradient id="gC" x1="0" x2="1" y1="0" y2="0"><stop offset="0" stop-color="#cac6c6"/><stop offset="0.4" stop-color="#e2a096"/><stop offset="0.75" stop-color="#ea5c4a"/><stop offset="1" stop-color="#e41a10"/></linearGradient></defs>
<rect x="462.6" y="139.4" width="50.2" height="7.2" fill="url(#gB)" stroke="none" stroke-width="1"/>
<text x="463.6" y="154.7" font-size="7" fill="#333" stroke="#333" stroke-width="0.13" text-anchor="middle">0</text>
<text x="474.4" y="154.7" font-size="7" fill="#333" stroke="#333" stroke-width="0.13" text-anchor="middle">1</text>
<text x="486.4" y="154.7" font-size="7" fill="#333" stroke="#333" stroke-width="0.13" text-anchor="middle">2</text>
<text x="498.7" y="154.7" font-size="7" fill="#333" stroke="#333" stroke-width="0.13" text-anchor="middle">3</text>
<text x="511.0" y="154.7" font-size="7" fill="#333" stroke="#333" stroke-width="0.13" text-anchor="middle">4</text>
<rect x="67.5" y="215.3" width="11.9" height="22.0" fill="none" stroke="#4aaed6" stroke-width="0.9"/>
<rect x="67.5" y="265.8" width="11.9" height="21.7" fill="none" stroke="#4aaed6" stroke-width="0.9"/>
<rect x="123.7" y="215.3" width="12.2" height="21.6" fill="none" stroke="#4aaed6" stroke-width="0.9"/>
<rect x="123.7" y="241.2" width="12.2" height="21.8" fill="none" stroke="#4aaed6" stroke-width="0.9"/>
<circle cx="73.30" cy="219.90" r="1.2" fill="#c09898"/>
<circle cx="73.30" cy="232.20" r="1.2" fill="#c098a8"/>
<circle cx="73.30" cy="245.30" r="1.6" fill="#c89080"/>
<circle cx="73.30" cy="257.80" r="1.3" fill="#c8a090"/>
<circle cx="73.30" cy="270.40" r="1.8" fill="#d08870"/>
<circle cx="73.30" cy="283.10" r="2.3" fill="#d87888"/>
<line x1="73.3" y1="290" x2="73.3" y2="292.5" stroke="#222" stroke-width="0.9"/>
<text x="73.3" y="302.9" font-size="8.3" fill="#222" stroke="#222" stroke-width="0.13" text-anchor="middle" textLength="22.9" lengthAdjust="spacingAndGlyphs">Pdcd1</text>
<circle cx="101.70" cy="219.90" r="2.3" fill="#e05040"/>
<circle cx="101.70" cy="232.20" r="2.1" fill="#e06060"/>
<circle cx="101.70" cy="245.30" r="2.3" fill="#e05a40"/>
<circle cx="101.70" cy="257.80" r="3.2" fill="#e01010"/>
<circle cx="101.70" cy="270.40" r="2.7" fill="#e04030"/>
<circle cx="101.70" cy="283.10" r="2.4" fill="#e05030"/>
<line x1="101.7" y1="290" x2="101.7" y2="292.5" stroke="#222" stroke-width="0.9"/>
<text x="101.7" y="302.9" font-size="8.3" fill="#222" stroke="#222" stroke-width="0.13" text-anchor="middle" textLength="20.2" lengthAdjust="spacingAndGlyphs">Ctla4</text>
<circle cx="130.10" cy="219.90" r="1.0" fill="#b8a8a8"/>
<circle cx="130.10" cy="232.20" r="1.8" fill="#e06060"/>
<circle cx="130.10" cy="245.30" r="1.3" fill="#c09898"/>
<circle cx="130.10" cy="257.80" r="2.4" fill="#e85040"/>
<circle cx="130.10" cy="270.40" r="1.0" fill="#d0a090"/>
<circle cx="130.10" cy="283.10" r="1.0" fill="#b8b0b0"/>
<line x1="130.1" y1="290" x2="130.1" y2="292.5" stroke="#222" stroke-width="0.9"/>
<text x="130.1" y="302.9" font-size="8.3" fill="#222" stroke="#222" stroke-width="0.13" text-anchor="middle" textLength="19.3" lengthAdjust="spacingAndGlyphs">Klrg1</text>
<line x1="60.6" y1="213.7" x2="60.6" y2="290.6" stroke="#222" stroke-width="1.2"/>
<line x1="60.0" y1="290" x2="143.4" y2="290" stroke="#222" stroke-width="1.2"/>
<line x1="56.2" y1="219.9" x2="60.6" y2="219.9" stroke="#222" stroke-width="0.9"/>
<text x="54.8" y="222.5" font-size="8.2" fill="#222" stroke="#222" stroke-width="0.13" text-anchor="end" textLength="11.9" lengthAdjust="spacingAndGlyphs">WT</text>
<line x1="56.2" y1="232.2" x2="60.6" y2="232.2" stroke="#222" stroke-width="0.9"/>
<text x="54.8" y="234.79999999999998" font-size="8.2" fill="#222" stroke="#222" stroke-width="0.13" text-anchor="end" textLength="14.9" lengthAdjust="spacingAndGlyphs">cKO</text>
<line x1="56.2" y1="245.3" x2="60.6" y2="245.3" stroke="#222" stroke-width="0.9"/>
<text x="54.8" y="247.9" font-size="8.2" fill="#222" stroke="#222" stroke-width="0.13" text-anchor="end" textLength="11.9" lengthAdjust="spacingAndGlyphs">WT</text>
<line x1="56.2" y1="257.8" x2="60.6" y2="257.8" stroke="#222" stroke-width="0.9"/>
<text x="54.8" y="260.40000000000003" font-size="8.2" fill="#222" stroke="#222" stroke-width="0.13" text-anchor="end" textLength="14.9" lengthAdjust="spacingAndGlyphs">cKO</text>
<line x1="56.2" y1="270.4" x2="60.6" y2="270.4" stroke="#222" stroke-width="0.9"/>
<text x="54.8" y="273.0" font-size="8.2" fill="#222" stroke="#222" stroke-width="0.13" text-anchor="end" textLength="11.9" lengthAdjust="spacingAndGlyphs">WT</text>
<line x1="56.2" y1="283.1" x2="60.6" y2="283.1" stroke="#222" stroke-width="0.9"/>
<text x="54.8" y="285.70000000000005" font-size="8.2" fill="#222" stroke="#222" stroke-width="0.13" text-anchor="end" textLength="14.9" lengthAdjust="spacingAndGlyphs">cKO</text>
<line x1="36.3" y1="217.9" x2="36.3" y2="233.7" stroke="#555" stroke-width="1.1"/>
<text x="17.9" y="228.8" font-size="8.2" fill="#48aedc" stroke="#48aedc" stroke-width="0.13" textLength="15.0" lengthAdjust="spacingAndGlyphs">C1A</text>
<line x1="36.3" y1="242.9" x2="36.3" y2="258.7" stroke="#555" stroke-width="1.1"/>
<text x="17.9" y="252.8" font-size="8.2" fill="#222" stroke="#222" stroke-width="0.13" textLength="15.0" lengthAdjust="spacingAndGlyphs">C3A</text>
<line x1="36.3" y1="269.7" x2="36.3" y2="285.5" stroke="#555" stroke-width="1.1"/>
<text x="17.9" y="279.7" font-size="8.2" fill="#48aedc" stroke="#48aedc" stroke-width="0.13" textLength="15.0" lengthAdjust="spacingAndGlyphs">C3B</text>
<circle cx="26.70" cy="317.70" r="1.1" fill="#111"/>
<text x="31.5" y="320.4" font-size="7.6" fill="#333" stroke="#333" stroke-width="0.13">0</text>
<circle cx="46.30" cy="317.70" r="2.8" fill="#111"/>
<text x="53.0" y="320.4" font-size="7.6" fill="#333" stroke="#333" stroke-width="0.13">10</text>
<circle cx="73.30" cy="317.70" r="3.3" fill="#111"/>
<text x="80.5" y="320.4" font-size="7.6" fill="#333" stroke="#333" stroke-width="0.13">20</text>
<circle cx="100.70" cy="317.70" r="3.8" fill="#111"/>
<text x="108.3" y="320.4" font-size="7.6" fill="#333" stroke="#333" stroke-width="0.13">30</text>
<circle cx="128.50" cy="317.70" r="4.2" fill="#111"/>
<text x="136.5" y="320.4" font-size="7.6" fill="#333" stroke="#333" stroke-width="0.13">40</text>
<text x="54.4" y="331.8" font-size="7.9" fill="#333" stroke="#333" stroke-width="0.13" textLength="61.1" lengthAdjust="spacingAndGlyphs">Percent expressed</text>
<rect x="59.5" y="343.0" width="70.5" height="9.5" fill="url(#gC)" stroke="none" stroke-width="1"/>
<text x="59.8" y="360.2" font-size="7.3" fill="#333" stroke="#333" stroke-width="0.13" text-anchor="middle">0</text>
<text x="74.0" y="360.2" font-size="7.3" fill="#333" stroke="#333" stroke-width="0.13" text-anchor="middle">0.5</text>
<text x="89.3" y="360.2" font-size="7.3" fill="#333" stroke="#333" stroke-width="0.13" text-anchor="middle">1.0</text>
<text x="104.3" y="360.2" font-size="7.3" fill="#333" stroke="#333" stroke-width="0.13" text-anchor="middle">1.5</text>
<text x="119.6" y="360.2" font-size="7.3" fill="#333" stroke="#333" stroke-width="0.13" text-anchor="middle">2.0</text>
<text x="62.5" y="371.6" font-size="7.9" fill="#333" stroke="#333" stroke-width="0.13" textLength="64.5" lengthAdjust="spacingAndGlyphs">Average expressed</text>
<text x="281.0" y="193.4" font-size="9.5" fill="#333" stroke="#333" stroke-width="0.13" textLength="37.5" lengthAdjust="spacingAndGlyphs">WT, C1A</text>
<line x1="281.0" y1="194.3" x2="318.5" y2="194.3" stroke="#333" stroke-width="0.7"/>
<rect x="272.7" y="207.4" width="42.4954" height="5.4" fill="#26a4de" stroke="none" stroke-width="1"/>
<line x1="268.7" y1="210.1" x2="272.7" y2="210.1" stroke="#222" stroke-width="0.9"/>
<rect x="272.7" y="226.45000000000002" width="34.181999999999995" height="5.4" fill="#26a4de" stroke="none" stroke-width="1"/>
<line x1="268.7" y1="229.15" x2="272.7" y2="229.15" stroke="#222" stroke-width="0.9"/>
<rect x="272.7" y="245.5" width="29.961999999999996" height="5.4" fill="#26a4de" stroke="none" stroke-width="1"/>
<line x1="268.7" y1="248.2" x2="272.7" y2="248.2" stroke="#222" stroke-width="0.9"/>
<rect x="272.7" y="264.55" width="27.218999999999998" height="5.4" fill="#26a4de" stroke="none" stroke-width="1"/>
<line x1="268.7" y1="267.25" x2="272.7" y2="267.25" stroke="#222" stroke-width="0.9"/>
<rect x="272.7" y="283.6" width="27.218999999999998" height="5.4" fill="#26a4de" stroke="none" stroke-width="1"/>
<line x1="268.7" y1="286.3" x2="272.7" y2="286.3" stroke="#222" stroke-width="0.9"/>
<rect x="272.7" y="302.65000000000003" width="23.631999999999998" height="5.4" fill="#26a4de" stroke="none" stroke-width="1"/>
<line x1="268.7" y1="305.35" x2="272.7" y2="305.35" stroke="#222" stroke-width="0.9"/>
<rect x="272.7" y="321.7" width="13.504" height="5.4" fill="#26a4de" stroke="none" stroke-width="1"/>
<line x1="268.7" y1="324.4" x2="272.7" y2="324.4" stroke="#222" stroke-width="0.9"/>
<text x="266.3" y="212.6" font-size="8.4" fill="#333" stroke="#333" stroke-width="0.13" text-anchor="end" textLength="58.0" lengthAdjust="spacingAndGlyphs">TNFR2 signaling</text>
<text x="266.3" y="227.4" font-size="8.4" fill="#333" stroke="#333" stroke-width="0.13" text-anchor="end" textLength="68.3" lengthAdjust="spacingAndGlyphs">CD28 signaling in T</text>
<text x="266.3" y="235.6" font-size="8.4" fill="#333" stroke="#333" stroke-width="0.13" text-anchor="end" textLength="40.8" lengthAdjust="spacingAndGlyphs">helper cells</text>
<text x="266.3" y="246.6" font-size="8.4" fill="#333" stroke="#333" stroke-width="0.13" text-anchor="end" textLength="71.8" lengthAdjust="spacingAndGlyphs">PKC-θ signaling in T</text>
<text x="266.3" y="254.6" font-size="8.4" fill="#333" stroke="#333" stroke-width="0.13" text-anchor="end" textLength="44.8" lengthAdjust="spacingAndGlyphs">lymphocytes</text>
<text x="266.3" y="265.3" font-size="8.4" fill="#333" stroke="#333" stroke-width="0.13" text-anchor="end" textLength="95.0" lengthAdjust="spacingAndGlyphs">Role of NFAT in regulation</text>
<text x="266.3" y="273.6" font-size="8.4" fill="#333" stroke="#333" stroke-width="0.13" text-anchor="end" textLength="73.2" lengthAdjust="spacingAndGlyphs">of immune response</text>
<text x="266.3" y="289.3" font-size="8.4" fill="#333" stroke="#333" stroke-width="0.13" text-anchor="end" textLength="46.0" lengthAdjust="spacingAndGlyphs">Th2 pathway</text>
<text x="266.3" y="308.0" font-size="8.4" fill="#333" stroke="#333" stroke-width="0.13" text-anchor="end" textLength="46.0" lengthAdjust="spacingAndGlyphs">Th1 pathway</text>
<text x="266.3" y="327.0" font-size="8.4" fill="#333" stroke="#333" stroke-width="0.13" text-anchor="end" textLength="89.4" lengthAdjust="spacingAndGlyphs">Sirtuin signaling pathway</text>
<line x1="272.7" y1="201.8" x2="272.7" y2="336.0" stroke="#222" stroke-width="1.1"/>
<line x1="272.2" y1="335.4" x2="326.2" y2="335.4" stroke="#222" stroke-width="1.1"/>
<line x1="272.7" y1="335.4" x2="272.7" y2="338.0" stroke="#222" stroke-width="0.9"/>
<text x="272.7" y="348.5" font-size="8.9" fill="#333" stroke="#333" stroke-width="0.3" text-anchor="middle" textLength="4.36" lengthAdjust="spacingAndGlyphs">0</text>
<line x1="289.58" y1="335.4" x2="289.58" y2="338.0" stroke="#222" stroke-width="0.9"/>
<text x="289.58" y="348.5" font-size="8.9" fill="#333" stroke="#333" stroke-width="0.3" text-anchor="middle" textLength="4.36" lengthAdjust="spacingAndGlyphs">4</text>
<line x1="306.46" y1="335.4" x2="306.46" y2="338.0" stroke="#222" stroke-width="0.9"/>
<text x="306.46" y="348.5" font-size="8.9" fill="#333" stroke="#333" stroke-width="0.3" text-anchor="middle" textLength="4.36" lengthAdjust="spacingAndGlyphs">8</text>
<line x1="323.34" y1="335.4" x2="323.34" y2="338.0" stroke="#222" stroke-width="0.9"/>
<text x="323.34" y="348.5" font-size="8.9" fill="#333" stroke="#333" stroke-width="0.3" text-anchor="middle" textLength="8.71" lengthAdjust="spacingAndGlyphs">12</text>
<text x="413.4" y="192.7" font-size="9.5" fill="#333" stroke="#333" stroke-width="0.13" textLength="89.3" lengthAdjust="spacingAndGlyphs">Id3-cKO vs. WT, C1A</text>
<line x1="413.4" y1="193.6" x2="502.7" y2="193.6" stroke="#333" stroke-width="0.7"/>
<rect x="457.9" y="207.4" width="42.33" height="5.4" fill="#c4041f" stroke="none" stroke-width="1"/>
<line x1="453.9" y1="210.1" x2="457.9" y2="210.1" stroke="#222" stroke-width="0.9"/>
<rect x="457.9" y="226.45000000000002" width="40.035" height="5.4" fill="#c4041f" stroke="none" stroke-width="1"/>
<line x1="453.9" y1="229.15" x2="457.9" y2="229.15" stroke="#222" stroke-width="0.9"/>
<rect x="457.9" y="245.5" width="38.76" height="5.4" fill="#c4041f" stroke="none" stroke-width="1"/>
<line x1="453.9" y1="248.2" x2="457.9" y2="248.2" stroke="#222" stroke-width="0.9"/>
<rect x="457.9" y="264.55" width="38.76" height="5.4" fill="#c4041f" stroke="none" stroke-width="1"/>
<line x1="453.9" y1="267.25" x2="457.9" y2="267.25" stroke="#222" stroke-width="0.9"/>
<rect x="457.9" y="283.6" width="30.09" height="5.4" fill="#26a4de" stroke="none" stroke-width="1"/>
<line x1="453.9" y1="286.3" x2="457.9" y2="286.3" stroke="#222" stroke-width="0.9"/>
<rect x="457.9" y="302.65000000000003" width="30.09" height="5.4" fill="#c4041f" stroke="none" stroke-width="1"/>
<line x1="453.9" y1="305.35" x2="457.9" y2="305.35" stroke="#222" stroke-width="0.9"/>
<rect x="457.9" y="321.7" width="28.815" height="5.4" fill="#c4041f" stroke="none" stroke-width="1"/>
<line x1="453.9" y1="324.4" x2="457.9" y2="324.4" stroke="#222" stroke-width="0.9"/>
<text x="451.3" y="207.3" font-size="8.4" fill="#333" stroke="#333" stroke-width="0.13" text-anchor="end" textLength="62.4" lengthAdjust="spacingAndGlyphs">Natural Killer Cell</text>
<text x="451.3" y="216.8" font-size="8.4" fill="#333" stroke="#333" stroke-width="0.13" text-anchor="end" textLength="31.5" lengthAdjust="spacingAndGlyphs">signaling</text>
<text x="451.3" y="231.6" font-size="8.4" fill="#333" stroke="#333" stroke-width="0.13" text-anchor="end" textLength="69.5" lengthAdjust="spacingAndGlyphs">PI3K/AKT Signaling</text>
<text x="451.3" y="245.8" font-size="8.4" fill="#333" stroke="#333" stroke-width="0.13" text-anchor="end" textLength="35.6" lengthAdjust="spacingAndGlyphs">Leukocyte</text>
<text x="451.3" y="255.2" font-size="8.4" fill="#333" stroke="#333" stroke-width="0.13" text-anchor="end" textLength="82.2" lengthAdjust="spacingAndGlyphs">Extravasation signaling</text>
<text x="451.3" y="264.5" font-size="8.4" fill="#333" stroke="#333" stroke-width="0.13" text-anchor="end" textLength="57.6" lengthAdjust="spacingAndGlyphs">Protein kinase A</text>
<text x="451.3" y="273.6" font-size="8.4" fill="#333" stroke="#333" stroke-width="0.13" text-anchor="end" textLength="31.5" lengthAdjust="spacingAndGlyphs">signaling</text>
<text x="451.3" y="289.0" font-size="8.4" fill="#333" stroke="#333" stroke-width="0.13" text-anchor="end" textLength="45.8" lengthAdjust="spacingAndGlyphs">Th1 pathway</text>
<text x="451.3" y="303.2" font-size="8.4" fill="#333" stroke="#333" stroke-width="0.13" text-anchor="end" textLength="62.6" lengthAdjust="spacingAndGlyphs">CD28 signaling in</text>
<text x="451.3" y="312.6" font-size="8.4" fill="#333" stroke="#333" stroke-width="0.13" text-anchor="end" textLength="47.4" lengthAdjust="spacingAndGlyphs">T helper cells</text>
<text x="451.3" y="322.0" font-size="8.4" fill="#333" stroke="#333" stroke-width="0.13" text-anchor="end" textLength="97.0" lengthAdjust="spacingAndGlyphs">Role of NFAT in Regulation</text>
<text x="451.3" y="331.4" font-size="8.4" fill="#333" stroke="#333" stroke-width="0.13" text-anchor="end" textLength="75.1" lengthAdjust="spacingAndGlyphs">of Immune Response</text>
<line x1="457.9" y1="204.5" x2="457.9" y2="336.0" stroke="#222" stroke-width="1.1"/>
<line x1="457.4" y1="335.4" x2="511.6" y2="335.4" stroke="#222" stroke-width="1.1"/>
<line x1="457.9" y1="335.4" x2="457.9" y2="338.0" stroke="#222" stroke-width="0.9"/>
<text x="457.9" y="348.5" font-size="8.9" fill="#333" stroke="#333" stroke-width="0.3" text-anchor="middle" textLength="4.36" lengthAdjust="spacingAndGlyphs">0</text>
<line x1="468.09999999999997" y1="335.4" x2="468.09999999999997" y2="338.0" stroke="#222" stroke-width="0.9"/>
<text x="468.09999999999997" y="348.5" font-size="8.9" fill="#333" stroke="#333" stroke-width="0.3" text-anchor="middle" textLength="4.36" lengthAdjust="spacingAndGlyphs">2</text>
<line x1="478.29999999999995" y1="335.4" x2="478.29999999999995" y2="338.0" stroke="#222" stroke-width="0.9"/>
<text x="478.29999999999995" y="348.5" font-size="8.9" fill="#333" stroke="#333" stroke-width="0.3" text-anchor="middle" textLength="4.36" lengthAdjust="spacingAndGlyphs">4</text>
<line x1="488.5" y1="335.4" x2="488.5" y2="338.0" stroke="#222" stroke-width="0.9"/>
<text x="488.5" y="348.5" font-size="8.9" fill="#333" stroke="#333" stroke-width="0.3" text-anchor="middle" textLength="4.36" lengthAdjust="spacingAndGlyphs">6</text>
<line x1="498.7" y1="335.4" x2="498.7" y2="338.0" stroke="#222" stroke-width="0.9"/>
<text x="498.7" y="348.5" font-size="8.9" fill="#333" stroke="#333" stroke-width="0.3" text-anchor="middle" textLength="4.36" lengthAdjust="spacingAndGlyphs">8</text>
<line x1="508.9" y1="335.4" x2="508.9" y2="338.0" stroke="#222" stroke-width="0.9"/>
<text x="508.9" y="348.5" font-size="8.9" fill="#333" stroke="#333" stroke-width="0.3" text-anchor="middle" textLength="8.71" lengthAdjust="spacingAndGlyphs">10</text>
<text x="273.8" y="361.2" font-size="9.6" fill="#333" stroke="#333" stroke-width="0.13" textLength="13.4" lengthAdjust="spacingAndGlyphs">-log</text>
<text x="287.6" y="363.09999999999997" font-size="7.6" fill="#333" stroke="#333" stroke-width="0.13" textLength="7.0" lengthAdjust="spacingAndGlyphs">10</text>
<text x="295.4" y="361.2" font-size="9.6" fill="#333" stroke="#333" stroke-width="0.13" textLength="30.2" lengthAdjust="spacingAndGlyphs">(<tspan font-style="italic">P</tspan>-value)</text>
<text x="459.0" y="361.0" font-size="9.6" fill="#333" stroke="#333" stroke-width="0.13" textLength="13.6" lengthAdjust="spacingAndGlyphs">-log</text>
<text x="473.0" y="362.9" font-size="7.6" fill="#333" stroke="#333" stroke-width="0.13" textLength="7.0" lengthAdjust="spacingAndGlyphs">10</text>
<text x="480.6" y="361.0" font-size="9.6" fill="#333" stroke="#333" stroke-width="0.13" textLength="30.0" lengthAdjust="spacingAndGlyphs">(<tspan font-style="italic">P</tspan>-value)</text>
<rect x="355.0" y="346.9" width="6.1" height="6.0" fill="#26a4de" stroke="none" stroke-width="1"/>
<text x="364.4" y="352.2" font-size="8.4" fill="#333" stroke="#333" stroke-width="0.13" textLength="66.0" lengthAdjust="spacingAndGlyphs">Activated (z score)</text>
<rect x="355.0" y="358.4" width="6.1" height="6.1" fill="#c4041f" stroke="none" stroke-width="1"/>
<text x="364.4" y="364.0" font-size="8.4" fill="#333" stroke="#333" stroke-width="0.13" textLength="63.0" lengthAdjust="spacingAndGlyphs">Inhibited (z score)</text>
<rect x="0.5" y="0.5" width="519" height="379" fill="none" stroke="#505050" stroke-width="1"/>
</svg>
</body></html>
